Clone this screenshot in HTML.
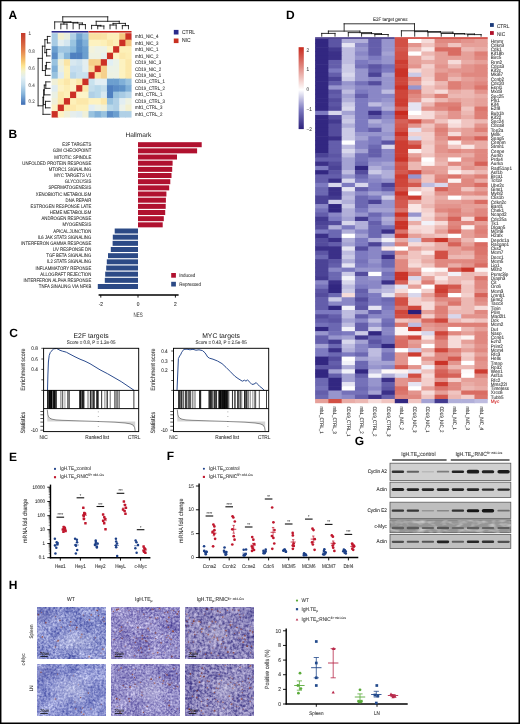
<!DOCTYPE html>
<html><head><meta charset="utf-8"><style>
html,body{margin:0;padding:0;background:#fff;width:520px;height:724px;overflow:hidden;}
svg{display:block;font-family:"Liberation Sans", sans-serif;text-rendering:geometricPrecision;will-change:transform;}
</style></head><body>
<svg width="520" height="724" viewBox="0 0 520 724">
<rect width="520" height="724" fill="#fff"/>
<text x="8.40" y="18.70" font-size="12.000" text-anchor="start" fill="#000" font-weight="bold" >A</text>
<defs><linearGradient id="gA" x1="0" y1="0" x2="0" y2="1"><stop offset="0" stop-color="#c43a2c"/><stop offset="0.12" stop-color="#d2583a"/><stop offset="0.25" stop-color="#e4844e"/><stop offset="0.37" stop-color="#f4bc68"/><stop offset="0.46" stop-color="#fde592"/><stop offset="0.53" stop-color="#f4f2cc"/><stop offset="0.62" stop-color="#e0eef2"/><stop offset="0.72" stop-color="#c2dcec"/><stop offset="0.85" stop-color="#86b4da"/><stop offset="1" stop-color="#3e6db4"/></linearGradient></defs>
<rect x="21.00" y="33.00" width="4.40" height="71.80" fill="url(#gA)" />
<text transform="translate(28.50,35.30) scale(0.8696,1)" font-size="5.175" text-anchor="start" fill="#555" font-weight="normal" stroke="#555" stroke-width="0.08" >1</text>
<text transform="translate(28.50,52.50) scale(0.8696,1)" font-size="5.175" text-anchor="start" fill="#555" font-weight="normal" stroke="#555" stroke-width="0.08" >0.8</text>
<text transform="translate(28.50,69.60) scale(0.8696,1)" font-size="5.175" text-anchor="start" fill="#555" font-weight="normal" stroke="#555" stroke-width="0.08" >0.6</text>
<text transform="translate(28.50,86.70) scale(0.8696,1)" font-size="5.175" text-anchor="start" fill="#555" font-weight="normal" stroke="#555" stroke-width="0.08" >0.4</text>
<text transform="translate(28.50,103.40) scale(0.8696,1)" font-size="5.175" text-anchor="start" fill="#555" font-weight="normal" stroke="#555" stroke-width="0.08" >0.2</text>
<rect x="51.60" y="33.20" width="6.75" height="7.09" fill="#a8cbe4" />
<rect x="57.75" y="33.20" width="6.75" height="7.09" fill="#f3efcd" />
<rect x="63.90" y="33.20" width="6.75" height="7.09" fill="#e8eee0" />
<rect x="70.05" y="33.20" width="6.75" height="7.09" fill="#b0d0e6" />
<rect x="76.20" y="33.20" width="6.75" height="7.09" fill="#72a3d0" />
<rect x="82.35" y="33.20" width="6.75" height="7.09" fill="#95c0df" />
<rect x="88.50" y="33.20" width="6.75" height="7.09" fill="#fae0a0" />
<rect x="94.65" y="33.20" width="6.75" height="7.09" fill="#fae0a0" />
<rect x="100.80" y="33.20" width="6.75" height="7.09" fill="#fae2a4" />
<rect x="106.95" y="33.20" width="6.75" height="7.09" fill="#fcefb8" />
<rect x="113.10" y="33.20" width="6.75" height="7.09" fill="#fcefb8" />
<rect x="119.25" y="33.20" width="6.75" height="7.09" fill="#f5c880" />
<rect x="125.40" y="33.20" width="6.15" height="7.09" fill="#cc3026" />
<rect x="51.60" y="39.69" width="6.75" height="7.09" fill="#a8cbe4" />
<rect x="57.75" y="39.69" width="6.75" height="7.09" fill="#e4eef0" />
<rect x="63.90" y="39.69" width="6.75" height="7.09" fill="#d4e6f0" />
<rect x="70.05" y="39.69" width="6.75" height="7.09" fill="#9ac4e0" />
<rect x="76.20" y="39.69" width="6.75" height="7.09" fill="#5f93c8" />
<rect x="82.35" y="39.69" width="6.75" height="7.09" fill="#80b0d8" />
<rect x="88.50" y="39.69" width="6.75" height="7.09" fill="#fdf2c0" />
<rect x="94.65" y="39.69" width="6.75" height="7.09" fill="#fdf2c0" />
<rect x="100.80" y="39.69" width="6.75" height="7.09" fill="#fdf0b8" />
<rect x="106.95" y="39.69" width="6.75" height="7.09" fill="#fbe7a8" />
<rect x="113.10" y="39.69" width="6.75" height="7.09" fill="#fcefb8" />
<rect x="119.25" y="39.69" width="6.75" height="7.09" fill="#cc3026" />
<rect x="125.40" y="39.69" width="6.15" height="7.09" fill="#f3c47e" />
<rect x="51.60" y="46.18" width="6.75" height="7.09" fill="#6c9fcf" />
<rect x="57.75" y="46.18" width="6.75" height="7.09" fill="#a0c6e2" />
<rect x="63.90" y="46.18" width="6.75" height="7.09" fill="#a0c6e2" />
<rect x="70.05" y="46.18" width="6.75" height="7.09" fill="#88b8dc" />
<rect x="76.20" y="46.18" width="6.75" height="7.09" fill="#5a8fc6" />
<rect x="82.35" y="46.18" width="6.75" height="7.09" fill="#6ca0d0" />
<rect x="88.50" y="46.18" width="6.75" height="7.09" fill="#f3f3dc" />
<rect x="94.65" y="46.18" width="6.75" height="7.09" fill="#edf2e6" />
<rect x="100.80" y="46.18" width="6.75" height="7.09" fill="#edf2e6" />
<rect x="106.95" y="46.18" width="6.75" height="7.09" fill="#fdf4c6" />
<rect x="113.10" y="46.18" width="6.75" height="7.09" fill="#cc3026" />
<rect x="119.25" y="46.18" width="6.75" height="7.09" fill="#fdf0b8" />
<rect x="125.40" y="46.18" width="6.15" height="7.09" fill="#fdf0b8" />
<rect x="51.60" y="52.67" width="6.75" height="7.09" fill="#5a8cc6" />
<rect x="57.75" y="52.67" width="6.75" height="7.09" fill="#b8d8ea" />
<rect x="63.90" y="52.67" width="6.75" height="7.09" fill="#85b5da" />
<rect x="70.05" y="52.67" width="6.75" height="7.09" fill="#4f80c0" />
<rect x="76.20" y="52.67" width="6.75" height="7.09" fill="#4f80c0" />
<rect x="82.35" y="52.67" width="6.75" height="7.09" fill="#6c9fcf" />
<rect x="88.50" y="52.67" width="6.75" height="7.09" fill="#eef2e2" />
<rect x="94.65" y="52.67" width="6.75" height="7.09" fill="#eef2e2" />
<rect x="100.80" y="52.67" width="6.75" height="7.09" fill="#e6f0ee" />
<rect x="106.95" y="52.67" width="6.75" height="7.09" fill="#cc3026" />
<rect x="113.10" y="52.67" width="6.75" height="7.09" fill="#fdf4c6" />
<rect x="119.25" y="52.67" width="6.75" height="7.09" fill="#fce9ac" />
<rect x="125.40" y="52.67" width="6.15" height="7.09" fill="#fdeeb4" />
<rect x="51.60" y="59.16" width="6.75" height="7.09" fill="#98c2df" />
<rect x="57.75" y="59.16" width="6.75" height="7.09" fill="#f0f0d8" />
<rect x="63.90" y="59.16" width="6.75" height="7.09" fill="#fbe5a5" />
<rect x="70.05" y="59.16" width="6.75" height="7.09" fill="#d8e8f0" />
<rect x="76.20" y="59.16" width="6.75" height="7.09" fill="#cfe3ef" />
<rect x="82.35" y="59.16" width="6.75" height="7.09" fill="#e4eef0" />
<rect x="88.50" y="59.16" width="6.75" height="7.09" fill="#f6cf88" />
<rect x="94.65" y="59.16" width="6.75" height="7.09" fill="#f6d08c" />
<rect x="100.80" y="59.16" width="6.75" height="7.09" fill="#cc3026" />
<rect x="106.95" y="59.16" width="6.75" height="7.09" fill="#e1eff4" />
<rect x="113.10" y="59.16" width="6.75" height="7.09" fill="#ebf2e8" />
<rect x="119.25" y="59.16" width="6.75" height="7.09" fill="#fdf2c0" />
<rect x="125.40" y="59.16" width="6.15" height="7.09" fill="#fce8aa" />
<rect x="51.60" y="65.65" width="6.75" height="7.09" fill="#80b0d8" />
<rect x="57.75" y="65.65" width="6.75" height="7.09" fill="#eaf0e4" />
<rect x="63.90" y="65.65" width="6.75" height="7.09" fill="#fdf0b8" />
<rect x="70.05" y="65.65" width="6.75" height="7.09" fill="#c6def0" />
<rect x="76.20" y="65.65" width="6.75" height="7.09" fill="#c8dfee" />
<rect x="82.35" y="65.65" width="6.75" height="7.09" fill="#e2eef2" />
<rect x="88.50" y="65.65" width="6.75" height="7.09" fill="#fadc9c" />
<rect x="94.65" y="65.65" width="6.75" height="7.09" fill="#cc3026" />
<rect x="100.80" y="65.65" width="6.75" height="7.09" fill="#f6d08c" />
<rect x="106.95" y="65.65" width="6.75" height="7.09" fill="#ecf2e6" />
<rect x="113.10" y="65.65" width="6.75" height="7.09" fill="#ecf2e6" />
<rect x="119.25" y="65.65" width="6.75" height="7.09" fill="#fdf2c0" />
<rect x="125.40" y="65.65" width="6.15" height="7.09" fill="#fce8aa" />
<rect x="51.60" y="72.14" width="6.75" height="7.09" fill="#98c2df" />
<rect x="57.75" y="72.14" width="6.75" height="7.09" fill="#dfecf2" />
<rect x="63.90" y="72.14" width="6.75" height="7.09" fill="#fcf0b8" />
<rect x="70.05" y="72.14" width="6.75" height="7.09" fill="#b8d6ea" />
<rect x="76.20" y="72.14" width="6.75" height="7.09" fill="#c8e0ee" />
<rect x="82.35" y="72.14" width="6.75" height="7.09" fill="#c8e0ee" />
<rect x="88.50" y="72.14" width="6.75" height="7.09" fill="#cc3026" />
<rect x="94.65" y="72.14" width="6.75" height="7.09" fill="#fde5a4" />
<rect x="100.80" y="72.14" width="6.75" height="7.09" fill="#f6d08c" />
<rect x="106.95" y="72.14" width="6.75" height="7.09" fill="#eef2e2" />
<rect x="113.10" y="72.14" width="6.75" height="7.09" fill="#eef2e4" />
<rect x="119.25" y="72.14" width="6.75" height="7.09" fill="#fdf2c0" />
<rect x="125.40" y="72.14" width="6.15" height="7.09" fill="#fce8aa" />
<rect x="51.60" y="78.63" width="6.75" height="7.09" fill="#f0f0d8" />
<rect x="57.75" y="78.63" width="6.75" height="7.09" fill="#fdf0b8" />
<rect x="63.90" y="78.63" width="6.75" height="7.09" fill="#fce7a8" />
<rect x="70.05" y="78.63" width="6.75" height="7.09" fill="#fdf2c4" />
<rect x="76.20" y="78.63" width="6.75" height="7.09" fill="#fce8aa" />
<rect x="82.35" y="78.63" width="6.75" height="7.09" fill="#cc3026" />
<rect x="88.50" y="78.63" width="6.75" height="7.09" fill="#c8e2ee" />
<rect x="94.65" y="78.63" width="6.75" height="7.09" fill="#e2eef4" />
<rect x="100.80" y="78.63" width="6.75" height="7.09" fill="#e2eef4" />
<rect x="106.95" y="78.63" width="6.75" height="7.09" fill="#6c9fcf" />
<rect x="113.10" y="78.63" width="6.75" height="7.09" fill="#6c9fcf" />
<rect x="119.25" y="78.63" width="6.75" height="7.09" fill="#80b0d8" />
<rect x="125.40" y="78.63" width="6.15" height="7.09" fill="#98c2df" />
<rect x="51.60" y="85.12" width="6.75" height="7.09" fill="#e0ecf0" />
<rect x="57.75" y="85.12" width="6.75" height="7.09" fill="#fdf2c4" />
<rect x="63.90" y="85.12" width="6.75" height="7.09" fill="#fdeeb4" />
<rect x="70.05" y="85.12" width="6.75" height="7.09" fill="#fdf4c8" />
<rect x="76.20" y="85.12" width="6.75" height="7.09" fill="#cc3026" />
<rect x="82.35" y="85.12" width="6.75" height="7.09" fill="#fce8aa" />
<rect x="88.50" y="85.12" width="6.75" height="7.09" fill="#c4deec" />
<rect x="94.65" y="85.12" width="6.75" height="7.09" fill="#b8d8ea" />
<rect x="100.80" y="85.12" width="6.75" height="7.09" fill="#c4deec" />
<rect x="106.95" y="85.12" width="6.75" height="7.09" fill="#4f80c0" />
<rect x="113.10" y="85.12" width="6.75" height="7.09" fill="#5a8cc6" />
<rect x="119.25" y="85.12" width="6.75" height="7.09" fill="#5f93c8" />
<rect x="125.40" y="85.12" width="6.15" height="7.09" fill="#80b0d8" />
<rect x="51.60" y="91.61" width="6.75" height="7.09" fill="#eaf0e4" />
<rect x="57.75" y="91.61" width="6.75" height="7.09" fill="#fce9ac" />
<rect x="63.90" y="91.61" width="6.75" height="7.09" fill="#fdf0b8" />
<rect x="70.05" y="91.61" width="6.75" height="7.09" fill="#cc3026" />
<rect x="76.20" y="91.61" width="6.75" height="7.09" fill="#fdf4c8" />
<rect x="82.35" y="91.61" width="6.75" height="7.09" fill="#fdf4c8" />
<rect x="88.50" y="91.61" width="6.75" height="7.09" fill="#b0d0e6" />
<rect x="94.65" y="91.61" width="6.75" height="7.09" fill="#b8d8ea" />
<rect x="100.80" y="91.61" width="6.75" height="7.09" fill="#d8e8f0" />
<rect x="106.95" y="91.61" width="6.75" height="7.09" fill="#4f80c0" />
<rect x="113.10" y="91.61" width="6.75" height="7.09" fill="#98c2df" />
<rect x="119.25" y="91.61" width="6.75" height="7.09" fill="#a8cbe4" />
<rect x="125.40" y="91.61" width="6.15" height="7.09" fill="#b8d6ea" />
<rect x="51.60" y="98.10" width="6.75" height="7.09" fill="#f0f0d8" />
<rect x="57.75" y="98.10" width="6.75" height="7.09" fill="#fce8aa" />
<rect x="63.90" y="98.10" width="6.75" height="7.09" fill="#cc3026" />
<rect x="70.05" y="98.10" width="6.75" height="7.09" fill="#fdf0b8" />
<rect x="76.20" y="98.10" width="6.75" height="7.09" fill="#fce8aa" />
<rect x="82.35" y="98.10" width="6.75" height="7.09" fill="#fce8aa" />
<rect x="88.50" y="98.10" width="6.75" height="7.09" fill="#fdf2c0" />
<rect x="94.65" y="98.10" width="6.75" height="7.09" fill="#fdf2c0" />
<rect x="100.80" y="98.10" width="6.75" height="7.09" fill="#fce8aa" />
<rect x="106.95" y="98.10" width="6.75" height="7.09" fill="#98c2df" />
<rect x="113.10" y="98.10" width="6.75" height="7.09" fill="#b0d0e6" />
<rect x="119.25" y="98.10" width="6.75" height="7.09" fill="#e2eef2" />
<rect x="125.40" y="98.10" width="6.15" height="7.09" fill="#eef2e2" />
<rect x="51.60" y="104.59" width="6.75" height="7.09" fill="#fdf2c4" />
<rect x="57.75" y="104.59" width="6.75" height="7.09" fill="#cc3026" />
<rect x="63.90" y="104.59" width="6.75" height="7.09" fill="#fce8aa" />
<rect x="70.05" y="104.59" width="6.75" height="7.09" fill="#fde9ac" />
<rect x="76.20" y="104.59" width="6.75" height="7.09" fill="#fdf0b8" />
<rect x="82.35" y="104.59" width="6.75" height="7.09" fill="#fdf0b8" />
<rect x="88.50" y="104.59" width="6.75" height="7.09" fill="#e2eef4" />
<rect x="94.65" y="104.59" width="6.75" height="7.09" fill="#ecf2e6" />
<rect x="100.80" y="104.59" width="6.75" height="7.09" fill="#f0f0d8" />
<rect x="106.95" y="104.59" width="6.75" height="7.09" fill="#b8d8ea" />
<rect x="113.10" y="104.59" width="6.75" height="7.09" fill="#b0d0e6" />
<rect x="119.25" y="104.59" width="6.75" height="7.09" fill="#ecf2ea" />
<rect x="125.40" y="104.59" width="6.15" height="7.09" fill="#f3f0d0" />
<rect x="51.60" y="111.08" width="6.75" height="6.49" fill="#cc3026" />
<rect x="57.75" y="111.08" width="6.75" height="6.49" fill="#fdf2c4" />
<rect x="63.90" y="111.08" width="6.75" height="6.49" fill="#f0f0d8" />
<rect x="70.05" y="111.08" width="6.75" height="6.49" fill="#e6eeec" />
<rect x="76.20" y="111.08" width="6.75" height="6.49" fill="#e0ecf0" />
<rect x="82.35" y="111.08" width="6.75" height="6.49" fill="#f0f0d8" />
<rect x="88.50" y="111.08" width="6.75" height="6.49" fill="#98c2df" />
<rect x="94.65" y="111.08" width="6.75" height="6.49" fill="#80b0d8" />
<rect x="100.80" y="111.08" width="6.75" height="6.49" fill="#98c2df" />
<rect x="106.95" y="111.08" width="6.75" height="6.49" fill="#5a8cc6" />
<rect x="113.10" y="111.08" width="6.75" height="6.49" fill="#6c9fcf" />
<rect x="119.25" y="111.08" width="6.75" height="6.49" fill="#b0d0e6" />
<rect x="125.40" y="111.08" width="6.15" height="6.49" fill="#b0d0e6" />
<rect x="51.60" y="31.00" width="36.90" height="1.60" fill="#2b2a8c" />
<rect x="88.50" y="31.00" width="43.05" height="1.60" fill="#c8281e" />
<path d="M60.83 28.80L60.83 24.10 M66.97 28.80L66.97 24.10 M60.83 24.10L66.97 24.10 M79.28 28.80L79.28 24.60 M85.43 28.80L85.43 24.60 M79.28 24.60L85.43 24.60 M73.12 28.80L73.12 23.00 M82.35 24.60L82.35 23.00 M73.12 23.00L82.35 23.00 M63.90 24.10L63.90 22.40 M77.74 23.00L77.74 22.40 M63.90 22.40L77.74 22.40 M54.68 28.80L54.68 21.90 M70.82 22.40L70.82 21.90 M54.68 21.90L70.82 21.90 M97.72 28.80L97.72 26.00 M103.88 28.80L103.88 26.00 M97.72 26.00L103.88 26.00 M91.58 28.80L91.58 25.40 M100.80 26.00L100.80 25.40 M91.58 25.40L100.80 25.40 M110.03 28.80L110.03 25.00 M116.18 28.80L116.18 25.00 M110.03 25.00L116.18 25.00 M122.33 28.80L122.33 25.60 M128.47 28.80L128.47 25.60 M122.33 25.60L128.47 25.60 M113.10 25.00L113.10 23.40 M125.40 25.60L125.40 23.40 M113.10 23.40L125.40 23.40 M96.19 25.40L96.19 21.30 M119.25 23.40L119.25 21.30 M96.19 21.30L119.25 21.30 M62.75 21.90L62.75 16.80 M107.72 21.30L107.72 16.80 M62.75 16.80L107.72 16.80 M50.10 36.45L47.40 36.45 M50.10 42.94L47.40 42.94 M47.40 36.45L47.40 42.94 M50.10 49.43L46.60 49.43 M50.10 55.92L46.60 55.92 M46.60 49.43L46.60 55.92 M47.40 39.69L44.90 39.69 M46.60 52.67L44.90 52.67 M44.90 39.69L44.90 52.67 M50.10 62.41L46.40 62.41 M50.10 68.90L46.40 68.90 M46.40 62.41L46.40 68.90 M46.40 65.65L45.40 65.65 M50.10 75.39L45.40 75.39 M45.40 65.65L45.40 75.39 M44.90 46.18L42.40 46.18 M45.40 70.52L42.40 70.52 M42.40 46.18L42.40 70.52 M50.10 81.88L45.80 81.88 M50.10 88.37L45.80 88.37 M45.80 81.88L45.80 88.37 M45.80 85.12L44.30 85.12 M50.10 94.86L44.30 94.86 M44.30 85.12L44.30 94.86 M50.10 101.34L45.50 101.34 M50.10 107.84L45.50 107.84 M45.50 101.34L45.50 107.84 M44.30 89.99L43.60 89.99 M45.50 104.59L43.60 104.59 M43.60 89.99L43.60 104.59 M43.60 97.29L43.00 97.29 M50.10 114.33L43.00 114.33 M43.00 97.29L43.00 114.33 M42.40 58.35L38.10 58.35 M43.00 105.81L38.10 105.81 M38.10 58.35L38.10 105.81" stroke="#111" stroke-width="0.85" fill="none" stroke-linecap="square"/>
<text transform="translate(135.00,38.05) scale(0.8696,1)" font-size="5.060" text-anchor="start" fill="#333" font-weight="normal" stroke="#333" stroke-width="0.08" >mb1_NIC_4</text>
<text transform="translate(135.00,44.54) scale(0.8696,1)" font-size="5.060" text-anchor="start" fill="#333" font-weight="normal" stroke="#333" stroke-width="0.08" >mb1_NIC_3</text>
<text transform="translate(135.00,51.03) scale(0.8696,1)" font-size="5.060" text-anchor="start" fill="#333" font-weight="normal" stroke="#333" stroke-width="0.08" >mb1_NIC_1</text>
<text transform="translate(135.00,57.52) scale(0.8696,1)" font-size="5.060" text-anchor="start" fill="#333" font-weight="normal" stroke="#333" stroke-width="0.08" >mb1_NIC_2</text>
<text transform="translate(135.00,64.00) scale(0.8696,1)" font-size="5.060" text-anchor="start" fill="#333" font-weight="normal" stroke="#333" stroke-width="0.08" >CD19_NIC_3</text>
<text transform="translate(135.00,70.50) scale(0.8696,1)" font-size="5.060" text-anchor="start" fill="#333" font-weight="normal" stroke="#333" stroke-width="0.08" >CD19_NIC_2</text>
<text transform="translate(135.00,76.98) scale(0.8696,1)" font-size="5.060" text-anchor="start" fill="#333" font-weight="normal" stroke="#333" stroke-width="0.08" >CD19_NIC_1</text>
<text transform="translate(135.00,83.47) scale(0.8696,1)" font-size="5.060" text-anchor="start" fill="#333" font-weight="normal" stroke="#333" stroke-width="0.08" >CD19_CTRL_1</text>
<text transform="translate(135.00,89.97) scale(0.8696,1)" font-size="5.060" text-anchor="start" fill="#333" font-weight="normal" stroke="#333" stroke-width="0.08" >CD19_CTRL_2</text>
<text transform="translate(135.00,96.45) scale(0.8696,1)" font-size="5.060" text-anchor="start" fill="#333" font-weight="normal" stroke="#333" stroke-width="0.08" >mb1_CTRL_1</text>
<text transform="translate(135.00,102.94) scale(0.8696,1)" font-size="5.060" text-anchor="start" fill="#333" font-weight="normal" stroke="#333" stroke-width="0.08" >CD19_CTRL_3</text>
<text transform="translate(135.00,109.44) scale(0.8696,1)" font-size="5.060" text-anchor="start" fill="#333" font-weight="normal" stroke="#333" stroke-width="0.08" >mb1_CTRL_3</text>
<text transform="translate(135.00,115.92) scale(0.8696,1)" font-size="5.060" text-anchor="start" fill="#333" font-weight="normal" stroke="#333" stroke-width="0.08" >mb1_CTRL_2</text>
<rect x="173.80" y="29.90" width="4.70" height="4.60" fill="#2a2a8a" />
<text transform="translate(182.00,33.80) scale(0.8696,1)" font-size="5.750" text-anchor="start" fill="#333" font-weight="normal" stroke="#333" stroke-width="0.08" >CTRL</text>
<rect x="173.80" y="38.50" width="4.70" height="4.60" fill="#c83020" />
<text transform="translate(182.00,42.40) scale(0.8696,1)" font-size="5.750" text-anchor="start" fill="#333" font-weight="normal" stroke="#333" stroke-width="0.08" >NIC</text>
<text x="8.60" y="137.60" font-size="12.000" text-anchor="start" fill="#000" font-weight="bold" >B</text>
<text x="138.40" y="137.40" font-size="6.600" text-anchor="middle" fill="#222" font-weight="normal" >Hallmark</text>
<rect x="138.00" y="142.20" width="63.70" height="5.00" fill="#b0112f" />
<text transform="translate(91.30,146.20) scale(0.8696,1)" font-size="4.945" text-anchor="end" fill="#333" font-weight="normal" stroke="#333" stroke-width="0.08" >E2F TARGETS</text>
<rect x="138.00" y="148.36" width="59.10" height="5.00" fill="#b0112f" />
<text transform="translate(91.30,152.36) scale(0.8696,1)" font-size="4.945" text-anchor="end" fill="#333" font-weight="normal" stroke="#333" stroke-width="0.08" >G2M CHECKPOINT</text>
<rect x="138.00" y="154.53" width="39.00" height="5.00" fill="#b0112f" />
<text transform="translate(91.30,158.53) scale(0.8696,1)" font-size="4.945" text-anchor="end" fill="#333" font-weight="normal" stroke="#333" stroke-width="0.08" >MITOTIC SPINDLE</text>
<rect x="138.00" y="160.69" width="34.60" height="5.00" fill="#b0112f" />
<text transform="translate(91.30,164.69) scale(0.8696,1)" font-size="4.945" text-anchor="end" fill="#333" font-weight="normal" stroke="#333" stroke-width="0.08" >UNFOLDED PROTEIN RESPONSE</text>
<rect x="138.00" y="166.86" width="34.20" height="5.00" fill="#b0112f" />
<text transform="translate(91.30,170.86) scale(0.8696,1)" font-size="4.945" text-anchor="end" fill="#333" font-weight="normal" stroke="#333" stroke-width="0.08" >MTORC1 SIGNALING</text>
<rect x="138.00" y="173.02" width="33.50" height="5.00" fill="#b0112f" />
<text transform="translate(91.30,177.02) scale(0.8696,1)" font-size="4.945" text-anchor="end" fill="#333" font-weight="normal" stroke="#333" stroke-width="0.08" >MYC TARGETS V1</text>
<rect x="138.00" y="179.19" width="32.30" height="5.00" fill="#b0112f" />
<text transform="translate(91.30,183.19) scale(0.8696,1)" font-size="4.945" text-anchor="end" fill="#333" font-weight="normal" stroke="#333" stroke-width="0.08" >GLYCOLYSIS</text>
<rect x="138.00" y="185.35" width="31.20" height="5.00" fill="#b0112f" />
<text transform="translate(91.30,189.35) scale(0.8696,1)" font-size="4.945" text-anchor="end" fill="#333" font-weight="normal" stroke="#333" stroke-width="0.08" >SPERMATOGENESIS</text>
<rect x="138.00" y="191.52" width="28.40" height="5.00" fill="#b0112f" />
<text transform="translate(91.30,195.52) scale(0.8696,1)" font-size="4.945" text-anchor="end" fill="#333" font-weight="normal" stroke="#333" stroke-width="0.08" >XENOBIOTIC METABOLISM</text>
<rect x="138.00" y="197.69" width="27.90" height="5.00" fill="#b0112f" />
<text transform="translate(91.30,201.69) scale(0.8696,1)" font-size="4.945" text-anchor="end" fill="#333" font-weight="normal" stroke="#333" stroke-width="0.08" >DNA REPAIR</text>
<rect x="138.00" y="203.85" width="27.70" height="5.00" fill="#b0112f" />
<text transform="translate(91.30,207.85) scale(0.8696,1)" font-size="4.945" text-anchor="end" fill="#333" font-weight="normal" stroke="#333" stroke-width="0.08" >ESTROGEN RESPONSE LATE</text>
<rect x="138.00" y="210.01" width="27.20" height="5.00" fill="#b0112f" />
<text transform="translate(91.30,214.01) scale(0.8696,1)" font-size="4.945" text-anchor="end" fill="#333" font-weight="normal" stroke="#333" stroke-width="0.08" >HEME METABOLISM</text>
<rect x="138.00" y="216.18" width="25.80" height="5.00" fill="#b0112f" />
<text transform="translate(91.30,220.18) scale(0.8696,1)" font-size="4.945" text-anchor="end" fill="#333" font-weight="normal" stroke="#333" stroke-width="0.08" >ANDROGEN RESPONSE</text>
<rect x="138.00" y="222.34" width="24.70" height="5.00" fill="#b0112f" />
<text transform="translate(91.30,226.34) scale(0.8696,1)" font-size="4.945" text-anchor="end" fill="#333" font-weight="normal" stroke="#333" stroke-width="0.08" >MYOGENESIS</text>
<rect x="114.70" y="228.51" width="23.30" height="5.00" fill="#2c4a86" />
<text transform="translate(91.30,232.51) scale(0.8696,1)" font-size="4.945" text-anchor="end" fill="#333" font-weight="normal" stroke="#333" stroke-width="0.08" >APICAL JUNCTION</text>
<rect x="112.80" y="234.67" width="25.20" height="5.00" fill="#2c4a86" />
<text transform="translate(91.30,238.67) scale(0.8696,1)" font-size="4.945" text-anchor="end" fill="#333" font-weight="normal" stroke="#333" stroke-width="0.08" >IL6 JAK STAT3 SIGNALING</text>
<rect x="112.60" y="240.84" width="25.40" height="5.00" fill="#2c4a86" />
<text transform="translate(91.30,244.84) scale(0.8696,1)" font-size="4.945" text-anchor="end" fill="#333" font-weight="normal" stroke="#333" stroke-width="0.08" >INTERFERON GAMMA RESPONSE</text>
<rect x="110.80" y="247.00" width="27.20" height="5.00" fill="#2c4a86" />
<text transform="translate(91.30,251.00) scale(0.8696,1)" font-size="4.945" text-anchor="end" fill="#333" font-weight="normal" stroke="#333" stroke-width="0.08" >UV RESPONSE DN</text>
<rect x="108.00" y="253.17" width="30.00" height="5.00" fill="#2c4a86" />
<text transform="translate(91.30,257.17) scale(0.8696,1)" font-size="4.945" text-anchor="end" fill="#333" font-weight="normal" stroke="#333" stroke-width="0.08" >TGF BETA SIGNALING</text>
<rect x="106.80" y="259.33" width="31.20" height="5.00" fill="#2c4a86" />
<text transform="translate(91.30,263.33) scale(0.8696,1)" font-size="4.945" text-anchor="end" fill="#333" font-weight="normal" stroke="#333" stroke-width="0.08" >IL2 STAT5 SIGNALING</text>
<rect x="106.20" y="265.50" width="31.80" height="5.00" fill="#2c4a86" />
<text transform="translate(91.30,269.50) scale(0.8696,1)" font-size="4.945" text-anchor="end" fill="#333" font-weight="normal" stroke="#333" stroke-width="0.08" >INFLAMMATORY REPONSE</text>
<rect x="105.20" y="271.66" width="32.80" height="5.00" fill="#2c4a86" />
<text transform="translate(91.30,275.66) scale(0.8696,1)" font-size="4.945" text-anchor="end" fill="#333" font-weight="normal" stroke="#333" stroke-width="0.08" >ALLOGRAFT REJECTION</text>
<rect x="104.80" y="277.83" width="33.20" height="5.00" fill="#2c4a86" />
<text transform="translate(91.30,281.83) scale(0.8696,1)" font-size="4.945" text-anchor="end" fill="#333" font-weight="normal" stroke="#333" stroke-width="0.08" >INTERFERON ALPHA RESPONSE</text>
<rect x="97.80" y="284.00" width="40.20" height="5.00" fill="#2c4a86" />
<text transform="translate(91.30,288.00) scale(0.8696,1)" font-size="4.945" text-anchor="end" fill="#333" font-weight="normal" stroke="#333" stroke-width="0.08" >TNFA SINALING VIA NFKB</text>
<line x1="98.60" y1="295.00" x2="178.60" y2="295.00" stroke="#000" stroke-width="1.3" />
<line x1="100.80" y1="295.00" x2="100.80" y2="297.60" stroke="#000" stroke-width="0.9" />
<text transform="translate(100.80,305.60) scale(0.8696,1)" font-size="5.635" text-anchor="middle" fill="#333" font-weight="normal" stroke="#333" stroke-width="0.08" >-2</text>
<line x1="138.00" y1="295.00" x2="138.00" y2="297.60" stroke="#000" stroke-width="0.9" />
<text transform="translate(138.00,305.60) scale(0.8696,1)" font-size="5.635" text-anchor="middle" fill="#333" font-weight="normal" stroke="#333" stroke-width="0.08" >0</text>
<line x1="175.40" y1="295.00" x2="175.40" y2="297.60" stroke="#000" stroke-width="0.9" />
<text transform="translate(175.40,305.60) scale(0.8696,1)" font-size="5.635" text-anchor="middle" fill="#333" font-weight="normal" stroke="#333" stroke-width="0.08" >2</text>
<text x="138.20" y="316.80" font-size="6.400" text-anchor="middle" fill="#333" font-weight="normal" textLength="9.2" lengthAdjust="spacingAndGlyphs">NES</text>
<rect x="171.20" y="273.00" width="4.70" height="4.70" fill="#b0112f" />
<text transform="translate(179.20,277.00) scale(0.8696,1)" font-size="5.175" text-anchor="start" fill="#333" font-weight="normal" stroke="#333" stroke-width="0.08" >Induced</text>
<rect x="171.20" y="281.80" width="4.70" height="4.70" fill="#2c4a86" />
<text transform="translate(179.20,285.80) scale(0.8696,1)" font-size="5.175" text-anchor="start" fill="#333" font-weight="normal" stroke="#333" stroke-width="0.08" >Repressed</text>
<text x="9.20" y="337.40" font-size="12.000" text-anchor="start" fill="#000" font-weight="bold" >C</text>
<text x="91.15" y="337.90" font-size="6.800" text-anchor="middle" fill="#111" font-weight="normal" >E2F targets</text>
<text transform="translate(91.15,344.40) scale(0.8696,1)" font-size="5.175" text-anchor="middle" fill="#333" font-weight="normal" stroke="#333" stroke-width="0.08" >Score = 0.8, P = 1.2e-05</text>
<rect x="50.28" y="390.40" width="0.88" height="18.20" fill="rgb(17,17,17)"/><rect x="52.82" y="390.40" width="0.70" height="18.20" fill="rgb(14,14,14)"/><rect x="51.32" y="390.40" width="0.85" height="18.20" fill="rgb(5,5,5)"/><rect x="50.46" y="390.40" width="0.85" height="18.20" fill="rgb(19,19,19)"/><rect x="47.52" y="390.40" width="0.52" height="18.20" fill="rgb(9,9,9)"/><rect x="50.95" y="390.40" width="0.47" height="18.20" fill="rgb(20,20,20)"/><rect x="54.36" y="390.40" width="0.78" height="18.20" fill="rgb(14,14,14)"/><rect x="51.54" y="390.40" width="0.76" height="18.20" fill="rgb(5,5,5)"/><rect x="53.20" y="390.40" width="0.48" height="18.20" fill="rgb(2,2,2)"/><rect x="48.26" y="390.40" width="0.75" height="18.20" fill="rgb(7,7,7)"/><rect x="52.79" y="390.40" width="0.67" height="18.20" fill="rgb(10,10,10)"/><rect x="53.29" y="390.40" width="0.57" height="18.20" fill="rgb(16,16,16)"/><rect x="49.06" y="390.40" width="0.78" height="18.20" fill="rgb(0,0,0)"/><rect x="50.32" y="390.40" width="0.65" height="18.20" fill="rgb(8,8,8)"/><rect x="51.04" y="390.40" width="0.80" height="18.20" fill="rgb(2,2,2)"/><rect x="49.23" y="390.40" width="0.71" height="18.20" fill="rgb(7,7,7)"/><rect x="47.03" y="390.40" width="0.83" height="18.20" fill="rgb(18,18,18)"/><rect x="49.88" y="390.40" width="0.64" height="18.20" fill="rgb(9,9,9)"/><rect x="54.18" y="390.40" width="0.56" height="18.20" fill="rgb(0,0,0)"/><rect x="53.94" y="390.40" width="0.68" height="18.20" fill="rgb(1,1,1)"/><rect x="54.35" y="390.40" width="0.66" height="18.20" fill="rgb(12,12,12)"/><rect x="51.16" y="390.40" width="0.84" height="18.20" fill="rgb(6,6,6)"/><rect x="48.88" y="390.40" width="0.61" height="18.20" fill="rgb(2,2,2)"/><rect x="55.44" y="390.40" width="0.83" height="18.20" fill="rgb(26,26,26)"/><rect x="55.74" y="390.40" width="0.80" height="18.20" fill="rgb(15,15,15)"/><rect x="55.43" y="390.40" width="0.85" height="18.20" fill="rgb(29,29,29)"/><rect x="60.32" y="390.40" width="0.54" height="18.20" fill="rgb(91,91,91)"/><rect x="62.41" y="390.40" width="0.83" height="18.20" fill="rgb(113,113,113)"/><rect x="61.84" y="390.40" width="0.51" height="18.20" fill="rgb(69,69,69)"/><rect x="61.85" y="390.40" width="0.45" height="18.20" fill="rgb(47,47,47)"/><rect x="64.65" y="390.40" width="0.60" height="18.20" fill="rgb(95,95,95)"/><rect x="68.58" y="390.40" width="0.54" height="18.20" fill="rgb(6,6,6)"/><rect x="68.79" y="390.40" width="0.77" height="18.20" fill="rgb(19,19,19)"/><rect x="67.09" y="390.40" width="0.56" height="18.20" fill="rgb(4,4,4)"/><rect x="80.64" y="390.40" width="0.76" height="18.20" fill="rgb(24,24,24)"/><rect x="83.39" y="390.40" width="0.49" height="18.20" fill="rgb(12,12,12)"/><rect x="79.83" y="390.40" width="0.77" height="18.20" fill="rgb(18,18,18)"/><rect x="79.47" y="390.40" width="0.64" height="18.20" fill="rgb(11,11,11)"/><rect x="81.58" y="390.40" width="0.74" height="18.20" fill="rgb(30,30,30)"/><rect x="83.40" y="390.40" width="0.88" height="18.20" fill="rgb(4,4,4)"/><rect x="80.28" y="390.40" width="0.61" height="18.20" fill="rgb(4,4,4)"/><rect x="80.50" y="390.40" width="0.57" height="18.20" fill="rgb(19,19,19)"/><rect x="80.31" y="390.40" width="0.76" height="18.20" fill="rgb(23,23,23)"/><rect x="82.06" y="390.40" width="0.93" height="18.20" fill="rgb(21,21,21)"/><rect x="83.63" y="390.40" width="0.49" height="18.20" fill="rgb(19,19,19)"/><rect x="79.63" y="390.40" width="0.47" height="18.20" fill="rgb(3,3,3)"/><rect x="97.24" y="390.40" width="0.82" height="18.20" fill="rgb(30,30,30)"/><rect x="90.28" y="390.40" width="0.86" height="18.20" fill="rgb(53,53,53)"/><rect x="92.78" y="390.40" width="0.71" height="18.20" fill="rgb(37,37,37)"/><rect x="96.84" y="390.40" width="0.51" height="18.20" fill="rgb(8,8,8)"/><rect x="91.35" y="390.40" width="0.88" height="18.20" fill="rgb(83,83,83)"/><rect x="92.99" y="390.40" width="0.56" height="18.20" fill="rgb(35,35,35)"/><rect x="96.66" y="390.40" width="0.48" height="18.20" fill="rgb(2,2,2)"/><rect x="90.52" y="390.40" width="0.48" height="18.20" fill="rgb(31,31,31)"/><rect x="87.65" y="390.40" width="0.72" height="18.20" fill="rgb(47,47,47)"/><rect x="97.37" y="390.40" width="0.63" height="18.20" fill="rgb(11,11,11)"/><rect x="96.37" y="390.40" width="0.78" height="18.20" fill="rgb(42,42,42)"/><rect x="93.93" y="390.40" width="0.92" height="18.20" fill="rgb(74,74,74)"/><rect x="92.70" y="390.40" width="0.69" height="18.20" fill="rgb(2,2,2)"/><rect x="89.86" y="390.40" width="0.93" height="18.20" fill="rgb(39,39,39)"/><rect x="97.90" y="390.40" width="0.49" height="18.20" fill="rgb(101,101,101)"/><rect x="98.35" y="390.40" width="0.61" height="18.20" fill="rgb(59,59,59)"/><rect x="107.29" y="390.40" width="0.68" height="18.20" fill="rgb(29,29,29)"/><rect x="101.23" y="390.40" width="0.90" height="18.20" fill="rgb(25,25,25)"/><rect x="104.78" y="390.40" width="0.51" height="18.20" fill="rgb(110,110,110)"/><rect x="106.95" y="390.40" width="0.63" height="18.20" fill="rgb(63,63,63)"/><rect x="104.28" y="390.40" width="0.49" height="18.20" fill="rgb(135,135,135)"/><rect x="105.93" y="390.40" width="0.85" height="18.20" fill="rgb(140,140,140)"/><rect x="119.09" y="390.40" width="0.46" height="18.20" fill="rgb(133,133,133)"/><rect x="116.58" y="390.40" width="0.74" height="18.20" fill="rgb(108,108,108)"/><rect x="115.91" y="390.40" width="0.50" height="18.20" fill="rgb(70,70,70)"/><rect x="109.74" y="390.40" width="0.89" height="18.20" fill="rgb(92,92,92)"/><rect x="117.40" y="390.40" width="0.92" height="18.20" fill="rgb(109,109,109)"/><rect x="116.98" y="390.40" width="0.67" height="18.20" fill="rgb(118,118,118)"/><rect x="118.78" y="390.40" width="0.71" height="18.20" fill="rgb(70,70,70)"/><rect x="114.73" y="390.40" width="0.75" height="18.20" fill="rgb(99,99,99)"/><rect x="114.31" y="390.40" width="0.93" height="18.20" fill="rgb(89,89,89)"/><rect x="133.51" y="390.40" width="0.78" height="18.20" fill="rgb(9,9,9)"/>
<polygon points="47.30,421.5 47.30,409.60 47.80,414.50 48.60,416.80 50.00,418.30 52.00,419.20 56.00,419.90 62.00,420.30 80.00,420.90 98.00,421.50 115.00,422.20 125.00,423.00 130.00,423.80 133.00,425.00 134.60,427.50 135.20,431.00 135.20,421.5" fill="#d4d4d4"/>
<polyline points="47.30,409.60 47.80,414.50 48.60,416.80 50.00,418.30 52.00,419.20 56.00,419.90 62.00,420.30 80.00,420.90 98.00,421.50 115.00,422.20 125.00,423.00 130.00,423.80 133.00,425.00 134.60,427.50 135.20,431.00" fill="none" stroke="#444" stroke-width="0.6"/>
<rect x="97.90" y="411.50" width="0.60" height="0.80" fill="#555" />
<rect x="97.90" y="416.00" width="0.60" height="0.80" fill="#555" />
<rect x="97.90" y="421.00" width="0.60" height="0.80" fill="#555" />
<rect x="97.90" y="426.00" width="0.60" height="0.80" fill="#555" />
<polyline points="47.50,390.40 47.90,375.00 48.40,362.00 49.20,355.50 50.30,352.50 51.50,351.20 52.50,349.80 53.80,348.80 56.50,348.50 58.00,349.20 60.00,350.30 62.50,351.20 65.00,351.80 66.50,352.30 70.00,354.20 75.00,356.80 80.00,359.20 85.00,361.20 90.00,363.70 100.00,369.80 107.70,373.80 121.20,381.60 134.20,390.40" fill="none" stroke="#2c4c8e" stroke-width="1.0" stroke-linejoin="round"/>
<rect x="43.60" y="348.3" width="95.10" height="83.30" fill="none" stroke="#000" stroke-width="0.95"/>
<line x1="43.60" y1="390.40" x2="138.70" y2="390.40" stroke="#000" stroke-width="0.95" />
<line x1="43.60" y1="408.60" x2="138.70" y2="408.60" stroke="#000" stroke-width="0.95" />
<line x1="41.30" y1="348.30" x2="43.60" y2="348.30" stroke="#111" stroke-width="0.7" />
<text transform="translate(37.80,350.00) scale(0.8696,1)" font-size="5.405" text-anchor="end" fill="#333" font-weight="normal" stroke="#333" stroke-width="0.08" >0.8</text>
<line x1="41.30" y1="359.00" x2="43.60" y2="359.00" stroke="#111" stroke-width="0.7" />
<text transform="translate(37.80,360.70) scale(0.8696,1)" font-size="5.405" text-anchor="end" fill="#333" font-weight="normal" stroke="#333" stroke-width="0.08" >0.6</text>
<line x1="41.30" y1="369.40" x2="43.60" y2="369.40" stroke="#111" stroke-width="0.7" />
<text transform="translate(37.80,371.10) scale(0.8696,1)" font-size="5.405" text-anchor="end" fill="#333" font-weight="normal" stroke="#333" stroke-width="0.08" >0.4</text>
<line x1="41.30" y1="379.80" x2="43.60" y2="379.80" stroke="#111" stroke-width="0.7" />
<line x1="41.30" y1="390.40" x2="43.60" y2="390.40" stroke="#111" stroke-width="0.7" />
<line x1="40.40" y1="411.50" x2="43.60" y2="411.50" stroke="#111" stroke-width="0.7" />
<line x1="40.40" y1="414.80" x2="43.60" y2="414.80" stroke="#111" stroke-width="0.7" />
<line x1="40.40" y1="418.50" x2="43.60" y2="418.50" stroke="#111" stroke-width="0.7" />
<line x1="40.40" y1="422.10" x2="43.60" y2="422.10" stroke="#111" stroke-width="0.7" />
<line x1="40.40" y1="426.30" x2="43.60" y2="426.30" stroke="#111" stroke-width="0.7" />
<line x1="40.40" y1="430.20" x2="43.60" y2="430.20" stroke="#111" stroke-width="0.7" />
<text transform="translate(37.80,431.90) scale(0.8696,1)" font-size="5.405" text-anchor="end" fill="#333" font-weight="normal" stroke="#333" stroke-width="0.08" >-10</text>
<text x="0.00" y="0.00" font-size="6.268" text-anchor="middle" fill="#333" font-weight="normal" stroke="#333" stroke-width="0.08" transform="translate(25.20,369.6) rotate(-90) scale(0.8696,1)">Enrichment score</text>
<text x="0.00" y="0.00" font-size="6.268" text-anchor="middle" fill="#333" font-weight="normal" stroke="#333" stroke-width="0.08" transform="translate(25.20,422.6) rotate(-90) scale(0.8696,1)">Statistics</text>
<text transform="translate(43.60,439.20) scale(0.8696,1)" font-size="5.520" text-anchor="middle" fill="#333" font-weight="normal" stroke="#333" stroke-width="0.08" >NIC</text>
<text transform="translate(97.15,439.20) scale(0.8696,1)" font-size="5.520" text-anchor="middle" fill="#333" font-weight="normal" stroke="#333" stroke-width="0.08" >Ranked list</text>
<text transform="translate(134.20,439.20) scale(0.8696,1)" font-size="5.520" text-anchor="middle" fill="#333" font-weight="normal" stroke="#333" stroke-width="0.08" >CTRL</text>
<text x="221.10" y="337.90" font-size="6.800" text-anchor="middle" fill="#111" font-weight="normal" >MYC targets</text>
<text transform="translate(221.10,344.40) scale(0.8696,1)" font-size="5.175" text-anchor="middle" fill="#333" font-weight="normal" stroke="#333" stroke-width="0.08" >Score = 0.43, P = 2.5e-05</text>
<rect x="199.03" y="390.40" width="0.90" height="18.20" fill="rgb(37,37,37)"/><rect x="179.26" y="390.40" width="0.60" height="18.20" fill="rgb(75,75,75)"/><rect x="186.21" y="390.40" width="0.52" height="18.20" fill="rgb(45,45,45)"/><rect x="181.81" y="390.40" width="0.46" height="18.20" fill="rgb(56,56,56)"/><rect x="191.87" y="390.40" width="0.50" height="18.20" fill="rgb(3,3,3)"/><rect x="200.36" y="390.40" width="0.66" height="18.20" fill="rgb(63,63,63)"/><rect x="189.35" y="390.40" width="0.63" height="18.20" fill="rgb(55,55,55)"/><rect x="178.65" y="390.40" width="0.74" height="18.20" fill="rgb(4,4,4)"/><rect x="192.76" y="390.40" width="0.56" height="18.20" fill="rgb(79,79,79)"/><rect x="194.58" y="390.40" width="0.83" height="18.20" fill="rgb(72,72,72)"/><rect x="185.96" y="390.40" width="0.59" height="18.20" fill="rgb(73,73,73)"/><rect x="200.20" y="390.40" width="0.49" height="18.20" fill="rgb(73,73,73)"/><rect x="188.44" y="390.40" width="0.75" height="18.20" fill="rgb(61,61,61)"/><rect x="187.82" y="390.40" width="0.54" height="18.20" fill="rgb(20,20,20)"/><rect x="181.50" y="390.40" width="0.79" height="18.20" fill="rgb(41,41,41)"/><rect x="189.52" y="390.40" width="0.51" height="18.20" fill="rgb(74,74,74)"/><rect x="179.62" y="390.40" width="0.73" height="18.20" fill="rgb(4,4,4)"/><rect x="199.39" y="390.40" width="0.86" height="18.20" fill="rgb(35,35,35)"/><rect x="185.07" y="390.40" width="0.90" height="18.20" fill="rgb(47,47,47)"/><rect x="190.04" y="390.40" width="0.72" height="18.20" fill="rgb(58,58,58)"/><rect x="183.37" y="390.40" width="0.76" height="18.20" fill="rgb(13,13,13)"/><rect x="180.11" y="390.40" width="0.57" height="18.20" fill="rgb(63,63,63)"/><rect x="190.12" y="390.40" width="0.50" height="18.20" fill="rgb(75,75,75)"/><rect x="186.30" y="390.40" width="0.94" height="18.20" fill="rgb(57,57,57)"/><rect x="178.61" y="390.40" width="0.65" height="18.20" fill="rgb(53,53,53)"/><rect x="181.12" y="390.40" width="0.79" height="18.20" fill="rgb(28,28,28)"/><rect x="200.18" y="390.40" width="0.72" height="18.20" fill="rgb(7,7,7)"/><rect x="200.52" y="390.40" width="0.62" height="18.20" fill="rgb(11,11,11)"/><rect x="200.20" y="390.40" width="0.70" height="18.20" fill="rgb(48,48,48)"/><rect x="178.17" y="390.40" width="0.68" height="18.20" fill="rgb(33,33,33)"/><rect x="212.28" y="390.40" width="0.68" height="18.20" fill="rgb(29,29,29)"/><rect x="214.18" y="390.40" width="0.50" height="18.20" fill="rgb(2,2,2)"/><rect x="218.66" y="390.40" width="0.80" height="18.20" fill="rgb(5,5,5)"/><rect x="219.21" y="390.40" width="0.58" height="18.20" fill="rgb(7,7,7)"/><rect x="216.60" y="390.40" width="0.46" height="18.20" fill="rgb(28,28,28)"/><rect x="223.13" y="390.40" width="0.90" height="18.20" fill="rgb(21,21,21)"/><rect x="224.12" y="390.40" width="0.76" height="18.20" fill="rgb(28,28,28)"/><rect x="224.06" y="390.40" width="0.80" height="18.20" fill="rgb(2,2,2)"/><rect x="224.43" y="390.40" width="0.82" height="18.20" fill="rgb(20,20,20)"/><rect x="218.98" y="390.40" width="0.65" height="18.20" fill="rgb(13,13,13)"/><rect x="223.32" y="390.40" width="0.75" height="18.20" fill="rgb(17,17,17)"/><rect x="209.49" y="390.40" width="0.50" height="18.20" fill="rgb(9,9,9)"/><rect x="220.62" y="390.40" width="0.93" height="18.20" fill="rgb(10,10,10)"/><rect x="222.49" y="390.40" width="0.57" height="18.20" fill="rgb(13,13,13)"/><rect x="226.77" y="390.40" width="0.62" height="18.20" fill="rgb(2,2,2)"/><rect x="221.72" y="390.40" width="0.57" height="18.20" fill="rgb(3,3,3)"/><rect x="219.27" y="390.40" width="0.85" height="18.20" fill="rgb(15,15,15)"/><rect x="227.48" y="390.40" width="0.45" height="18.20" fill="rgb(8,8,8)"/><rect x="215.74" y="390.40" width="0.93" height="18.20" fill="rgb(25,25,25)"/><rect x="222.88" y="390.40" width="0.55" height="18.20" fill="rgb(12,12,12)"/><rect x="221.58" y="390.40" width="0.78" height="18.20" fill="rgb(5,5,5)"/><rect x="222.82" y="390.40" width="0.49" height="18.20" fill="rgb(30,30,30)"/><rect x="221.93" y="390.40" width="0.75" height="18.20" fill="rgb(15,15,15)"/><rect x="227.55" y="390.40" width="0.73" height="18.20" fill="rgb(23,23,23)"/><rect x="218.60" y="390.40" width="0.58" height="18.20" fill="rgb(9,9,9)"/><rect x="227.58" y="390.40" width="0.89" height="18.20" fill="rgb(7,7,7)"/><rect x="225.08" y="390.40" width="0.64" height="18.20" fill="rgb(15,15,15)"/><rect x="208.84" y="390.40" width="0.75" height="18.20" fill="rgb(14,14,14)"/><rect x="214.10" y="390.40" width="0.65" height="18.20" fill="rgb(10,10,10)"/><rect x="223.95" y="390.40" width="0.93" height="18.20" fill="rgb(8,8,8)"/><rect x="215.05" y="390.40" width="0.47" height="18.20" fill="rgb(12,12,12)"/><rect x="225.53" y="390.40" width="0.69" height="18.20" fill="rgb(21,21,21)"/><rect x="219.13" y="390.40" width="0.72" height="18.20" fill="rgb(8,8,8)"/><rect x="221.77" y="390.40" width="0.56" height="18.20" fill="rgb(12,12,12)"/><rect x="213.57" y="390.40" width="0.52" height="18.20" fill="rgb(27,27,27)"/><rect x="215.62" y="390.40" width="0.68" height="18.20" fill="rgb(19,19,19)"/><rect x="210.82" y="390.40" width="0.83" height="18.20" fill="rgb(18,18,18)"/><rect x="208.65" y="390.40" width="0.58" height="18.20" fill="rgb(1,1,1)"/><rect x="224.84" y="390.40" width="0.83" height="18.20" fill="rgb(7,7,7)"/><rect x="219.33" y="390.40" width="0.47" height="18.20" fill="rgb(15,15,15)"/><rect x="224.00" y="390.40" width="0.55" height="18.20" fill="rgb(8,8,8)"/><rect x="219.35" y="390.40" width="0.87" height="18.20" fill="rgb(19,19,19)"/><rect x="210.24" y="390.40" width="0.70" height="18.20" fill="rgb(23,23,23)"/><rect x="220.23" y="390.40" width="0.60" height="18.20" fill="rgb(11,11,11)"/><rect x="210.00" y="390.40" width="0.80" height="18.20" fill="rgb(29,29,29)"/><rect x="220.12" y="390.40" width="0.94" height="18.20" fill="rgb(1,1,1)"/><rect x="226.01" y="390.40" width="0.94" height="18.20" fill="rgb(5,5,5)"/><rect x="211.11" y="390.40" width="0.52" height="18.20" fill="rgb(21,21,21)"/><rect x="222.55" y="390.40" width="0.90" height="18.20" fill="rgb(15,15,15)"/><rect x="229.24" y="390.40" width="0.47" height="18.20" fill="rgb(138,138,138)"/><rect x="232.16" y="390.40" width="0.50" height="18.20" fill="rgb(75,75,75)"/><rect x="231.95" y="390.40" width="0.50" height="18.20" fill="rgb(44,44,44)"/><rect x="244.70" y="390.40" width="0.93" height="18.20" fill="rgb(26,26,26)"/><rect x="246.78" y="390.40" width="0.56" height="18.20" fill="rgb(79,79,79)"/><rect x="240.54" y="390.40" width="0.78" height="18.20" fill="rgb(55,55,55)"/><rect x="239.69" y="390.40" width="0.82" height="18.20" fill="rgb(28,28,28)"/><rect x="245.75" y="390.40" width="0.68" height="18.20" fill="rgb(39,39,39)"/><rect x="241.66" y="390.40" width="0.51" height="18.20" fill="rgb(81,81,81)"/><rect x="237.35" y="390.40" width="0.87" height="18.20" fill="rgb(39,39,39)"/><rect x="232.11" y="390.40" width="0.63" height="18.20" fill="rgb(50,50,50)"/><rect x="234.74" y="390.40" width="0.72" height="18.20" fill="rgb(83,83,83)"/><rect x="234.74" y="390.40" width="0.66" height="18.20" fill="rgb(52,52,52)"/><rect x="232.13" y="390.40" width="0.69" height="18.20" fill="rgb(54,54,54)"/><rect x="233.97" y="390.40" width="0.63" height="18.20" fill="rgb(53,53,53)"/><rect x="246.21" y="390.40" width="0.79" height="18.20" fill="rgb(4,4,4)"/><rect x="238.36" y="390.40" width="0.65" height="18.20" fill="rgb(22,22,22)"/><rect x="237.16" y="390.40" width="0.93" height="18.20" fill="rgb(63,63,63)"/><rect x="239.76" y="390.40" width="0.77" height="18.20" fill="rgb(79,79,79)"/><rect x="244.03" y="390.40" width="0.91" height="18.20" fill="rgb(23,23,23)"/><rect x="246.61" y="390.40" width="0.84" height="18.20" fill="rgb(84,84,84)"/><rect x="254.45" y="390.40" width="0.87" height="18.20" fill="rgb(88,88,88)"/><rect x="249.91" y="390.40" width="0.58" height="18.20" fill="rgb(78,78,78)"/><rect x="252.58" y="390.40" width="0.65" height="18.20" fill="rgb(83,83,83)"/><rect x="254.41" y="390.40" width="0.79" height="18.20" fill="rgb(124,124,124)"/><rect x="254.45" y="390.40" width="0.59" height="18.20" fill="rgb(141,141,141)"/><rect x="248.20" y="390.40" width="0.94" height="18.20" fill="rgb(107,107,107)"/><rect x="259.11" y="390.40" width="0.68" height="18.20" fill="rgb(125,125,125)"/><rect x="259.11" y="390.40" width="0.66" height="18.20" fill="rgb(68,68,68)"/><rect x="258.72" y="390.40" width="0.85" height="18.20" fill="rgb(142,142,142)"/><rect x="255.30" y="390.40" width="0.83" height="18.20" fill="rgb(62,62,62)"/><rect x="266.09" y="390.40" width="0.77" height="18.20" fill="rgb(8,8,8)"/>
<polygon points="177.30,421.5 177.30,409.60 177.80,414.50 178.60,416.80 180.00,418.30 182.00,419.20 186.00,419.90 192.00,420.30 210.00,420.90 228.00,421.50 245.00,422.20 255.00,423.00 260.00,423.80 263.00,425.00 264.60,427.50 265.20,431.00 265.20,421.5" fill="#d4d4d4"/>
<polyline points="177.30,409.60 177.80,414.50 178.60,416.80 180.00,418.30 182.00,419.20 186.00,419.90 192.00,420.30 210.00,420.90 228.00,421.50 245.00,422.20 255.00,423.00 260.00,423.80 263.00,425.00 264.60,427.50 265.20,431.00" fill="none" stroke="#444" stroke-width="0.6"/>
<rect x="227.60" y="411.50" width="0.60" height="0.80" fill="#555" />
<rect x="227.60" y="416.00" width="0.60" height="0.80" fill="#555" />
<rect x="227.60" y="421.00" width="0.60" height="0.80" fill="#555" />
<rect x="227.60" y="426.00" width="0.60" height="0.80" fill="#555" />
<polyline points="177.00,390.40 177.80,372.00 178.40,358.50 179.20,357.00 180.00,355.20 180.80,354.60 181.40,352.80 182.50,351.20 183.80,349.40 187.00,349.20 190.00,349.80 193.00,349.30 196.00,350.20 199.00,349.80 202.50,350.60 205.00,352.80 207.70,357.00 209.50,358.20 213.00,359.20 217.50,361.00 222.00,363.60 226.00,367.30 230.00,371.30 234.60,376.00 238.00,378.50 242.30,381.20 244.50,380.20 246.00,381.20 247.50,379.80 250.00,382.50 251.90,384.40 254.00,384.10 256.20,382.60 258.00,384.60 259.60,386.30 262.00,388.10 264.40,390.40" fill="none" stroke="#2c4c8e" stroke-width="1.0" stroke-linejoin="round"/>
<rect x="173.50" y="348.3" width="95.20" height="83.30" fill="none" stroke="#000" stroke-width="0.95"/>
<line x1="173.50" y1="390.40" x2="268.70" y2="390.40" stroke="#000" stroke-width="0.95" />
<line x1="173.50" y1="408.60" x2="268.70" y2="408.60" stroke="#000" stroke-width="0.95" />
<line x1="171.20" y1="351.00" x2="173.50" y2="351.00" stroke="#111" stroke-width="0.7" />
<text transform="translate(167.70,352.70) scale(0.8696,1)" font-size="5.405" text-anchor="end" fill="#333" font-weight="normal" stroke="#333" stroke-width="0.08" >0.4</text>
<line x1="171.20" y1="360.80" x2="173.50" y2="360.80" stroke="#111" stroke-width="0.7" />
<text transform="translate(167.70,362.50) scale(0.8696,1)" font-size="5.405" text-anchor="end" fill="#333" font-weight="normal" stroke="#333" stroke-width="0.08" >0.3</text>
<line x1="171.20" y1="370.60" x2="173.50" y2="370.60" stroke="#111" stroke-width="0.7" />
<text transform="translate(167.70,372.30) scale(0.8696,1)" font-size="5.405" text-anchor="end" fill="#333" font-weight="normal" stroke="#333" stroke-width="0.08" >0.2</text>
<line x1="171.20" y1="380.50" x2="173.50" y2="380.50" stroke="#111" stroke-width="0.7" />
<line x1="171.20" y1="390.40" x2="173.50" y2="390.40" stroke="#111" stroke-width="0.7" />
<line x1="170.30" y1="411.50" x2="173.50" y2="411.50" stroke="#111" stroke-width="0.7" />
<line x1="170.30" y1="414.80" x2="173.50" y2="414.80" stroke="#111" stroke-width="0.7" />
<line x1="170.30" y1="418.50" x2="173.50" y2="418.50" stroke="#111" stroke-width="0.7" />
<line x1="170.30" y1="422.10" x2="173.50" y2="422.10" stroke="#111" stroke-width="0.7" />
<line x1="170.30" y1="426.30" x2="173.50" y2="426.30" stroke="#111" stroke-width="0.7" />
<line x1="170.30" y1="430.20" x2="173.50" y2="430.20" stroke="#111" stroke-width="0.7" />
<text transform="translate(167.70,431.90) scale(0.8696,1)" font-size="5.405" text-anchor="end" fill="#333" font-weight="normal" stroke="#333" stroke-width="0.08" >-10</text>
<text x="0.00" y="0.00" font-size="6.268" text-anchor="middle" fill="#333" font-weight="normal" stroke="#333" stroke-width="0.08" transform="translate(155.10,369.6) rotate(-90) scale(0.8696,1)">Enrichment score</text>
<text x="0.00" y="0.00" font-size="6.268" text-anchor="middle" fill="#333" font-weight="normal" stroke="#333" stroke-width="0.08" transform="translate(155.10,422.6) rotate(-90) scale(0.8696,1)">Statistics</text>
<text transform="translate(173.50,439.20) scale(0.8696,1)" font-size="5.520" text-anchor="middle" fill="#333" font-weight="normal" stroke="#333" stroke-width="0.08" >NIC</text>
<text transform="translate(227.10,439.20) scale(0.8696,1)" font-size="5.520" text-anchor="middle" fill="#333" font-weight="normal" stroke="#333" stroke-width="0.08" >Ranked list</text>
<text transform="translate(264.20,439.20) scale(0.8696,1)" font-size="5.520" text-anchor="middle" fill="#333" font-weight="normal" stroke="#333" stroke-width="0.08" >CTRL</text>
<text x="286.00" y="19.10" font-size="12.000" text-anchor="start" fill="#000" font-weight="bold" >D</text>
<text transform="translate(390.20,20.60) scale(0.8696,1)" font-size="5.175" text-anchor="middle" fill="#333" font-weight="normal" stroke="#333" stroke-width="0.08" >E2F target genes</text>
<defs><linearGradient id="gD" x1="0" y1="0" x2="0" y2="1"><stop offset="0" stop-color="#c82a1e"/><stop offset="0.24" stop-color="#e08880"/><stop offset="0.52" stop-color="#ffffff"/><stop offset="0.76" stop-color="#7d7ac0"/><stop offset="1" stop-color="#2c217c"/></linearGradient></defs>
<rect x="298.60" y="47.20" width="5.20" height="81.90" fill="url(#gD)" />
<text transform="translate(306.60,51.60) scale(0.8696,1)" font-size="5.290" text-anchor="start" fill="#444" font-weight="normal" stroke="#444" stroke-width="0.08" >2</text>
<text transform="translate(306.60,71.30) scale(0.8696,1)" font-size="5.290" text-anchor="start" fill="#444" font-weight="normal" stroke="#444" stroke-width="0.08" >1</text>
<text transform="translate(306.60,91.30) scale(0.8696,1)" font-size="5.290" text-anchor="start" fill="#444" font-weight="normal" stroke="#444" stroke-width="0.08" >0</text>
<text transform="translate(306.60,111.40) scale(0.8696,1)" font-size="5.290" text-anchor="start" fill="#444" font-weight="normal" stroke="#444" stroke-width="0.08" >−1</text>
<text transform="translate(306.60,131.40) scale(0.8696,1)" font-size="5.290" text-anchor="start" fill="#444" font-weight="normal" stroke="#444" stroke-width="0.08" >−2</text>
<rect x="315.10" y="38.75" width="13.88" height="4.84" fill="#322781" />
<rect x="328.38" y="38.75" width="13.88" height="4.84" fill="#5c55a4" />
<rect x="341.66" y="38.75" width="13.88" height="4.84" fill="#b1afd9" />
<rect x="354.94" y="38.75" width="13.88" height="4.84" fill="#b1afd9" />
<rect x="368.22" y="38.75" width="13.88" height="4.84" fill="#645eab" />
<rect x="381.50" y="38.75" width="13.88" height="4.84" fill="#9795cd" />
<rect x="394.78" y="38.75" width="13.88" height="4.84" fill="#d25045" />
<rect x="408.06" y="38.75" width="13.88" height="4.84" fill="#ffffff" />
<rect x="421.34" y="38.75" width="13.88" height="4.84" fill="#f6dbd9" />
<rect x="434.62" y="38.75" width="13.88" height="4.84" fill="#e08880" />
<rect x="447.90" y="38.75" width="13.88" height="4.84" fill="#e08880" />
<rect x="461.18" y="38.75" width="13.88" height="4.84" fill="#e3948d" />
<rect x="474.46" y="38.75" width="13.28" height="4.84" fill="#e6a099" />
<rect x="315.10" y="42.99" width="13.88" height="4.84" fill="#322781" />
<rect x="328.38" y="42.99" width="13.88" height="4.84" fill="#5c55a4" />
<rect x="341.66" y="42.99" width="13.88" height="4.84" fill="#e5e4f2" />
<rect x="354.94" y="42.99" width="13.88" height="4.84" fill="#8a87c6" />
<rect x="368.22" y="42.99" width="13.88" height="4.84" fill="#645eab" />
<rect x="381.50" y="42.99" width="13.88" height="4.84" fill="#9795cd" />
<rect x="394.78" y="42.99" width="13.88" height="4.84" fill="#d25045" />
<rect x="408.06" y="42.99" width="13.88" height="4.84" fill="#e3948d" />
<rect x="421.34" y="42.99" width="13.88" height="4.84" fill="#f0c4c0" />
<rect x="434.62" y="42.99" width="13.88" height="4.84" fill="#e3948d" />
<rect x="447.90" y="42.99" width="13.88" height="4.84" fill="#f0c4c0" />
<rect x="461.18" y="42.99" width="13.88" height="4.84" fill="#e6a099" />
<rect x="474.46" y="42.99" width="13.28" height="4.84" fill="#e6a099" />
<rect x="315.10" y="47.23" width="13.88" height="4.84" fill="#322781" />
<rect x="328.38" y="47.23" width="13.88" height="4.84" fill="#433a8f" />
<rect x="341.66" y="47.23" width="13.88" height="4.84" fill="#bebce0" />
<rect x="354.94" y="47.23" width="13.88" height="4.84" fill="#9795cd" />
<rect x="368.22" y="47.23" width="13.88" height="4.84" fill="#645eab" />
<rect x="381.50" y="47.23" width="13.88" height="4.84" fill="#9795cd" />
<rect x="394.78" y="47.23" width="13.88" height="4.84" fill="#d4594f" />
<rect x="408.06" y="47.23" width="13.88" height="4.84" fill="#ecb8b3" />
<rect x="421.34" y="47.23" width="13.88" height="4.84" fill="#f9e7e6" />
<rect x="434.62" y="47.23" width="13.88" height="4.84" fill="#d96c63" />
<rect x="447.90" y="47.23" width="13.88" height="4.84" fill="#d96c63" />
<rect x="461.18" y="47.23" width="13.88" height="4.84" fill="#ecb8b3" />
<rect x="474.46" y="47.23" width="13.28" height="4.84" fill="#e9aca6" />
<rect x="315.10" y="51.46" width="13.88" height="4.84" fill="#322781" />
<rect x="328.38" y="51.46" width="13.88" height="4.84" fill="#3b3088" />
<rect x="341.66" y="51.46" width="13.88" height="4.84" fill="#bebce0" />
<rect x="354.94" y="51.46" width="13.88" height="4.84" fill="#8a87c6" />
<rect x="368.22" y="51.46" width="13.88" height="4.84" fill="#645eab" />
<rect x="381.50" y="51.46" width="13.88" height="4.84" fill="#a4a2d3" />
<rect x="394.78" y="51.46" width="13.88" height="4.84" fill="#d25045" />
<rect x="408.06" y="51.46" width="13.88" height="4.84" fill="#ffffff" />
<rect x="421.34" y="51.46" width="13.88" height="4.84" fill="#ecb8b3" />
<rect x="434.62" y="51.46" width="13.88" height="4.84" fill="#e6a099" />
<rect x="447.90" y="51.46" width="13.88" height="4.84" fill="#d96c63" />
<rect x="461.18" y="51.46" width="13.88" height="4.84" fill="#e6a099" />
<rect x="474.46" y="51.46" width="13.28" height="4.84" fill="#de7f76" />
<rect x="315.10" y="55.70" width="13.88" height="4.84" fill="#322781" />
<rect x="328.38" y="55.70" width="13.88" height="4.84" fill="#3b3088" />
<rect x="341.66" y="55.70" width="13.88" height="4.84" fill="#bebce0" />
<rect x="354.94" y="55.70" width="13.88" height="4.84" fill="#9795cd" />
<rect x="368.22" y="55.70" width="13.88" height="4.84" fill="#7d7ac0" />
<rect x="381.50" y="55.70" width="13.88" height="4.84" fill="#9795cd" />
<rect x="394.78" y="55.70" width="13.88" height="4.84" fill="#d25045" />
<rect x="408.06" y="55.70" width="13.88" height="4.84" fill="#e6a099" />
<rect x="421.34" y="55.70" width="13.88" height="4.84" fill="#f3cfcc" />
<rect x="434.62" y="55.70" width="13.88" height="4.84" fill="#e6a099" />
<rect x="447.90" y="55.70" width="13.88" height="4.84" fill="#e6a099" />
<rect x="461.18" y="55.70" width="13.88" height="4.84" fill="#e6a099" />
<rect x="474.46" y="55.70" width="13.28" height="4.84" fill="#e08880" />
<rect x="315.10" y="59.94" width="13.88" height="4.84" fill="#322781" />
<rect x="328.38" y="59.94" width="13.88" height="4.84" fill="#645eab" />
<rect x="341.66" y="59.94" width="13.88" height="4.84" fill="#bebce0" />
<rect x="354.94" y="59.94" width="13.88" height="4.84" fill="#7d7ac0" />
<rect x="368.22" y="59.94" width="13.88" height="4.84" fill="#8a87c6" />
<rect x="381.50" y="59.94" width="13.88" height="4.84" fill="#9795cd" />
<rect x="394.78" y="59.94" width="13.88" height="4.84" fill="#cd3d32" />
<rect x="408.06" y="59.94" width="13.88" height="4.84" fill="#e6a099" />
<rect x="421.34" y="59.94" width="13.88" height="4.84" fill="#e9aca6" />
<rect x="434.62" y="59.94" width="13.88" height="4.84" fill="#e6a099" />
<rect x="447.90" y="59.94" width="13.88" height="4.84" fill="#f6dbd9" />
<rect x="461.18" y="59.94" width="13.88" height="4.84" fill="#e9aca6" />
<rect x="474.46" y="59.94" width="13.28" height="4.84" fill="#e6a099" />
<rect x="315.10" y="64.18" width="13.88" height="4.84" fill="#322781" />
<rect x="328.38" y="64.18" width="13.88" height="4.84" fill="#645eab" />
<rect x="341.66" y="64.18" width="13.88" height="4.84" fill="#cbcae6" />
<rect x="354.94" y="64.18" width="13.88" height="4.84" fill="#7571b9" />
<rect x="368.22" y="64.18" width="13.88" height="4.84" fill="#5c55a4" />
<rect x="381.50" y="64.18" width="13.88" height="4.84" fill="#7571b9" />
<rect x="394.78" y="64.18" width="13.88" height="4.84" fill="#cf463b" />
<rect x="408.06" y="64.18" width="13.88" height="4.84" fill="#e3948d" />
<rect x="421.34" y="64.18" width="13.88" height="4.84" fill="#f3cfcc" />
<rect x="434.62" y="64.18" width="13.88" height="4.84" fill="#e3948d" />
<rect x="447.90" y="64.18" width="13.88" height="4.84" fill="#ecb8b3" />
<rect x="461.18" y="64.18" width="13.88" height="4.84" fill="#e3948d" />
<rect x="474.46" y="64.18" width="13.28" height="4.84" fill="#e08880" />
<rect x="315.10" y="68.42" width="13.88" height="4.84" fill="#322781" />
<rect x="328.38" y="68.42" width="13.88" height="4.84" fill="#7d7ac0" />
<rect x="341.66" y="68.42" width="13.88" height="4.84" fill="#cbcae6" />
<rect x="354.94" y="68.42" width="13.88" height="4.84" fill="#9795cd" />
<rect x="368.22" y="68.42" width="13.88" height="4.84" fill="#645eab" />
<rect x="381.50" y="68.42" width="13.88" height="4.84" fill="#7d7ac0" />
<rect x="394.78" y="68.42" width="13.88" height="4.84" fill="#ca3328" />
<rect x="408.06" y="68.42" width="13.88" height="4.84" fill="#f6dbd9" />
<rect x="421.34" y="68.42" width="13.88" height="4.84" fill="#f0c4c0" />
<rect x="434.62" y="68.42" width="13.88" height="4.84" fill="#e6a099" />
<rect x="447.90" y="68.42" width="13.88" height="4.84" fill="#e3948d" />
<rect x="461.18" y="68.42" width="13.88" height="4.84" fill="#e3948d" />
<rect x="474.46" y="68.42" width="13.28" height="4.84" fill="#e08880" />
<rect x="315.10" y="72.65" width="13.88" height="4.84" fill="#322781" />
<rect x="328.38" y="72.65" width="13.88" height="4.84" fill="#645eab" />
<rect x="341.66" y="72.65" width="13.88" height="4.84" fill="#d8d7ec" />
<rect x="354.94" y="72.65" width="13.88" height="4.84" fill="#9795cd" />
<rect x="368.22" y="72.65" width="13.88" height="4.84" fill="#4b4396" />
<rect x="381.50" y="72.65" width="13.88" height="4.84" fill="#a4a2d3" />
<rect x="394.78" y="72.65" width="13.88" height="4.84" fill="#ca3328" />
<rect x="408.06" y="72.65" width="13.88" height="4.84" fill="#cbcae6" />
<rect x="421.34" y="72.65" width="13.88" height="4.84" fill="#f0c4c0" />
<rect x="434.62" y="72.65" width="13.88" height="4.84" fill="#e08880" />
<rect x="447.90" y="72.65" width="13.88" height="4.84" fill="#e6a099" />
<rect x="461.18" y="72.65" width="13.88" height="4.84" fill="#e08880" />
<rect x="474.46" y="72.65" width="13.28" height="4.84" fill="#e08880" />
<rect x="315.10" y="76.89" width="13.88" height="4.84" fill="#322781" />
<rect x="328.38" y="76.89" width="13.88" height="4.84" fill="#4b4396" />
<rect x="341.66" y="76.89" width="13.88" height="4.84" fill="#cbcae6" />
<rect x="354.94" y="76.89" width="13.88" height="4.84" fill="#9795cd" />
<rect x="368.22" y="76.89" width="13.88" height="4.84" fill="#8a87c6" />
<rect x="381.50" y="76.89" width="13.88" height="4.84" fill="#9795cd" />
<rect x="394.78" y="76.89" width="13.88" height="4.84" fill="#cf463b" />
<rect x="408.06" y="76.89" width="13.88" height="4.84" fill="#e08880" />
<rect x="421.34" y="76.89" width="13.88" height="4.84" fill="#f3cfcc" />
<rect x="434.62" y="76.89" width="13.88" height="4.84" fill="#e08880" />
<rect x="447.90" y="76.89" width="13.88" height="4.84" fill="#ecb8b3" />
<rect x="461.18" y="76.89" width="13.88" height="4.84" fill="#e6a099" />
<rect x="474.46" y="76.89" width="13.28" height="4.84" fill="#e3948d" />
<rect x="315.10" y="81.13" width="13.88" height="4.84" fill="#322781" />
<rect x="328.38" y="81.13" width="13.88" height="4.84" fill="#645eab" />
<rect x="341.66" y="81.13" width="13.88" height="4.84" fill="#9795cd" />
<rect x="354.94" y="81.13" width="13.88" height="4.84" fill="#7571b9" />
<rect x="368.22" y="81.13" width="13.88" height="4.84" fill="#544c9d" />
<rect x="381.50" y="81.13" width="13.88" height="4.84" fill="#9795cd" />
<rect x="394.78" y="81.13" width="13.88" height="4.84" fill="#cf463b" />
<rect x="408.06" y="81.13" width="13.88" height="4.84" fill="#e6a099" />
<rect x="421.34" y="81.13" width="13.88" height="4.84" fill="#f6dbd9" />
<rect x="434.62" y="81.13" width="13.88" height="4.84" fill="#ecb8b3" />
<rect x="447.90" y="81.13" width="13.88" height="4.84" fill="#de7f76" />
<rect x="461.18" y="81.13" width="13.88" height="4.84" fill="#e3948d" />
<rect x="474.46" y="81.13" width="13.28" height="4.84" fill="#e08880" />
<rect x="315.10" y="85.37" width="13.88" height="4.84" fill="#322781" />
<rect x="328.38" y="85.37" width="13.88" height="4.84" fill="#9795cd" />
<rect x="341.66" y="85.37" width="13.88" height="4.84" fill="#a4a2d3" />
<rect x="354.94" y="85.37" width="13.88" height="4.84" fill="#8a87c6" />
<rect x="368.22" y="85.37" width="13.88" height="4.84" fill="#8a87c6" />
<rect x="381.50" y="85.37" width="13.88" height="4.84" fill="#9795cd" />
<rect x="394.78" y="85.37" width="13.88" height="4.84" fill="#ca3328" />
<rect x="408.06" y="85.37" width="13.88" height="4.84" fill="#9795cd" />
<rect x="421.34" y="85.37" width="13.88" height="4.84" fill="#f0c4c0" />
<rect x="434.62" y="85.37" width="13.88" height="4.84" fill="#e9aca6" />
<rect x="447.90" y="85.37" width="13.88" height="4.84" fill="#de7f76" />
<rect x="461.18" y="85.37" width="13.88" height="4.84" fill="#e3948d" />
<rect x="474.46" y="85.37" width="13.28" height="4.84" fill="#db756c" />
<rect x="315.10" y="89.61" width="13.88" height="4.84" fill="#322781" />
<rect x="328.38" y="89.61" width="13.88" height="4.84" fill="#5c55a4" />
<rect x="341.66" y="89.61" width="13.88" height="4.84" fill="#bebce0" />
<rect x="354.94" y="89.61" width="13.88" height="4.84" fill="#7d7ac0" />
<rect x="368.22" y="89.61" width="13.88" height="4.84" fill="#8a87c6" />
<rect x="381.50" y="89.61" width="13.88" height="4.84" fill="#bebce0" />
<rect x="394.78" y="89.61" width="13.88" height="4.84" fill="#cf463b" />
<rect x="408.06" y="89.61" width="13.88" height="4.84" fill="#db756c" />
<rect x="421.34" y="89.61" width="13.88" height="4.84" fill="#f0c4c0" />
<rect x="434.62" y="89.61" width="13.88" height="4.84" fill="#f6dbd9" />
<rect x="447.90" y="89.61" width="13.88" height="4.84" fill="#e9aca6" />
<rect x="461.18" y="89.61" width="13.88" height="4.84" fill="#ecb8b3" />
<rect x="474.46" y="89.61" width="13.28" height="4.84" fill="#e3948d" />
<rect x="315.10" y="93.84" width="13.88" height="4.84" fill="#322781" />
<rect x="328.38" y="93.84" width="13.88" height="4.84" fill="#645eab" />
<rect x="341.66" y="93.84" width="13.88" height="4.84" fill="#a4a2d3" />
<rect x="354.94" y="93.84" width="13.88" height="4.84" fill="#645eab" />
<rect x="368.22" y="93.84" width="13.88" height="4.84" fill="#8a87c6" />
<rect x="381.50" y="93.84" width="13.88" height="4.84" fill="#8a87c6" />
<rect x="394.78" y="93.84" width="13.88" height="4.84" fill="#cf463b" />
<rect x="408.06" y="93.84" width="13.88" height="4.84" fill="#e08880" />
<rect x="421.34" y="93.84" width="13.88" height="4.84" fill="#e9aca6" />
<rect x="434.62" y="93.84" width="13.88" height="4.84" fill="#de7f76" />
<rect x="447.90" y="93.84" width="13.88" height="4.84" fill="#ecb8b3" />
<rect x="461.18" y="93.84" width="13.88" height="4.84" fill="#ecb8b3" />
<rect x="474.46" y="93.84" width="13.28" height="4.84" fill="#e9aca6" />
<rect x="315.10" y="98.08" width="13.88" height="4.84" fill="#322781" />
<rect x="328.38" y="98.08" width="13.88" height="4.84" fill="#544c9d" />
<rect x="341.66" y="98.08" width="13.88" height="4.84" fill="#b1afd9" />
<rect x="354.94" y="98.08" width="13.88" height="4.84" fill="#7d7ac0" />
<rect x="368.22" y="98.08" width="13.88" height="4.84" fill="#8a87c6" />
<rect x="381.50" y="98.08" width="13.88" height="4.84" fill="#9795cd" />
<rect x="394.78" y="98.08" width="13.88" height="4.84" fill="#cd3d32" />
<rect x="408.06" y="98.08" width="13.88" height="4.84" fill="#e3948d" />
<rect x="421.34" y="98.08" width="13.88" height="4.84" fill="#f6dbd9" />
<rect x="434.62" y="98.08" width="13.88" height="4.84" fill="#ecb8b3" />
<rect x="447.90" y="98.08" width="13.88" height="4.84" fill="#e6a099" />
<rect x="461.18" y="98.08" width="13.88" height="4.84" fill="#e9aca6" />
<rect x="474.46" y="98.08" width="13.28" height="4.84" fill="#e6a099" />
<rect x="315.10" y="102.32" width="13.88" height="4.84" fill="#322781" />
<rect x="328.38" y="102.32" width="13.88" height="4.84" fill="#5c55a4" />
<rect x="341.66" y="102.32" width="13.88" height="4.84" fill="#cbcae6" />
<rect x="354.94" y="102.32" width="13.88" height="4.84" fill="#7d7ac0" />
<rect x="368.22" y="102.32" width="13.88" height="4.84" fill="#bebce0" />
<rect x="381.50" y="102.32" width="13.88" height="4.84" fill="#a4a2d3" />
<rect x="394.78" y="102.32" width="13.88" height="4.84" fill="#cd3d32" />
<rect x="408.06" y="102.32" width="13.88" height="4.84" fill="#e5e4f2" />
<rect x="421.34" y="102.32" width="13.88" height="4.84" fill="#ecb8b3" />
<rect x="434.62" y="102.32" width="13.88" height="4.84" fill="#de7f76" />
<rect x="447.90" y="102.32" width="13.88" height="4.84" fill="#de7f76" />
<rect x="461.18" y="102.32" width="13.88" height="4.84" fill="#e9aca6" />
<rect x="474.46" y="102.32" width="13.28" height="4.84" fill="#e6a099" />
<rect x="315.10" y="106.56" width="13.88" height="4.84" fill="#322781" />
<rect x="328.38" y="106.56" width="13.88" height="4.84" fill="#544c9d" />
<rect x="341.66" y="106.56" width="13.88" height="4.84" fill="#d8d7ec" />
<rect x="354.94" y="106.56" width="13.88" height="4.84" fill="#7d7ac0" />
<rect x="368.22" y="106.56" width="13.88" height="4.84" fill="#7d7ac0" />
<rect x="381.50" y="106.56" width="13.88" height="4.84" fill="#b1afd9" />
<rect x="394.78" y="106.56" width="13.88" height="4.84" fill="#d66259" />
<rect x="408.06" y="106.56" width="13.88" height="4.84" fill="#e5e4f2" />
<rect x="421.34" y="106.56" width="13.88" height="4.84" fill="#e3948d" />
<rect x="434.62" y="106.56" width="13.88" height="4.84" fill="#e08880" />
<rect x="447.90" y="106.56" width="13.88" height="4.84" fill="#db756c" />
<rect x="461.18" y="106.56" width="13.88" height="4.84" fill="#f0c4c0" />
<rect x="474.46" y="106.56" width="13.28" height="4.84" fill="#db756c" />
<rect x="315.10" y="110.80" width="13.88" height="4.84" fill="#7d7ac0" />
<rect x="328.38" y="110.80" width="13.88" height="4.84" fill="#d8d7ec" />
<rect x="341.66" y="110.80" width="13.88" height="4.84" fill="#a4a2d3" />
<rect x="354.94" y="110.80" width="13.88" height="4.84" fill="#7d7ac0" />
<rect x="368.22" y="110.80" width="13.88" height="4.84" fill="#3b3088" />
<rect x="381.50" y="110.80" width="13.88" height="4.84" fill="#7d7ac0" />
<rect x="394.78" y="110.80" width="13.88" height="4.84" fill="#c82a1e" />
<rect x="408.06" y="110.80" width="13.88" height="4.84" fill="#ffffff" />
<rect x="421.34" y="110.80" width="13.88" height="4.84" fill="#f6dbd9" />
<rect x="434.62" y="110.80" width="13.88" height="4.84" fill="#ecb8b3" />
<rect x="447.90" y="110.80" width="13.88" height="4.84" fill="#e3948d" />
<rect x="461.18" y="110.80" width="13.88" height="4.84" fill="#ecb8b3" />
<rect x="474.46" y="110.80" width="13.28" height="4.84" fill="#de7f76" />
<rect x="315.10" y="115.03" width="13.88" height="4.84" fill="#322781" />
<rect x="328.38" y="115.03" width="13.88" height="4.84" fill="#544c9d" />
<rect x="341.66" y="115.03" width="13.88" height="4.84" fill="#bebce0" />
<rect x="354.94" y="115.03" width="13.88" height="4.84" fill="#7d7ac0" />
<rect x="368.22" y="115.03" width="13.88" height="4.84" fill="#645eab" />
<rect x="381.50" y="115.03" width="13.88" height="4.84" fill="#8a87c6" />
<rect x="394.78" y="115.03" width="13.88" height="4.84" fill="#cd3d32" />
<rect x="408.06" y="115.03" width="13.88" height="4.84" fill="#f6dbd9" />
<rect x="421.34" y="115.03" width="13.88" height="4.84" fill="#f6dbd9" />
<rect x="434.62" y="115.03" width="13.88" height="4.84" fill="#e9aca6" />
<rect x="447.90" y="115.03" width="13.88" height="4.84" fill="#e3948d" />
<rect x="461.18" y="115.03" width="13.88" height="4.84" fill="#e9aca6" />
<rect x="474.46" y="115.03" width="13.28" height="4.84" fill="#de7f76" />
<rect x="315.10" y="119.27" width="13.88" height="4.84" fill="#322781" />
<rect x="328.38" y="119.27" width="13.88" height="4.84" fill="#433a8f" />
<rect x="341.66" y="119.27" width="13.88" height="4.84" fill="#cbcae6" />
<rect x="354.94" y="119.27" width="13.88" height="4.84" fill="#7d7ac0" />
<rect x="368.22" y="119.27" width="13.88" height="4.84" fill="#b1afd9" />
<rect x="381.50" y="119.27" width="13.88" height="4.84" fill="#9795cd" />
<rect x="394.78" y="119.27" width="13.88" height="4.84" fill="#d66259" />
<rect x="408.06" y="119.27" width="13.88" height="4.84" fill="#d25045" />
<rect x="421.34" y="119.27" width="13.88" height="4.84" fill="#e3948d" />
<rect x="434.62" y="119.27" width="13.88" height="4.84" fill="#f0c4c0" />
<rect x="447.90" y="119.27" width="13.88" height="4.84" fill="#f9e7e6" />
<rect x="461.18" y="119.27" width="13.88" height="4.84" fill="#f0c4c0" />
<rect x="474.46" y="119.27" width="13.28" height="4.84" fill="#ecb8b3" />
<rect x="315.10" y="123.51" width="13.88" height="4.84" fill="#322781" />
<rect x="328.38" y="123.51" width="13.88" height="4.84" fill="#544c9d" />
<rect x="341.66" y="123.51" width="13.88" height="4.84" fill="#b1afd9" />
<rect x="354.94" y="123.51" width="13.88" height="4.84" fill="#7d7ac0" />
<rect x="368.22" y="123.51" width="13.88" height="4.84" fill="#9795cd" />
<rect x="381.50" y="123.51" width="13.88" height="4.84" fill="#a4a2d3" />
<rect x="394.78" y="123.51" width="13.88" height="4.84" fill="#d4594f" />
<rect x="408.06" y="123.51" width="13.88" height="4.84" fill="#e3948d" />
<rect x="421.34" y="123.51" width="13.88" height="4.84" fill="#f0c4c0" />
<rect x="434.62" y="123.51" width="13.88" height="4.84" fill="#e3948d" />
<rect x="447.90" y="123.51" width="13.88" height="4.84" fill="#f6dbd9" />
<rect x="461.18" y="123.51" width="13.88" height="4.84" fill="#f0c4c0" />
<rect x="474.46" y="123.51" width="13.28" height="4.84" fill="#e3948d" />
<rect x="315.10" y="127.75" width="13.88" height="4.84" fill="#322781" />
<rect x="328.38" y="127.75" width="13.88" height="4.84" fill="#544c9d" />
<rect x="341.66" y="127.75" width="13.88" height="4.84" fill="#cbcae6" />
<rect x="354.94" y="127.75" width="13.88" height="4.84" fill="#7d7ac0" />
<rect x="368.22" y="127.75" width="13.88" height="4.84" fill="#645eab" />
<rect x="381.50" y="127.75" width="13.88" height="4.84" fill="#a4a2d3" />
<rect x="394.78" y="127.75" width="13.88" height="4.84" fill="#d25045" />
<rect x="408.06" y="127.75" width="13.88" height="4.84" fill="#e5e4f2" />
<rect x="421.34" y="127.75" width="13.88" height="4.84" fill="#ecb8b3" />
<rect x="434.62" y="127.75" width="13.88" height="4.84" fill="#de7f76" />
<rect x="447.90" y="127.75" width="13.88" height="4.84" fill="#e9aca6" />
<rect x="461.18" y="127.75" width="13.88" height="4.84" fill="#e6a099" />
<rect x="474.46" y="127.75" width="13.28" height="4.84" fill="#de7f76" />
<rect x="315.10" y="131.99" width="13.88" height="4.84" fill="#322781" />
<rect x="328.38" y="131.99" width="13.88" height="4.84" fill="#544c9d" />
<rect x="341.66" y="131.99" width="13.88" height="4.84" fill="#cbcae6" />
<rect x="354.94" y="131.99" width="13.88" height="4.84" fill="#9795cd" />
<rect x="368.22" y="131.99" width="13.88" height="4.84" fill="#9795cd" />
<rect x="381.50" y="131.99" width="13.88" height="4.84" fill="#9795cd" />
<rect x="394.78" y="131.99" width="13.88" height="4.84" fill="#ca3328" />
<rect x="408.06" y="131.99" width="13.88" height="4.84" fill="#f3cfcc" />
<rect x="421.34" y="131.99" width="13.88" height="4.84" fill="#f3cfcc" />
<rect x="434.62" y="131.99" width="13.88" height="4.84" fill="#e08880" />
<rect x="447.90" y="131.99" width="13.88" height="4.84" fill="#f6dbd9" />
<rect x="461.18" y="131.99" width="13.88" height="4.84" fill="#e6a099" />
<rect x="474.46" y="131.99" width="13.28" height="4.84" fill="#e6a099" />
<rect x="315.10" y="136.22" width="13.88" height="4.84" fill="#322781" />
<rect x="328.38" y="136.22" width="13.88" height="4.84" fill="#3b3088" />
<rect x="341.66" y="136.22" width="13.88" height="4.84" fill="#cbcae6" />
<rect x="354.94" y="136.22" width="13.88" height="4.84" fill="#a4a2d3" />
<rect x="368.22" y="136.22" width="13.88" height="4.84" fill="#7d7ac0" />
<rect x="381.50" y="136.22" width="13.88" height="4.84" fill="#a4a2d3" />
<rect x="394.78" y="136.22" width="13.88" height="4.84" fill="#d25045" />
<rect x="408.06" y="136.22" width="13.88" height="4.84" fill="#d8d7ec" />
<rect x="421.34" y="136.22" width="13.88" height="4.84" fill="#f3cfcc" />
<rect x="434.62" y="136.22" width="13.88" height="4.84" fill="#e3948d" />
<rect x="447.90" y="136.22" width="13.88" height="4.84" fill="#d96c63" />
<rect x="461.18" y="136.22" width="13.88" height="4.84" fill="#e08880" />
<rect x="474.46" y="136.22" width="13.28" height="4.84" fill="#d66259" />
<rect x="315.10" y="140.46" width="13.88" height="4.84" fill="#322781" />
<rect x="328.38" y="140.46" width="13.88" height="4.84" fill="#645eab" />
<rect x="341.66" y="140.46" width="13.88" height="4.84" fill="#ffffff" />
<rect x="354.94" y="140.46" width="13.88" height="4.84" fill="#8a87c6" />
<rect x="368.22" y="140.46" width="13.88" height="4.84" fill="#7d7ac0" />
<rect x="381.50" y="140.46" width="13.88" height="4.84" fill="#5c55a4" />
<rect x="394.78" y="140.46" width="13.88" height="4.84" fill="#cd3d32" />
<rect x="408.06" y="140.46" width="13.88" height="4.84" fill="#d96c63" />
<rect x="421.34" y="140.46" width="13.88" height="4.84" fill="#f0c4c0" />
<rect x="434.62" y="140.46" width="13.88" height="4.84" fill="#e6a099" />
<rect x="447.90" y="140.46" width="13.88" height="4.84" fill="#fcf3f2" />
<rect x="461.18" y="140.46" width="13.88" height="4.84" fill="#e6a099" />
<rect x="474.46" y="140.46" width="13.28" height="4.84" fill="#e9aca6" />
<rect x="315.10" y="144.70" width="13.88" height="4.84" fill="#322781" />
<rect x="328.38" y="144.70" width="13.88" height="4.84" fill="#645eab" />
<rect x="341.66" y="144.70" width="13.88" height="4.84" fill="#bebce0" />
<rect x="354.94" y="144.70" width="13.88" height="4.84" fill="#8a87c6" />
<rect x="368.22" y="144.70" width="13.88" height="4.84" fill="#6c68b2" />
<rect x="381.50" y="144.70" width="13.88" height="4.84" fill="#d8d7ec" />
<rect x="394.78" y="144.70" width="13.88" height="4.84" fill="#cd3d32" />
<rect x="408.06" y="144.70" width="13.88" height="4.84" fill="#cf463b" />
<rect x="421.34" y="144.70" width="13.88" height="4.84" fill="#f3cfcc" />
<rect x="434.62" y="144.70" width="13.88" height="4.84" fill="#e3948d" />
<rect x="447.90" y="144.70" width="13.88" height="4.84" fill="#f0c4c0" />
<rect x="461.18" y="144.70" width="13.88" height="4.84" fill="#f9e7e6" />
<rect x="474.46" y="144.70" width="13.28" height="4.84" fill="#e9aca6" />
<rect x="315.10" y="148.94" width="13.88" height="4.84" fill="#322781" />
<rect x="328.38" y="148.94" width="13.88" height="4.84" fill="#645eab" />
<rect x="341.66" y="148.94" width="13.88" height="4.84" fill="#d8d7ec" />
<rect x="354.94" y="148.94" width="13.88" height="4.84" fill="#a4a2d3" />
<rect x="368.22" y="148.94" width="13.88" height="4.84" fill="#645eab" />
<rect x="381.50" y="148.94" width="13.88" height="4.84" fill="#8a87c6" />
<rect x="394.78" y="148.94" width="13.88" height="4.84" fill="#cd3d32" />
<rect x="408.06" y="148.94" width="13.88" height="4.84" fill="#fcf3f2" />
<rect x="421.34" y="148.94" width="13.88" height="4.84" fill="#f3cfcc" />
<rect x="434.62" y="148.94" width="13.88" height="4.84" fill="#e3948d" />
<rect x="447.90" y="148.94" width="13.88" height="4.84" fill="#e08880" />
<rect x="461.18" y="148.94" width="13.88" height="4.84" fill="#e3948d" />
<rect x="474.46" y="148.94" width="13.28" height="4.84" fill="#e08880" />
<rect x="315.10" y="153.18" width="13.88" height="4.84" fill="#4b4396" />
<rect x="328.38" y="153.18" width="13.88" height="4.84" fill="#5c55a4" />
<rect x="341.66" y="153.18" width="13.88" height="4.84" fill="#bebce0" />
<rect x="354.94" y="153.18" width="13.88" height="4.84" fill="#7571b9" />
<rect x="368.22" y="153.18" width="13.88" height="4.84" fill="#645eab" />
<rect x="381.50" y="153.18" width="13.88" height="4.84" fill="#8a87c6" />
<rect x="394.78" y="153.18" width="13.88" height="4.84" fill="#cd3d32" />
<rect x="408.06" y="153.18" width="13.88" height="4.84" fill="#e6a099" />
<rect x="421.34" y="153.18" width="13.88" height="4.84" fill="#f0c4c0" />
<rect x="434.62" y="153.18" width="13.88" height="4.84" fill="#e6a099" />
<rect x="447.90" y="153.18" width="13.88" height="4.84" fill="#e6a099" />
<rect x="461.18" y="153.18" width="13.88" height="4.84" fill="#e9aca6" />
<rect x="474.46" y="153.18" width="13.28" height="4.84" fill="#e08880" />
<rect x="315.10" y="157.41" width="13.88" height="4.84" fill="#645eab" />
<rect x="328.38" y="157.41" width="13.88" height="4.84" fill="#645eab" />
<rect x="341.66" y="157.41" width="13.88" height="4.84" fill="#a4a2d3" />
<rect x="354.94" y="157.41" width="13.88" height="4.84" fill="#7571b9" />
<rect x="368.22" y="157.41" width="13.88" height="4.84" fill="#8a87c6" />
<rect x="381.50" y="157.41" width="13.88" height="4.84" fill="#8a87c6" />
<rect x="394.78" y="157.41" width="13.88" height="4.84" fill="#ca3328" />
<rect x="408.06" y="157.41" width="13.88" height="4.84" fill="#e08880" />
<rect x="421.34" y="157.41" width="13.88" height="4.84" fill="#ffffff" />
<rect x="434.62" y="157.41" width="13.88" height="4.84" fill="#e9aca6" />
<rect x="447.90" y="157.41" width="13.88" height="4.84" fill="#ffffff" />
<rect x="461.18" y="157.41" width="13.88" height="4.84" fill="#e3948d" />
<rect x="474.46" y="157.41" width="13.28" height="4.84" fill="#e08880" />
<rect x="315.10" y="161.65" width="13.88" height="4.84" fill="#3b3088" />
<rect x="328.38" y="161.65" width="13.88" height="4.84" fill="#544c9d" />
<rect x="341.66" y="161.65" width="13.88" height="4.84" fill="#a4a2d3" />
<rect x="354.94" y="161.65" width="13.88" height="4.84" fill="#6c68b2" />
<rect x="368.22" y="161.65" width="13.88" height="4.84" fill="#9795cd" />
<rect x="381.50" y="161.65" width="13.88" height="4.84" fill="#a4a2d3" />
<rect x="394.78" y="161.65" width="13.88" height="4.84" fill="#d4594f" />
<rect x="408.06" y="161.65" width="13.88" height="4.84" fill="#ecb8b3" />
<rect x="421.34" y="161.65" width="13.88" height="4.84" fill="#fcf3f2" />
<rect x="434.62" y="161.65" width="13.88" height="4.84" fill="#ecb8b3" />
<rect x="447.90" y="161.65" width="13.88" height="4.84" fill="#e08880" />
<rect x="461.18" y="161.65" width="13.88" height="4.84" fill="#e6a099" />
<rect x="474.46" y="161.65" width="13.28" height="4.84" fill="#d66259" />
<rect x="315.10" y="165.89" width="13.88" height="4.84" fill="#7d7ac0" />
<rect x="328.38" y="165.89" width="13.88" height="4.84" fill="#4b4396" />
<rect x="341.66" y="165.89" width="13.88" height="4.84" fill="#a4a2d3" />
<rect x="354.94" y="165.89" width="13.88" height="4.84" fill="#322781" />
<rect x="368.22" y="165.89" width="13.88" height="4.84" fill="#b1afd9" />
<rect x="381.50" y="165.89" width="13.88" height="4.84" fill="#9795cd" />
<rect x="394.78" y="165.89" width="13.88" height="4.84" fill="#d25045" />
<rect x="408.06" y="165.89" width="13.88" height="4.84" fill="#ecb8b3" />
<rect x="421.34" y="165.89" width="13.88" height="4.84" fill="#e6a099" />
<rect x="434.62" y="165.89" width="13.88" height="4.84" fill="#e6a099" />
<rect x="447.90" y="165.89" width="13.88" height="4.84" fill="#f3cfcc" />
<rect x="461.18" y="165.89" width="13.88" height="4.84" fill="#e3948d" />
<rect x="474.46" y="165.89" width="13.28" height="4.84" fill="#e6a099" />
<rect x="315.10" y="170.13" width="13.88" height="4.84" fill="#322781" />
<rect x="328.38" y="170.13" width="13.88" height="4.84" fill="#5c55a4" />
<rect x="341.66" y="170.13" width="13.88" height="4.84" fill="#bebce0" />
<rect x="354.94" y="170.13" width="13.88" height="4.84" fill="#544c9d" />
<rect x="368.22" y="170.13" width="13.88" height="4.84" fill="#cbcae6" />
<rect x="381.50" y="170.13" width="13.88" height="4.84" fill="#b1afd9" />
<rect x="394.78" y="170.13" width="13.88" height="4.84" fill="#d4594f" />
<rect x="408.06" y="170.13" width="13.88" height="4.84" fill="#cf463b" />
<rect x="421.34" y="170.13" width="13.88" height="4.84" fill="#e3948d" />
<rect x="434.62" y="170.13" width="13.88" height="4.84" fill="#e6a099" />
<rect x="447.90" y="170.13" width="13.88" height="4.84" fill="#fcf3f2" />
<rect x="461.18" y="170.13" width="13.88" height="4.84" fill="#f3cfcc" />
<rect x="474.46" y="170.13" width="13.28" height="4.84" fill="#ecb8b3" />
<rect x="315.10" y="174.37" width="13.88" height="4.84" fill="#645eab" />
<rect x="328.38" y="174.37" width="13.88" height="4.84" fill="#645eab" />
<rect x="341.66" y="174.37" width="13.88" height="4.84" fill="#9795cd" />
<rect x="354.94" y="174.37" width="13.88" height="4.84" fill="#6c68b2" />
<rect x="368.22" y="174.37" width="13.88" height="4.84" fill="#9795cd" />
<rect x="381.50" y="174.37" width="13.88" height="4.84" fill="#b1afd9" />
<rect x="394.78" y="174.37" width="13.88" height="4.84" fill="#cd3d32" />
<rect x="408.06" y="174.37" width="13.88" height="4.84" fill="#9795cd" />
<rect x="421.34" y="174.37" width="13.88" height="4.84" fill="#f0c4c0" />
<rect x="434.62" y="174.37" width="13.88" height="4.84" fill="#e08880" />
<rect x="447.90" y="174.37" width="13.88" height="4.84" fill="#db756c" />
<rect x="461.18" y="174.37" width="13.88" height="4.84" fill="#e3948d" />
<rect x="474.46" y="174.37" width="13.28" height="4.84" fill="#de7f76" />
<rect x="315.10" y="178.60" width="13.88" height="4.84" fill="#645eab" />
<rect x="328.38" y="178.60" width="13.88" height="4.84" fill="#3b3088" />
<rect x="341.66" y="178.60" width="13.88" height="4.84" fill="#d8d7ec" />
<rect x="354.94" y="178.60" width="13.88" height="4.84" fill="#7d7ac0" />
<rect x="368.22" y="178.60" width="13.88" height="4.84" fill="#8a87c6" />
<rect x="381.50" y="178.60" width="13.88" height="4.84" fill="#9795cd" />
<rect x="394.78" y="178.60" width="13.88" height="4.84" fill="#cf463b" />
<rect x="408.06" y="178.60" width="13.88" height="4.84" fill="#e08880" />
<rect x="421.34" y="178.60" width="13.88" height="4.84" fill="#f0c4c0" />
<rect x="434.62" y="178.60" width="13.88" height="4.84" fill="#de7f76" />
<rect x="447.90" y="178.60" width="13.88" height="4.84" fill="#fcf3f2" />
<rect x="461.18" y="178.60" width="13.88" height="4.84" fill="#e08880" />
<rect x="474.46" y="178.60" width="13.28" height="4.84" fill="#e9aca6" />
<rect x="315.10" y="182.84" width="13.88" height="4.84" fill="#7d7ac0" />
<rect x="328.38" y="182.84" width="13.88" height="4.84" fill="#d8d7ec" />
<rect x="341.66" y="182.84" width="13.88" height="4.84" fill="#7d7ac0" />
<rect x="354.94" y="182.84" width="13.88" height="4.84" fill="#d8d7ec" />
<rect x="368.22" y="182.84" width="13.88" height="4.84" fill="#7d7ac0" />
<rect x="381.50" y="182.84" width="13.88" height="4.84" fill="#4b4396" />
<rect x="394.78" y="182.84" width="13.88" height="4.84" fill="#cf463b" />
<rect x="408.06" y="182.84" width="13.88" height="4.84" fill="#d4594f" />
<rect x="421.34" y="182.84" width="13.88" height="4.84" fill="#bebce0" />
<rect x="434.62" y="182.84" width="13.88" height="4.84" fill="#d8d7ec" />
<rect x="447.90" y="182.84" width="13.88" height="4.84" fill="#e08880" />
<rect x="461.18" y="182.84" width="13.88" height="4.84" fill="#e08880" />
<rect x="474.46" y="182.84" width="13.28" height="4.84" fill="#d96c63" />
<rect x="315.10" y="187.08" width="13.88" height="4.84" fill="#6c68b2" />
<rect x="328.38" y="187.08" width="13.88" height="4.84" fill="#3b3088" />
<rect x="341.66" y="187.08" width="13.88" height="4.84" fill="#e5e4f2" />
<rect x="354.94" y="187.08" width="13.88" height="4.84" fill="#645eab" />
<rect x="368.22" y="187.08" width="13.88" height="4.84" fill="#7d7ac0" />
<rect x="381.50" y="187.08" width="13.88" height="4.84" fill="#645eab" />
<rect x="394.78" y="187.08" width="13.88" height="4.84" fill="#d4594f" />
<rect x="408.06" y="187.08" width="13.88" height="4.84" fill="#f0c4c0" />
<rect x="421.34" y="187.08" width="13.88" height="4.84" fill="#f6dbd9" />
<rect x="434.62" y="187.08" width="13.88" height="4.84" fill="#d66259" />
<rect x="447.90" y="187.08" width="13.88" height="4.84" fill="#e08880" />
<rect x="461.18" y="187.08" width="13.88" height="4.84" fill="#f0c4c0" />
<rect x="474.46" y="187.08" width="13.28" height="4.84" fill="#e6a099" />
<rect x="315.10" y="191.32" width="13.88" height="4.84" fill="#6c68b2" />
<rect x="328.38" y="191.32" width="13.88" height="4.84" fill="#3b3088" />
<rect x="341.66" y="191.32" width="13.88" height="4.84" fill="#b1afd9" />
<rect x="354.94" y="191.32" width="13.88" height="4.84" fill="#8a87c6" />
<rect x="368.22" y="191.32" width="13.88" height="4.84" fill="#a4a2d3" />
<rect x="381.50" y="191.32" width="13.88" height="4.84" fill="#9795cd" />
<rect x="394.78" y="191.32" width="13.88" height="4.84" fill="#ca3328" />
<rect x="408.06" y="191.32" width="13.88" height="4.84" fill="#ffffff" />
<rect x="421.34" y="191.32" width="13.88" height="4.84" fill="#f3cfcc" />
<rect x="434.62" y="191.32" width="13.88" height="4.84" fill="#e3948d" />
<rect x="447.90" y="191.32" width="13.88" height="4.84" fill="#e08880" />
<rect x="461.18" y="191.32" width="13.88" height="4.84" fill="#e3948d" />
<rect x="474.46" y="191.32" width="13.28" height="4.84" fill="#e08880" />
<rect x="315.10" y="195.56" width="13.88" height="4.84" fill="#4b4396" />
<rect x="328.38" y="195.56" width="13.88" height="4.84" fill="#433a8f" />
<rect x="341.66" y="195.56" width="13.88" height="4.84" fill="#bebce0" />
<rect x="354.94" y="195.56" width="13.88" height="4.84" fill="#6c68b2" />
<rect x="368.22" y="195.56" width="13.88" height="4.84" fill="#7d7ac0" />
<rect x="381.50" y="195.56" width="13.88" height="4.84" fill="#cbcae6" />
<rect x="394.78" y="195.56" width="13.88" height="4.84" fill="#d25045" />
<rect x="408.06" y="195.56" width="13.88" height="4.84" fill="#cd3d32" />
<rect x="421.34" y="195.56" width="13.88" height="4.84" fill="#f0c4c0" />
<rect x="434.62" y="195.56" width="13.88" height="4.84" fill="#e9aca6" />
<rect x="447.90" y="195.56" width="13.88" height="4.84" fill="#ffffff" />
<rect x="461.18" y="195.56" width="13.88" height="4.84" fill="#f0c4c0" />
<rect x="474.46" y="195.56" width="13.28" height="4.84" fill="#f0c4c0" />
<rect x="315.10" y="199.79" width="13.88" height="4.84" fill="#4b4396" />
<rect x="328.38" y="199.79" width="13.88" height="4.84" fill="#cbcae6" />
<rect x="341.66" y="199.79" width="13.88" height="4.84" fill="#b1afd9" />
<rect x="354.94" y="199.79" width="13.88" height="4.84" fill="#6c68b2" />
<rect x="368.22" y="199.79" width="13.88" height="4.84" fill="#4b4396" />
<rect x="381.50" y="199.79" width="13.88" height="4.84" fill="#9795cd" />
<rect x="394.78" y="199.79" width="13.88" height="4.84" fill="#d4594f" />
<rect x="408.06" y="199.79" width="13.88" height="4.84" fill="#e9aca6" />
<rect x="421.34" y="199.79" width="13.88" height="4.84" fill="#f0c4c0" />
<rect x="434.62" y="199.79" width="13.88" height="4.84" fill="#e6a099" />
<rect x="447.90" y="199.79" width="13.88" height="4.84" fill="#e6a099" />
<rect x="461.18" y="199.79" width="13.88" height="4.84" fill="#e3948d" />
<rect x="474.46" y="199.79" width="13.28" height="4.84" fill="#d96c63" />
<rect x="315.10" y="204.03" width="13.88" height="4.84" fill="#8a87c6" />
<rect x="328.38" y="204.03" width="13.88" height="4.84" fill="#322781" />
<rect x="341.66" y="204.03" width="13.88" height="4.84" fill="#cbcae6" />
<rect x="354.94" y="204.03" width="13.88" height="4.84" fill="#6c68b2" />
<rect x="368.22" y="204.03" width="13.88" height="4.84" fill="#9795cd" />
<rect x="381.50" y="204.03" width="13.88" height="4.84" fill="#9795cd" />
<rect x="394.78" y="204.03" width="13.88" height="4.84" fill="#d4594f" />
<rect x="408.06" y="204.03" width="13.88" height="4.84" fill="#f9e7e6" />
<rect x="421.34" y="204.03" width="13.88" height="4.84" fill="#ecb8b3" />
<rect x="434.62" y="204.03" width="13.88" height="4.84" fill="#e3948d" />
<rect x="447.90" y="204.03" width="13.88" height="4.84" fill="#e3948d" />
<rect x="461.18" y="204.03" width="13.88" height="4.84" fill="#e6a099" />
<rect x="474.46" y="204.03" width="13.28" height="4.84" fill="#e6a099" />
<rect x="315.10" y="208.27" width="13.88" height="4.84" fill="#7571b9" />
<rect x="328.38" y="208.27" width="13.88" height="4.84" fill="#322781" />
<rect x="341.66" y="208.27" width="13.88" height="4.84" fill="#b1afd9" />
<rect x="354.94" y="208.27" width="13.88" height="4.84" fill="#7d7ac0" />
<rect x="368.22" y="208.27" width="13.88" height="4.84" fill="#a4a2d3" />
<rect x="381.50" y="208.27" width="13.88" height="4.84" fill="#a4a2d3" />
<rect x="394.78" y="208.27" width="13.88" height="4.84" fill="#db756c" />
<rect x="408.06" y="208.27" width="13.88" height="4.84" fill="#f9e7e6" />
<rect x="421.34" y="208.27" width="13.88" height="4.84" fill="#f3cfcc" />
<rect x="434.62" y="208.27" width="13.88" height="4.84" fill="#e08880" />
<rect x="447.90" y="208.27" width="13.88" height="4.84" fill="#de7f76" />
<rect x="461.18" y="208.27" width="13.88" height="4.84" fill="#e6a099" />
<rect x="474.46" y="208.27" width="13.28" height="4.84" fill="#e08880" />
<rect x="315.10" y="212.51" width="13.88" height="4.84" fill="#645eab" />
<rect x="328.38" y="212.51" width="13.88" height="4.84" fill="#8a87c6" />
<rect x="341.66" y="212.51" width="13.88" height="4.84" fill="#b1afd9" />
<rect x="354.94" y="212.51" width="13.88" height="4.84" fill="#9795cd" />
<rect x="368.22" y="212.51" width="13.88" height="4.84" fill="#6c68b2" />
<rect x="381.50" y="212.51" width="13.88" height="4.84" fill="#8a87c6" />
<rect x="394.78" y="212.51" width="13.88" height="4.84" fill="#ca3328" />
<rect x="408.06" y="212.51" width="13.88" height="4.84" fill="#9795cd" />
<rect x="421.34" y="212.51" width="13.88" height="4.84" fill="#f6dbd9" />
<rect x="434.62" y="212.51" width="13.88" height="4.84" fill="#e9aca6" />
<rect x="447.90" y="212.51" width="13.88" height="4.84" fill="#e08880" />
<rect x="461.18" y="212.51" width="13.88" height="4.84" fill="#e3948d" />
<rect x="474.46" y="212.51" width="13.28" height="4.84" fill="#e08880" />
<rect x="315.10" y="216.75" width="13.88" height="4.84" fill="#433a8f" />
<rect x="328.38" y="216.75" width="13.88" height="4.84" fill="#7d7ac0" />
<rect x="341.66" y="216.75" width="13.88" height="4.84" fill="#a4a2d3" />
<rect x="354.94" y="216.75" width="13.88" height="4.84" fill="#433a8f" />
<rect x="368.22" y="216.75" width="13.88" height="4.84" fill="#7d7ac0" />
<rect x="381.50" y="216.75" width="13.88" height="4.84" fill="#b1afd9" />
<rect x="394.78" y="216.75" width="13.88" height="4.84" fill="#d66259" />
<rect x="408.06" y="216.75" width="13.88" height="4.84" fill="#e5e4f2" />
<rect x="421.34" y="216.75" width="13.88" height="4.84" fill="#f3cfcc" />
<rect x="434.62" y="216.75" width="13.88" height="4.84" fill="#e3948d" />
<rect x="447.90" y="216.75" width="13.88" height="4.84" fill="#d66259" />
<rect x="461.18" y="216.75" width="13.88" height="4.84" fill="#f6dbd9" />
<rect x="474.46" y="216.75" width="13.28" height="4.84" fill="#d4594f" />
<rect x="315.10" y="220.98" width="13.88" height="4.84" fill="#4b4396" />
<rect x="328.38" y="220.98" width="13.88" height="4.84" fill="#544c9d" />
<rect x="341.66" y="220.98" width="13.88" height="4.84" fill="#d8d7ec" />
<rect x="354.94" y="220.98" width="13.88" height="4.84" fill="#b1afd9" />
<rect x="368.22" y="220.98" width="13.88" height="4.84" fill="#645eab" />
<rect x="381.50" y="220.98" width="13.88" height="4.84" fill="#a4a2d3" />
<rect x="394.78" y="220.98" width="13.88" height="4.84" fill="#ca3328" />
<rect x="408.06" y="220.98" width="13.88" height="4.84" fill="#e9aca6" />
<rect x="421.34" y="220.98" width="13.88" height="4.84" fill="#f2f2f9" />
<rect x="434.62" y="220.98" width="13.88" height="4.84" fill="#f6dbd9" />
<rect x="447.90" y="220.98" width="13.88" height="4.84" fill="#e08880" />
<rect x="461.18" y="220.98" width="13.88" height="4.84" fill="#e08880" />
<rect x="474.46" y="220.98" width="13.28" height="4.84" fill="#e6a099" />
<rect x="315.10" y="225.22" width="13.88" height="4.84" fill="#544c9d" />
<rect x="328.38" y="225.22" width="13.88" height="4.84" fill="#b1afd9" />
<rect x="341.66" y="225.22" width="13.88" height="4.84" fill="#7d7ac0" />
<rect x="354.94" y="225.22" width="13.88" height="4.84" fill="#b1afd9" />
<rect x="368.22" y="225.22" width="13.88" height="4.84" fill="#6c68b2" />
<rect x="381.50" y="225.22" width="13.88" height="4.84" fill="#7571b9" />
<rect x="394.78" y="225.22" width="13.88" height="4.84" fill="#ca3328" />
<rect x="408.06" y="225.22" width="13.88" height="4.84" fill="#f6dbd9" />
<rect x="421.34" y="225.22" width="13.88" height="4.84" fill="#f6dbd9" />
<rect x="434.62" y="225.22" width="13.88" height="4.84" fill="#ecb8b3" />
<rect x="447.90" y="225.22" width="13.88" height="4.84" fill="#de7f76" />
<rect x="461.18" y="225.22" width="13.88" height="4.84" fill="#fcf3f2" />
<rect x="474.46" y="225.22" width="13.28" height="4.84" fill="#e08880" />
<rect x="315.10" y="229.46" width="13.88" height="4.84" fill="#7d7ac0" />
<rect x="328.38" y="229.46" width="13.88" height="4.84" fill="#6c68b2" />
<rect x="341.66" y="229.46" width="13.88" height="4.84" fill="#b1afd9" />
<rect x="354.94" y="229.46" width="13.88" height="4.84" fill="#8a87c6" />
<rect x="368.22" y="229.46" width="13.88" height="4.84" fill="#6c68b2" />
<rect x="381.50" y="229.46" width="13.88" height="4.84" fill="#3b3088" />
<rect x="394.78" y="229.46" width="13.88" height="4.84" fill="#db756c" />
<rect x="408.06" y="229.46" width="13.88" height="4.84" fill="#f3cfcc" />
<rect x="421.34" y="229.46" width="13.88" height="4.84" fill="#f6dbd9" />
<rect x="434.62" y="229.46" width="13.88" height="4.84" fill="#e6a099" />
<rect x="447.90" y="229.46" width="13.88" height="4.84" fill="#d66259" />
<rect x="461.18" y="229.46" width="13.88" height="4.84" fill="#e6a099" />
<rect x="474.46" y="229.46" width="13.28" height="4.84" fill="#de7f76" />
<rect x="315.10" y="233.70" width="13.88" height="4.84" fill="#3b3088" />
<rect x="328.38" y="233.70" width="13.88" height="4.84" fill="#6c68b2" />
<rect x="341.66" y="233.70" width="13.88" height="4.84" fill="#ffffff" />
<rect x="354.94" y="233.70" width="13.88" height="4.84" fill="#a4a2d3" />
<rect x="368.22" y="233.70" width="13.88" height="4.84" fill="#6c68b2" />
<rect x="381.50" y="233.70" width="13.88" height="4.84" fill="#b1afd9" />
<rect x="394.78" y="233.70" width="13.88" height="4.84" fill="#cd3d32" />
<rect x="408.06" y="233.70" width="13.88" height="4.84" fill="#e6a099" />
<rect x="421.34" y="233.70" width="13.88" height="4.84" fill="#ecb8b3" />
<rect x="434.62" y="233.70" width="13.88" height="4.84" fill="#f0c4c0" />
<rect x="447.90" y="233.70" width="13.88" height="4.84" fill="#ffffff" />
<rect x="461.18" y="233.70" width="13.88" height="4.84" fill="#e6a099" />
<rect x="474.46" y="233.70" width="13.28" height="4.84" fill="#e08880" />
<rect x="315.10" y="237.94" width="13.88" height="4.84" fill="#544c9d" />
<rect x="328.38" y="237.94" width="13.88" height="4.84" fill="#3b3088" />
<rect x="341.66" y="237.94" width="13.88" height="4.84" fill="#b1afd9" />
<rect x="354.94" y="237.94" width="13.88" height="4.84" fill="#7d7ac0" />
<rect x="368.22" y="237.94" width="13.88" height="4.84" fill="#b1afd9" />
<rect x="381.50" y="237.94" width="13.88" height="4.84" fill="#f2f2f9" />
<rect x="394.78" y="237.94" width="13.88" height="4.84" fill="#e9aca6" />
<rect x="408.06" y="237.94" width="13.88" height="4.84" fill="#cbcae6" />
<rect x="421.34" y="237.94" width="13.88" height="4.84" fill="#d96c63" />
<rect x="434.62" y="237.94" width="13.88" height="4.84" fill="#ca3328" />
<rect x="447.90" y="237.94" width="13.88" height="4.84" fill="#e08880" />
<rect x="461.18" y="237.94" width="13.88" height="4.84" fill="#ecb8b3" />
<rect x="474.46" y="237.94" width="13.28" height="4.84" fill="#ffffff" />
<rect x="315.10" y="242.17" width="13.88" height="4.84" fill="#544c9d" />
<rect x="328.38" y="242.17" width="13.88" height="4.84" fill="#645eab" />
<rect x="341.66" y="242.17" width="13.88" height="4.84" fill="#a4a2d3" />
<rect x="354.94" y="242.17" width="13.88" height="4.84" fill="#7d7ac0" />
<rect x="368.22" y="242.17" width="13.88" height="4.84" fill="#4b4396" />
<rect x="381.50" y="242.17" width="13.88" height="4.84" fill="#a4a2d3" />
<rect x="394.78" y="242.17" width="13.88" height="4.84" fill="#de7f76" />
<rect x="408.06" y="242.17" width="13.88" height="4.84" fill="#f6dbd9" />
<rect x="421.34" y="242.17" width="13.88" height="4.84" fill="#f3cfcc" />
<rect x="434.62" y="242.17" width="13.88" height="4.84" fill="#e9aca6" />
<rect x="447.90" y="242.17" width="13.88" height="4.84" fill="#d66259" />
<rect x="461.18" y="242.17" width="13.88" height="4.84" fill="#e6a099" />
<rect x="474.46" y="242.17" width="13.28" height="4.84" fill="#d96c63" />
<rect x="315.10" y="246.41" width="13.88" height="4.84" fill="#3b3088" />
<rect x="328.38" y="246.41" width="13.88" height="4.84" fill="#3b3088" />
<rect x="341.66" y="246.41" width="13.88" height="4.84" fill="#e5e4f2" />
<rect x="354.94" y="246.41" width="13.88" height="4.84" fill="#544c9d" />
<rect x="368.22" y="246.41" width="13.88" height="4.84" fill="#8a87c6" />
<rect x="381.50" y="246.41" width="13.88" height="4.84" fill="#f9e7e6" />
<rect x="394.78" y="246.41" width="13.88" height="4.84" fill="#ffffff" />
<rect x="408.06" y="246.41" width="13.88" height="4.84" fill="#e6a099" />
<rect x="421.34" y="246.41" width="13.88" height="4.84" fill="#ecb8b3" />
<rect x="434.62" y="246.41" width="13.88" height="4.84" fill="#e9aca6" />
<rect x="447.90" y="246.41" width="13.88" height="4.84" fill="#e6a099" />
<rect x="461.18" y="246.41" width="13.88" height="4.84" fill="#e08880" />
<rect x="474.46" y="246.41" width="13.28" height="4.84" fill="#db756c" />
<rect x="315.10" y="250.65" width="13.88" height="4.84" fill="#5c55a4" />
<rect x="328.38" y="250.65" width="13.88" height="4.84" fill="#3b3088" />
<rect x="341.66" y="250.65" width="13.88" height="4.84" fill="#bebce0" />
<rect x="354.94" y="250.65" width="13.88" height="4.84" fill="#7d7ac0" />
<rect x="368.22" y="250.65" width="13.88" height="4.84" fill="#8a87c6" />
<rect x="381.50" y="250.65" width="13.88" height="4.84" fill="#6c68b2" />
<rect x="394.78" y="250.65" width="13.88" height="4.84" fill="#e08880" />
<rect x="408.06" y="250.65" width="13.88" height="4.84" fill="#f0c4c0" />
<rect x="421.34" y="250.65" width="13.88" height="4.84" fill="#f9e7e6" />
<rect x="434.62" y="250.65" width="13.88" height="4.84" fill="#d25045" />
<rect x="447.90" y="250.65" width="13.88" height="4.84" fill="#e6a099" />
<rect x="461.18" y="250.65" width="13.88" height="4.84" fill="#e9aca6" />
<rect x="474.46" y="250.65" width="13.28" height="4.84" fill="#db756c" />
<rect x="315.10" y="254.89" width="13.88" height="4.84" fill="#6c68b2" />
<rect x="328.38" y="254.89" width="13.88" height="4.84" fill="#3b3088" />
<rect x="341.66" y="254.89" width="13.88" height="4.84" fill="#cbcae6" />
<rect x="354.94" y="254.89" width="13.88" height="4.84" fill="#7d7ac0" />
<rect x="368.22" y="254.89" width="13.88" height="4.84" fill="#8a87c6" />
<rect x="381.50" y="254.89" width="13.88" height="4.84" fill="#3b3088" />
<rect x="394.78" y="254.89" width="13.88" height="4.84" fill="#e9aca6" />
<rect x="408.06" y="254.89" width="13.88" height="4.84" fill="#f0c4c0" />
<rect x="421.34" y="254.89" width="13.88" height="4.84" fill="#ecb8b3" />
<rect x="434.62" y="254.89" width="13.88" height="4.84" fill="#d25045" />
<rect x="447.90" y="254.89" width="13.88" height="4.84" fill="#ecb8b3" />
<rect x="461.18" y="254.89" width="13.88" height="4.84" fill="#ecb8b3" />
<rect x="474.46" y="254.89" width="13.28" height="4.84" fill="#de7f76" />
<rect x="315.10" y="259.13" width="13.88" height="4.84" fill="#4b4396" />
<rect x="328.38" y="259.13" width="13.88" height="4.84" fill="#5c55a4" />
<rect x="341.66" y="259.13" width="13.88" height="4.84" fill="#b1afd9" />
<rect x="354.94" y="259.13" width="13.88" height="4.84" fill="#7571b9" />
<rect x="368.22" y="259.13" width="13.88" height="4.84" fill="#9795cd" />
<rect x="381.50" y="259.13" width="13.88" height="4.84" fill="#6c68b2" />
<rect x="394.78" y="259.13" width="13.88" height="4.84" fill="#e08880" />
<rect x="408.06" y="259.13" width="13.88" height="4.84" fill="#f3cfcc" />
<rect x="421.34" y="259.13" width="13.88" height="4.84" fill="#e9aca6" />
<rect x="434.62" y="259.13" width="13.88" height="4.84" fill="#e08880" />
<rect x="447.90" y="259.13" width="13.88" height="4.84" fill="#e08880" />
<rect x="461.18" y="259.13" width="13.88" height="4.84" fill="#e08880" />
<rect x="474.46" y="259.13" width="13.28" height="4.84" fill="#de7f76" />
<rect x="315.10" y="263.36" width="13.88" height="4.84" fill="#4b4396" />
<rect x="328.38" y="263.36" width="13.88" height="4.84" fill="#645eab" />
<rect x="341.66" y="263.36" width="13.88" height="4.84" fill="#e5e4f2" />
<rect x="354.94" y="263.36" width="13.88" height="4.84" fill="#7d7ac0" />
<rect x="368.22" y="263.36" width="13.88" height="4.84" fill="#8a87c6" />
<rect x="381.50" y="263.36" width="13.88" height="4.84" fill="#6c68b2" />
<rect x="394.78" y="263.36" width="13.88" height="4.84" fill="#e08880" />
<rect x="408.06" y="263.36" width="13.88" height="4.84" fill="#f6dbd9" />
<rect x="421.34" y="263.36" width="13.88" height="4.84" fill="#f0c4c0" />
<rect x="434.62" y="263.36" width="13.88" height="4.84" fill="#e08880" />
<rect x="447.90" y="263.36" width="13.88" height="4.84" fill="#e9aca6" />
<rect x="461.18" y="263.36" width="13.88" height="4.84" fill="#e3948d" />
<rect x="474.46" y="263.36" width="13.28" height="4.84" fill="#d96c63" />
<rect x="315.10" y="267.60" width="13.88" height="4.84" fill="#4b4396" />
<rect x="328.38" y="267.60" width="13.88" height="4.84" fill="#8a87c6" />
<rect x="341.66" y="267.60" width="13.88" height="4.84" fill="#7d7ac0" />
<rect x="354.94" y="267.60" width="13.88" height="4.84" fill="#9795cd" />
<rect x="368.22" y="267.60" width="13.88" height="4.84" fill="#9795cd" />
<rect x="381.50" y="267.60" width="13.88" height="4.84" fill="#8a87c6" />
<rect x="394.78" y="267.60" width="13.88" height="4.84" fill="#e08880" />
<rect x="408.06" y="267.60" width="13.88" height="4.84" fill="#e6a099" />
<rect x="421.34" y="267.60" width="13.88" height="4.84" fill="#ffffff" />
<rect x="434.62" y="267.60" width="13.88" height="4.84" fill="#fcf3f2" />
<rect x="447.90" y="267.60" width="13.88" height="4.84" fill="#d66259" />
<rect x="461.18" y="267.60" width="13.88" height="4.84" fill="#ca3328" />
<rect x="474.46" y="267.60" width="13.28" height="4.84" fill="#fcf3f2" />
<rect x="315.10" y="271.84" width="13.88" height="4.84" fill="#4b4396" />
<rect x="328.38" y="271.84" width="13.88" height="4.84" fill="#6c68b2" />
<rect x="341.66" y="271.84" width="13.88" height="4.84" fill="#cbcae6" />
<rect x="354.94" y="271.84" width="13.88" height="4.84" fill="#544c9d" />
<rect x="368.22" y="271.84" width="13.88" height="4.84" fill="#ffffff" />
<rect x="381.50" y="271.84" width="13.88" height="4.84" fill="#7571b9" />
<rect x="394.78" y="271.84" width="13.88" height="4.84" fill="#ca3328" />
<rect x="408.06" y="271.84" width="13.88" height="4.84" fill="#de7f76" />
<rect x="421.34" y="271.84" width="13.88" height="4.84" fill="#f6dbd9" />
<rect x="434.62" y="271.84" width="13.88" height="4.84" fill="#f0c4c0" />
<rect x="447.90" y="271.84" width="13.88" height="4.84" fill="#f2f2f9" />
<rect x="461.18" y="271.84" width="13.88" height="4.84" fill="#ecb8b3" />
<rect x="474.46" y="271.84" width="13.28" height="4.84" fill="#f0c4c0" />
<rect x="315.10" y="276.08" width="13.88" height="4.84" fill="#433a8f" />
<rect x="328.38" y="276.08" width="13.88" height="4.84" fill="#6c68b2" />
<rect x="341.66" y="276.08" width="13.88" height="4.84" fill="#f2f2f9" />
<rect x="354.94" y="276.08" width="13.88" height="4.84" fill="#8a87c6" />
<rect x="368.22" y="276.08" width="13.88" height="4.84" fill="#9795cd" />
<rect x="381.50" y="276.08" width="13.88" height="4.84" fill="#7d7ac0" />
<rect x="394.78" y="276.08" width="13.88" height="4.84" fill="#ca3328" />
<rect x="408.06" y="276.08" width="13.88" height="4.84" fill="#d8d7ec" />
<rect x="421.34" y="276.08" width="13.88" height="4.84" fill="#e6a099" />
<rect x="434.62" y="276.08" width="13.88" height="4.84" fill="#f9e7e6" />
<rect x="447.90" y="276.08" width="13.88" height="4.84" fill="#ecb8b3" />
<rect x="461.18" y="276.08" width="13.88" height="4.84" fill="#ecb8b3" />
<rect x="474.46" y="276.08" width="13.28" height="4.84" fill="#db756c" />
<rect x="315.10" y="280.32" width="13.88" height="4.84" fill="#8a87c6" />
<rect x="328.38" y="280.32" width="13.88" height="4.84" fill="#3b3088" />
<rect x="341.66" y="280.32" width="13.88" height="4.84" fill="#d8d7ec" />
<rect x="354.94" y="280.32" width="13.88" height="4.84" fill="#8a87c6" />
<rect x="368.22" y="280.32" width="13.88" height="4.84" fill="#8a87c6" />
<rect x="381.50" y="280.32" width="13.88" height="4.84" fill="#3b3088" />
<rect x="394.78" y="280.32" width="13.88" height="4.84" fill="#d66259" />
<rect x="408.06" y="280.32" width="13.88" height="4.84" fill="#f6dbd9" />
<rect x="421.34" y="280.32" width="13.88" height="4.84" fill="#de7f76" />
<rect x="434.62" y="280.32" width="13.88" height="4.84" fill="#f3cfcc" />
<rect x="447.90" y="280.32" width="13.88" height="4.84" fill="#ecb8b3" />
<rect x="461.18" y="280.32" width="13.88" height="4.84" fill="#f3cfcc" />
<rect x="474.46" y="280.32" width="13.28" height="4.84" fill="#e08880" />
<rect x="315.10" y="284.55" width="13.88" height="4.84" fill="#7571b9" />
<rect x="328.38" y="284.55" width="13.88" height="4.84" fill="#322781" />
<rect x="341.66" y="284.55" width="13.88" height="4.84" fill="#bebce0" />
<rect x="354.94" y="284.55" width="13.88" height="4.84" fill="#7d7ac0" />
<rect x="368.22" y="284.55" width="13.88" height="4.84" fill="#8a87c6" />
<rect x="381.50" y="284.55" width="13.88" height="4.84" fill="#b1afd9" />
<rect x="394.78" y="284.55" width="13.88" height="4.84" fill="#e5e4f2" />
<rect x="408.06" y="284.55" width="13.88" height="4.84" fill="#e6a099" />
<rect x="421.34" y="284.55" width="13.88" height="4.84" fill="#ffffff" />
<rect x="434.62" y="284.55" width="13.88" height="4.84" fill="#cf463b" />
<rect x="447.90" y="284.55" width="13.88" height="4.84" fill="#d4594f" />
<rect x="461.18" y="284.55" width="13.88" height="4.84" fill="#f0c4c0" />
<rect x="474.46" y="284.55" width="13.28" height="4.84" fill="#e08880" />
<rect x="315.10" y="288.79" width="13.88" height="4.84" fill="#5c55a4" />
<rect x="328.38" y="288.79" width="13.88" height="4.84" fill="#322781" />
<rect x="341.66" y="288.79" width="13.88" height="4.84" fill="#cbcae6" />
<rect x="354.94" y="288.79" width="13.88" height="4.84" fill="#645eab" />
<rect x="368.22" y="288.79" width="13.88" height="4.84" fill="#b1afd9" />
<rect x="381.50" y="288.79" width="13.88" height="4.84" fill="#bebce0" />
<rect x="394.78" y="288.79" width="13.88" height="4.84" fill="#f6dbd9" />
<rect x="408.06" y="288.79" width="13.88" height="4.84" fill="#ffffff" />
<rect x="421.34" y="288.79" width="13.88" height="4.84" fill="#f3cfcc" />
<rect x="434.62" y="288.79" width="13.88" height="4.84" fill="#cd3d32" />
<rect x="447.90" y="288.79" width="13.88" height="4.84" fill="#db756c" />
<rect x="461.18" y="288.79" width="13.88" height="4.84" fill="#f0c4c0" />
<rect x="474.46" y="288.79" width="13.28" height="4.84" fill="#e3948d" />
<rect x="315.10" y="293.03" width="13.88" height="4.84" fill="#544c9d" />
<rect x="328.38" y="293.03" width="13.88" height="4.84" fill="#6c68b2" />
<rect x="341.66" y="293.03" width="13.88" height="4.84" fill="#f6dbd9" />
<rect x="354.94" y="293.03" width="13.88" height="4.84" fill="#6c68b2" />
<rect x="368.22" y="293.03" width="13.88" height="4.84" fill="#7d7ac0" />
<rect x="381.50" y="293.03" width="13.88" height="4.84" fill="#e5e4f2" />
<rect x="394.78" y="293.03" width="13.88" height="4.84" fill="#e6a099" />
<rect x="408.06" y="293.03" width="13.88" height="4.84" fill="#d8d7ec" />
<rect x="421.34" y="293.03" width="13.88" height="4.84" fill="#e6a099" />
<rect x="434.62" y="293.03" width="13.88" height="4.84" fill="#d4594f" />
<rect x="447.90" y="293.03" width="13.88" height="4.84" fill="#ffffff" />
<rect x="461.18" y="293.03" width="13.88" height="4.84" fill="#f3cfcc" />
<rect x="474.46" y="293.03" width="13.28" height="4.84" fill="#d66259" />
<rect x="315.10" y="297.27" width="13.88" height="4.84" fill="#645eab" />
<rect x="328.38" y="297.27" width="13.88" height="4.84" fill="#cbcae6" />
<rect x="341.66" y="297.27" width="13.88" height="4.84" fill="#8a87c6" />
<rect x="354.94" y="297.27" width="13.88" height="4.84" fill="#544c9d" />
<rect x="368.22" y="297.27" width="13.88" height="4.84" fill="#7d7ac0" />
<rect x="381.50" y="297.27" width="13.88" height="4.84" fill="#6c68b2" />
<rect x="394.78" y="297.27" width="13.88" height="4.84" fill="#d25045" />
<rect x="408.06" y="297.27" width="13.88" height="4.84" fill="#f3cfcc" />
<rect x="421.34" y="297.27" width="13.88" height="4.84" fill="#ecb8b3" />
<rect x="434.62" y="297.27" width="13.88" height="4.84" fill="#e08880" />
<rect x="447.90" y="297.27" width="13.88" height="4.84" fill="#e08880" />
<rect x="461.18" y="297.27" width="13.88" height="4.84" fill="#ecb8b3" />
<rect x="474.46" y="297.27" width="13.28" height="4.84" fill="#e08880" />
<rect x="315.10" y="301.51" width="13.88" height="4.84" fill="#645eab" />
<rect x="328.38" y="301.51" width="13.88" height="4.84" fill="#8a87c6" />
<rect x="341.66" y="301.51" width="13.88" height="4.84" fill="#8a87c6" />
<rect x="354.94" y="301.51" width="13.88" height="4.84" fill="#645eab" />
<rect x="368.22" y="301.51" width="13.88" height="4.84" fill="#7d7ac0" />
<rect x="381.50" y="301.51" width="13.88" height="4.84" fill="#7571b9" />
<rect x="394.78" y="301.51" width="13.88" height="4.84" fill="#d25045" />
<rect x="408.06" y="301.51" width="13.88" height="4.84" fill="#f3cfcc" />
<rect x="421.34" y="301.51" width="13.88" height="4.84" fill="#f6dbd9" />
<rect x="434.62" y="301.51" width="13.88" height="4.84" fill="#e6a099" />
<rect x="447.90" y="301.51" width="13.88" height="4.84" fill="#db756c" />
<rect x="461.18" y="301.51" width="13.88" height="4.84" fill="#ecb8b3" />
<rect x="474.46" y="301.51" width="13.28" height="4.84" fill="#e3948d" />
<rect x="315.10" y="305.74" width="13.88" height="4.84" fill="#645eab" />
<rect x="328.38" y="305.74" width="13.88" height="4.84" fill="#322781" />
<rect x="341.66" y="305.74" width="13.88" height="4.84" fill="#f2f2f9" />
<rect x="354.94" y="305.74" width="13.88" height="4.84" fill="#5c55a4" />
<rect x="368.22" y="305.74" width="13.88" height="4.84" fill="#e5e4f2" />
<rect x="381.50" y="305.74" width="13.88" height="4.84" fill="#7d7ac0" />
<rect x="394.78" y="305.74" width="13.88" height="4.84" fill="#db756c" />
<rect x="408.06" y="305.74" width="13.88" height="4.84" fill="#cf463b" />
<rect x="421.34" y="305.74" width="13.88" height="4.84" fill="#f6dbd9" />
<rect x="434.62" y="305.74" width="13.88" height="4.84" fill="#de7f76" />
<rect x="447.90" y="305.74" width="13.88" height="4.84" fill="#f0c4c0" />
<rect x="461.18" y="305.74" width="13.88" height="4.84" fill="#ecb8b3" />
<rect x="474.46" y="305.74" width="13.28" height="4.84" fill="#f6dbd9" />
<rect x="315.10" y="309.98" width="13.88" height="4.84" fill="#7d7ac0" />
<rect x="328.38" y="309.98" width="13.88" height="4.84" fill="#7d7ac0" />
<rect x="341.66" y="309.98" width="13.88" height="4.84" fill="#bebce0" />
<rect x="354.94" y="309.98" width="13.88" height="4.84" fill="#a4a2d3" />
<rect x="368.22" y="309.98" width="13.88" height="4.84" fill="#645eab" />
<rect x="381.50" y="309.98" width="13.88" height="4.84" fill="#8a87c6" />
<rect x="394.78" y="309.98" width="13.88" height="4.84" fill="#cf463b" />
<rect x="408.06" y="309.98" width="13.88" height="4.84" fill="#2a1e7a" />
<rect x="421.34" y="309.98" width="13.88" height="4.84" fill="#e6a099" />
<rect x="434.62" y="309.98" width="13.88" height="4.84" fill="#de7f76" />
<rect x="447.90" y="309.98" width="13.88" height="4.84" fill="#ecb8b3" />
<rect x="461.18" y="309.98" width="13.88" height="4.84" fill="#ecb8b3" />
<rect x="474.46" y="309.98" width="13.28" height="4.84" fill="#e08880" />
<rect x="315.10" y="314.22" width="13.88" height="4.84" fill="#544c9d" />
<rect x="328.38" y="314.22" width="13.88" height="4.84" fill="#645eab" />
<rect x="341.66" y="314.22" width="13.88" height="4.84" fill="#bebce0" />
<rect x="354.94" y="314.22" width="13.88" height="4.84" fill="#645eab" />
<rect x="368.22" y="314.22" width="13.88" height="4.84" fill="#8a87c6" />
<rect x="381.50" y="314.22" width="13.88" height="4.84" fill="#8a87c6" />
<rect x="394.78" y="314.22" width="13.88" height="4.84" fill="#d25045" />
<rect x="408.06" y="314.22" width="13.88" height="4.84" fill="#d25045" />
<rect x="421.34" y="314.22" width="13.88" height="4.84" fill="#f3cfcc" />
<rect x="434.62" y="314.22" width="13.88" height="4.84" fill="#e08880" />
<rect x="447.90" y="314.22" width="13.88" height="4.84" fill="#d8d7ec" />
<rect x="461.18" y="314.22" width="13.88" height="4.84" fill="#e3948d" />
<rect x="474.46" y="314.22" width="13.28" height="4.84" fill="#e3948d" />
<rect x="315.10" y="318.46" width="13.88" height="4.84" fill="#645eab" />
<rect x="328.38" y="318.46" width="13.88" height="4.84" fill="#5c55a4" />
<rect x="341.66" y="318.46" width="13.88" height="4.84" fill="#a4a2d3" />
<rect x="354.94" y="318.46" width="13.88" height="4.84" fill="#8a87c6" />
<rect x="368.22" y="318.46" width="13.88" height="4.84" fill="#bebce0" />
<rect x="381.50" y="318.46" width="13.88" height="4.84" fill="#7571b9" />
<rect x="394.78" y="318.46" width="13.88" height="4.84" fill="#f0c4c0" />
<rect x="408.06" y="318.46" width="13.88" height="4.84" fill="#ecb8b3" />
<rect x="421.34" y="318.46" width="13.88" height="4.84" fill="#d96c63" />
<rect x="434.62" y="318.46" width="13.88" height="4.84" fill="#cf463b" />
<rect x="447.90" y="318.46" width="13.88" height="4.84" fill="#ecb8b3" />
<rect x="461.18" y="318.46" width="13.88" height="4.84" fill="#f3cfcc" />
<rect x="474.46" y="318.46" width="13.28" height="4.84" fill="#f0c4c0" />
<rect x="315.10" y="322.70" width="13.88" height="4.84" fill="#7571b9" />
<rect x="328.38" y="322.70" width="13.88" height="4.84" fill="#6c68b2" />
<rect x="341.66" y="322.70" width="13.88" height="4.84" fill="#bebce0" />
<rect x="354.94" y="322.70" width="13.88" height="4.84" fill="#645eab" />
<rect x="368.22" y="322.70" width="13.88" height="4.84" fill="#9795cd" />
<rect x="381.50" y="322.70" width="13.88" height="4.84" fill="#6c68b2" />
<rect x="394.78" y="322.70" width="13.88" height="4.84" fill="#db756c" />
<rect x="408.06" y="322.70" width="13.88" height="4.84" fill="#bebce0" />
<rect x="421.34" y="322.70" width="13.88" height="4.84" fill="#e3948d" />
<rect x="434.62" y="322.70" width="13.88" height="4.84" fill="#e08880" />
<rect x="447.90" y="322.70" width="13.88" height="4.84" fill="#de7f76" />
<rect x="461.18" y="322.70" width="13.88" height="4.84" fill="#de7f76" />
<rect x="474.46" y="322.70" width="13.28" height="4.84" fill="#de7f76" />
<rect x="315.10" y="326.93" width="13.88" height="4.84" fill="#322781" />
<rect x="328.38" y="326.93" width="13.88" height="4.84" fill="#6c68b2" />
<rect x="341.66" y="326.93" width="13.88" height="4.84" fill="#f2f2f9" />
<rect x="354.94" y="326.93" width="13.88" height="4.84" fill="#645eab" />
<rect x="368.22" y="326.93" width="13.88" height="4.84" fill="#cbcae6" />
<rect x="381.50" y="326.93" width="13.88" height="4.84" fill="#8a87c6" />
<rect x="394.78" y="326.93" width="13.88" height="4.84" fill="#fcf3f2" />
<rect x="408.06" y="326.93" width="13.88" height="4.84" fill="#ca3328" />
<rect x="421.34" y="326.93" width="13.88" height="4.84" fill="#e6a099" />
<rect x="434.62" y="326.93" width="13.88" height="4.84" fill="#e3948d" />
<rect x="447.90" y="326.93" width="13.88" height="4.84" fill="#ffffff" />
<rect x="461.18" y="326.93" width="13.88" height="4.84" fill="#ecb8b3" />
<rect x="474.46" y="326.93" width="13.28" height="4.84" fill="#e6a099" />
<rect x="315.10" y="331.17" width="13.88" height="4.84" fill="#9795cd" />
<rect x="328.38" y="331.17" width="13.88" height="4.84" fill="#7571b9" />
<rect x="341.66" y="331.17" width="13.88" height="4.84" fill="#7d7ac0" />
<rect x="354.94" y="331.17" width="13.88" height="4.84" fill="#cbcae6" />
<rect x="368.22" y="331.17" width="13.88" height="4.84" fill="#322781" />
<rect x="381.50" y="331.17" width="13.88" height="4.84" fill="#8a87c6" />
<rect x="394.78" y="331.17" width="13.88" height="4.84" fill="#fcf3f2" />
<rect x="408.06" y="331.17" width="13.88" height="4.84" fill="#fcf3f2" />
<rect x="421.34" y="331.17" width="13.88" height="4.84" fill="#d8d7ec" />
<rect x="434.62" y="331.17" width="13.88" height="4.84" fill="#cf463b" />
<rect x="447.90" y="331.17" width="13.88" height="4.84" fill="#e08880" />
<rect x="461.18" y="331.17" width="13.88" height="4.84" fill="#e6a099" />
<rect x="474.46" y="331.17" width="13.28" height="4.84" fill="#e08880" />
<rect x="315.10" y="335.41" width="13.88" height="4.84" fill="#645eab" />
<rect x="328.38" y="335.41" width="13.88" height="4.84" fill="#9795cd" />
<rect x="341.66" y="335.41" width="13.88" height="4.84" fill="#a4a2d3" />
<rect x="354.94" y="335.41" width="13.88" height="4.84" fill="#433a8f" />
<rect x="368.22" y="335.41" width="13.88" height="4.84" fill="#6c68b2" />
<rect x="381.50" y="335.41" width="13.88" height="4.84" fill="#7571b9" />
<rect x="394.78" y="335.41" width="13.88" height="4.84" fill="#db756c" />
<rect x="408.06" y="335.41" width="13.88" height="4.84" fill="#cf463b" />
<rect x="421.34" y="335.41" width="13.88" height="4.84" fill="#f9e7e6" />
<rect x="434.62" y="335.41" width="13.88" height="4.84" fill="#d96c63" />
<rect x="447.90" y="335.41" width="13.88" height="4.84" fill="#f6dbd9" />
<rect x="461.18" y="335.41" width="13.88" height="4.84" fill="#fcf3f2" />
<rect x="474.46" y="335.41" width="13.28" height="4.84" fill="#e08880" />
<rect x="315.10" y="339.65" width="13.88" height="4.84" fill="#645eab" />
<rect x="328.38" y="339.65" width="13.88" height="4.84" fill="#433a8f" />
<rect x="341.66" y="339.65" width="13.88" height="4.84" fill="#d8d7ec" />
<rect x="354.94" y="339.65" width="13.88" height="4.84" fill="#a4a2d3" />
<rect x="368.22" y="339.65" width="13.88" height="4.84" fill="#5c55a4" />
<rect x="381.50" y="339.65" width="13.88" height="4.84" fill="#7571b9" />
<rect x="394.78" y="339.65" width="13.88" height="4.84" fill="#d96c63" />
<rect x="408.06" y="339.65" width="13.88" height="4.84" fill="#e6a099" />
<rect x="421.34" y="339.65" width="13.88" height="4.84" fill="#ecb8b3" />
<rect x="434.62" y="339.65" width="13.88" height="4.84" fill="#e08880" />
<rect x="447.90" y="339.65" width="13.88" height="4.84" fill="#f6dbd9" />
<rect x="461.18" y="339.65" width="13.88" height="4.84" fill="#e6a099" />
<rect x="474.46" y="339.65" width="13.28" height="4.84" fill="#e08880" />
<rect x="315.10" y="343.89" width="13.88" height="4.84" fill="#a4a2d3" />
<rect x="328.38" y="343.89" width="13.88" height="4.84" fill="#6c68b2" />
<rect x="341.66" y="343.89" width="13.88" height="4.84" fill="#bebce0" />
<rect x="354.94" y="343.89" width="13.88" height="4.84" fill="#8a87c6" />
<rect x="368.22" y="343.89" width="13.88" height="4.84" fill="#6c68b2" />
<rect x="381.50" y="343.89" width="13.88" height="4.84" fill="#322781" />
<rect x="394.78" y="343.89" width="13.88" height="4.84" fill="#d96c63" />
<rect x="408.06" y="343.89" width="13.88" height="4.84" fill="#e3948d" />
<rect x="421.34" y="343.89" width="13.88" height="4.84" fill="#ffffff" />
<rect x="434.62" y="343.89" width="13.88" height="4.84" fill="#e08880" />
<rect x="447.90" y="343.89" width="13.88" height="4.84" fill="#f6dbd9" />
<rect x="461.18" y="343.89" width="13.88" height="4.84" fill="#ecb8b3" />
<rect x="474.46" y="343.89" width="13.28" height="4.84" fill="#e3948d" />
<rect x="315.10" y="348.12" width="13.88" height="4.84" fill="#7d7ac0" />
<rect x="328.38" y="348.12" width="13.88" height="4.84" fill="#3b3088" />
<rect x="341.66" y="348.12" width="13.88" height="4.84" fill="#b1afd9" />
<rect x="354.94" y="348.12" width="13.88" height="4.84" fill="#8a87c6" />
<rect x="368.22" y="348.12" width="13.88" height="4.84" fill="#bebce0" />
<rect x="381.50" y="348.12" width="13.88" height="4.84" fill="#8a87c6" />
<rect x="394.78" y="348.12" width="13.88" height="4.84" fill="#ffffff" />
<rect x="408.06" y="348.12" width="13.88" height="4.84" fill="#cbcae6" />
<rect x="421.34" y="348.12" width="13.88" height="4.84" fill="#e9aca6" />
<rect x="434.62" y="348.12" width="13.88" height="4.84" fill="#cf463b" />
<rect x="447.90" y="348.12" width="13.88" height="4.84" fill="#de7f76" />
<rect x="461.18" y="348.12" width="13.88" height="4.84" fill="#e6a099" />
<rect x="474.46" y="348.12" width="13.28" height="4.84" fill="#e08880" />
<rect x="315.10" y="352.36" width="13.88" height="4.84" fill="#7d7ac0" />
<rect x="328.38" y="352.36" width="13.88" height="4.84" fill="#6c68b2" />
<rect x="341.66" y="352.36" width="13.88" height="4.84" fill="#7d7ac0" />
<rect x="354.94" y="352.36" width="13.88" height="4.84" fill="#6c68b2" />
<rect x="368.22" y="352.36" width="13.88" height="4.84" fill="#bebce0" />
<rect x="381.50" y="352.36" width="13.88" height="4.84" fill="#7571b9" />
<rect x="394.78" y="352.36" width="13.88" height="4.84" fill="#e3948d" />
<rect x="408.06" y="352.36" width="13.88" height="4.84" fill="#cd3d32" />
<rect x="421.34" y="352.36" width="13.88" height="4.84" fill="#f3cfcc" />
<rect x="434.62" y="352.36" width="13.88" height="4.84" fill="#e08880" />
<rect x="447.90" y="352.36" width="13.88" height="4.84" fill="#e3948d" />
<rect x="461.18" y="352.36" width="13.88" height="4.84" fill="#f3cfcc" />
<rect x="474.46" y="352.36" width="13.28" height="4.84" fill="#e6a099" />
<rect x="315.10" y="356.60" width="13.88" height="4.84" fill="#322781" />
<rect x="328.38" y="356.60" width="13.88" height="4.84" fill="#544c9d" />
<rect x="341.66" y="356.60" width="13.88" height="4.84" fill="#ffffff" />
<rect x="354.94" y="356.60" width="13.88" height="4.84" fill="#a4a2d3" />
<rect x="368.22" y="356.60" width="13.88" height="4.84" fill="#b1afd9" />
<rect x="381.50" y="356.60" width="13.88" height="4.84" fill="#7571b9" />
<rect x="394.78" y="356.60" width="13.88" height="4.84" fill="#e3948d" />
<rect x="408.06" y="356.60" width="13.88" height="4.84" fill="#ffffff" />
<rect x="421.34" y="356.60" width="13.88" height="4.84" fill="#e3948d" />
<rect x="434.62" y="356.60" width="13.88" height="4.84" fill="#e08880" />
<rect x="447.90" y="356.60" width="13.88" height="4.84" fill="#d4594f" />
<rect x="461.18" y="356.60" width="13.88" height="4.84" fill="#f0c4c0" />
<rect x="474.46" y="356.60" width="13.28" height="4.84" fill="#e08880" />
<rect x="315.10" y="360.84" width="13.88" height="4.84" fill="#322781" />
<rect x="328.38" y="360.84" width="13.88" height="4.84" fill="#645eab" />
<rect x="341.66" y="360.84" width="13.88" height="4.84" fill="#f2f2f9" />
<rect x="354.94" y="360.84" width="13.88" height="4.84" fill="#6c68b2" />
<rect x="368.22" y="360.84" width="13.88" height="4.84" fill="#a4a2d3" />
<rect x="381.50" y="360.84" width="13.88" height="4.84" fill="#a4a2d3" />
<rect x="394.78" y="360.84" width="13.88" height="4.84" fill="#e3948d" />
<rect x="408.06" y="360.84" width="13.88" height="4.84" fill="#ffffff" />
<rect x="421.34" y="360.84" width="13.88" height="4.84" fill="#ecb8b3" />
<rect x="434.62" y="360.84" width="13.88" height="4.84" fill="#ca3328" />
<rect x="447.90" y="360.84" width="13.88" height="4.84" fill="#e3948d" />
<rect x="461.18" y="360.84" width="13.88" height="4.84" fill="#ffffff" />
<rect x="474.46" y="360.84" width="13.28" height="4.84" fill="#e3948d" />
<rect x="315.10" y="365.08" width="13.88" height="4.84" fill="#5c55a4" />
<rect x="328.38" y="365.08" width="13.88" height="4.84" fill="#5c55a4" />
<rect x="341.66" y="365.08" width="13.88" height="4.84" fill="#b1afd9" />
<rect x="354.94" y="365.08" width="13.88" height="4.84" fill="#6c68b2" />
<rect x="368.22" y="365.08" width="13.88" height="4.84" fill="#9795cd" />
<rect x="381.50" y="365.08" width="13.88" height="4.84" fill="#8a87c6" />
<rect x="394.78" y="365.08" width="13.88" height="4.84" fill="#d4594f" />
<rect x="408.06" y="365.08" width="13.88" height="4.84" fill="#e3948d" />
<rect x="421.34" y="365.08" width="13.88" height="4.84" fill="#f2f2f9" />
<rect x="434.62" y="365.08" width="13.88" height="4.84" fill="#de7f76" />
<rect x="447.90" y="365.08" width="13.88" height="4.84" fill="#ecb8b3" />
<rect x="461.18" y="365.08" width="13.88" height="4.84" fill="#ecb8b3" />
<rect x="474.46" y="365.08" width="13.28" height="4.84" fill="#e3948d" />
<rect x="315.10" y="369.31" width="13.88" height="4.84" fill="#322781" />
<rect x="328.38" y="369.31" width="13.88" height="4.84" fill="#a4a2d3" />
<rect x="341.66" y="369.31" width="13.88" height="4.84" fill="#f2f2f9" />
<rect x="354.94" y="369.31" width="13.88" height="4.84" fill="#322781" />
<rect x="368.22" y="369.31" width="13.88" height="4.84" fill="#bebce0" />
<rect x="381.50" y="369.31" width="13.88" height="4.84" fill="#fdf9f9" />
<rect x="394.78" y="369.31" width="13.88" height="4.84" fill="#fcf3f2" />
<rect x="408.06" y="369.31" width="13.88" height="4.84" fill="#e5e4f2" />
<rect x="421.34" y="369.31" width="13.88" height="4.84" fill="#f0c4c0" />
<rect x="434.62" y="369.31" width="13.88" height="4.84" fill="#d66259" />
<rect x="447.90" y="369.31" width="13.88" height="4.84" fill="#e08880" />
<rect x="461.18" y="369.31" width="13.88" height="4.84" fill="#fdf9f9" />
<rect x="474.46" y="369.31" width="13.28" height="4.84" fill="#cd3d32" />
<rect x="315.10" y="373.55" width="13.88" height="4.84" fill="#322781" />
<rect x="328.38" y="373.55" width="13.88" height="4.84" fill="#645eab" />
<rect x="341.66" y="373.55" width="13.88" height="4.84" fill="#a4a2d3" />
<rect x="354.94" y="373.55" width="13.88" height="4.84" fill="#645eab" />
<rect x="368.22" y="373.55" width="13.88" height="4.84" fill="#f2f2f9" />
<rect x="381.50" y="373.55" width="13.88" height="4.84" fill="#b1afd9" />
<rect x="394.78" y="373.55" width="13.88" height="4.84" fill="#d8d7ec" />
<rect x="408.06" y="373.55" width="13.88" height="4.84" fill="#d25045" />
<rect x="421.34" y="373.55" width="13.88" height="4.84" fill="#f6dbd9" />
<rect x="434.62" y="373.55" width="13.88" height="4.84" fill="#d4594f" />
<rect x="447.90" y="373.55" width="13.88" height="4.84" fill="#d66259" />
<rect x="461.18" y="373.55" width="13.88" height="4.84" fill="#ffffff" />
<rect x="474.46" y="373.55" width="13.28" height="4.84" fill="#e08880" />
<rect x="315.10" y="377.79" width="13.88" height="4.84" fill="#6c68b2" />
<rect x="328.38" y="377.79" width="13.88" height="4.84" fill="#322781" />
<rect x="341.66" y="377.79" width="13.88" height="4.84" fill="#a4a2d3" />
<rect x="354.94" y="377.79" width="13.88" height="4.84" fill="#7571b9" />
<rect x="368.22" y="377.79" width="13.88" height="4.84" fill="#9795cd" />
<rect x="381.50" y="377.79" width="13.88" height="4.84" fill="#3b3088" />
<rect x="394.78" y="377.79" width="13.88" height="4.84" fill="#e3948d" />
<rect x="408.06" y="377.79" width="13.88" height="4.84" fill="#e08880" />
<rect x="421.34" y="377.79" width="13.88" height="4.84" fill="#f3cfcc" />
<rect x="434.62" y="377.79" width="13.88" height="4.84" fill="#e3948d" />
<rect x="447.90" y="377.79" width="13.88" height="4.84" fill="#f3cfcc" />
<rect x="461.18" y="377.79" width="13.88" height="4.84" fill="#e6a099" />
<rect x="474.46" y="377.79" width="13.28" height="4.84" fill="#e6a099" />
<rect x="315.10" y="382.03" width="13.88" height="4.84" fill="#6c68b2" />
<rect x="328.38" y="382.03" width="13.88" height="4.84" fill="#322781" />
<rect x="341.66" y="382.03" width="13.88" height="4.84" fill="#e5e4f2" />
<rect x="354.94" y="382.03" width="13.88" height="4.84" fill="#7571b9" />
<rect x="368.22" y="382.03" width="13.88" height="4.84" fill="#9795cd" />
<rect x="381.50" y="382.03" width="13.88" height="4.84" fill="#645eab" />
<rect x="394.78" y="382.03" width="13.88" height="4.84" fill="#e3948d" />
<rect x="408.06" y="382.03" width="13.88" height="4.84" fill="#e5e4f2" />
<rect x="421.34" y="382.03" width="13.88" height="4.84" fill="#f3cfcc" />
<rect x="434.62" y="382.03" width="13.88" height="4.84" fill="#cd3d32" />
<rect x="447.90" y="382.03" width="13.88" height="4.84" fill="#e08880" />
<rect x="461.18" y="382.03" width="13.88" height="4.84" fill="#e9aca6" />
<rect x="474.46" y="382.03" width="13.28" height="4.84" fill="#e6a099" />
<rect x="315.10" y="386.27" width="13.88" height="4.84" fill="#7571b9" />
<rect x="328.38" y="386.27" width="13.88" height="4.84" fill="#322781" />
<rect x="341.66" y="386.27" width="13.88" height="4.84" fill="#ffffff" />
<rect x="354.94" y="386.27" width="13.88" height="4.84" fill="#6c68b2" />
<rect x="368.22" y="386.27" width="13.88" height="4.84" fill="#8a87c6" />
<rect x="381.50" y="386.27" width="13.88" height="4.84" fill="#5c55a4" />
<rect x="394.78" y="386.27" width="13.88" height="4.84" fill="#d96c63" />
<rect x="408.06" y="386.27" width="13.88" height="4.84" fill="#ffffff" />
<rect x="421.34" y="386.27" width="13.88" height="4.84" fill="#e6a099" />
<rect x="434.62" y="386.27" width="13.88" height="4.84" fill="#db756c" />
<rect x="447.90" y="386.27" width="13.88" height="4.84" fill="#e08880" />
<rect x="461.18" y="386.27" width="13.88" height="4.84" fill="#ecb8b3" />
<rect x="474.46" y="386.27" width="13.28" height="4.84" fill="#e9aca6" />
<rect x="315.10" y="390.50" width="13.88" height="4.84" fill="#645eab" />
<rect x="328.38" y="390.50" width="13.88" height="4.84" fill="#9795cd" />
<rect x="341.66" y="390.50" width="13.88" height="4.84" fill="#7571b9" />
<rect x="354.94" y="390.50" width="13.88" height="4.84" fill="#7571b9" />
<rect x="368.22" y="390.50" width="13.88" height="4.84" fill="#a4a2d3" />
<rect x="381.50" y="390.50" width="13.88" height="4.84" fill="#3b3088" />
<rect x="394.78" y="390.50" width="13.88" height="4.84" fill="#db756c" />
<rect x="408.06" y="390.50" width="13.88" height="4.84" fill="#e3948d" />
<rect x="421.34" y="390.50" width="13.88" height="4.84" fill="#f6dbd9" />
<rect x="434.62" y="390.50" width="13.88" height="4.84" fill="#e6a099" />
<rect x="447.90" y="390.50" width="13.88" height="4.84" fill="#f0c4c0" />
<rect x="461.18" y="390.50" width="13.88" height="4.84" fill="#d96c63" />
<rect x="474.46" y="390.50" width="13.28" height="4.84" fill="#d96c63" />
<rect x="315.10" y="394.74" width="13.88" height="4.84" fill="#6c68b2" />
<rect x="328.38" y="394.74" width="13.88" height="4.84" fill="#9795cd" />
<rect x="341.66" y="394.74" width="13.88" height="4.84" fill="#8a87c6" />
<rect x="354.94" y="394.74" width="13.88" height="4.84" fill="#645eab" />
<rect x="368.22" y="394.74" width="13.88" height="4.84" fill="#3b3088" />
<rect x="381.50" y="394.74" width="13.88" height="4.84" fill="#645eab" />
<rect x="394.78" y="394.74" width="13.88" height="4.84" fill="#e08880" />
<rect x="408.06" y="394.74" width="13.88" height="4.84" fill="#e08880" />
<rect x="421.34" y="394.74" width="13.88" height="4.84" fill="#f0c4c0" />
<rect x="434.62" y="394.74" width="13.88" height="4.84" fill="#d4594f" />
<rect x="447.90" y="394.74" width="13.88" height="4.84" fill="#ecb8b3" />
<rect x="461.18" y="394.74" width="13.88" height="4.84" fill="#f3cfcc" />
<rect x="474.46" y="394.74" width="13.28" height="4.84" fill="#db756c" />
<rect x="315.10" y="398.98" width="13.88" height="4.24" fill="#e6a099" />
<rect x="328.38" y="398.98" width="13.88" height="4.24" fill="#d25045" />
<rect x="341.66" y="398.98" width="13.88" height="4.24" fill="#e9aca6" />
<rect x="354.94" y="398.98" width="13.88" height="4.24" fill="#ecb8b3" />
<rect x="368.22" y="398.98" width="13.88" height="4.24" fill="#f6dbd9" />
<rect x="381.50" y="398.98" width="13.88" height="4.24" fill="#f0c4c0" />
<rect x="394.78" y="398.98" width="13.88" height="4.24" fill="#322781" />
<rect x="408.06" y="398.98" width="13.88" height="4.24" fill="#f0c4c0" />
<rect x="421.34" y="398.98" width="13.88" height="4.24" fill="#a4a2d3" />
<rect x="434.62" y="398.98" width="13.88" height="4.24" fill="#433a8f" />
<rect x="447.90" y="398.98" width="13.88" height="4.24" fill="#b1afd9" />
<rect x="461.18" y="398.98" width="13.88" height="4.24" fill="#b1afd9" />
<rect x="474.46" y="398.98" width="13.28" height="4.24" fill="#bebce0" />
<rect x="315.10" y="37.30" width="79.68" height="1.45" fill="#2b1d78" />
<rect x="394.78" y="37.30" width="92.96" height="1.45" fill="#c8281e" />
<path d="M321.74 36.20L321.74 33.40 M335.02 36.20L335.02 33.40 M321.74 33.40L335.02 33.40 M374.86 36.20L374.86 34.50 M388.14 36.20L388.14 34.50 M374.86 34.50L388.14 34.50 M361.58 36.20L361.58 33.60 M381.50 34.50L381.50 33.60 M361.58 33.60L381.50 33.60 M348.30 36.20L348.30 32.60 M371.54 33.60L371.54 32.60 M348.30 32.60L371.54 32.60 M328.38 33.40L328.38 31.10 M359.92 32.60L359.92 31.10 M328.38 31.10L359.92 31.10 M467.82 36.20L467.82 34.60 M481.10 36.20L481.10 34.60 M467.82 34.60L481.10 34.60 M454.54 36.20L454.54 34.00 M474.46 34.60L474.46 34.00 M454.54 34.00L474.46 34.00 M441.26 36.20L441.26 33.50 M464.50 34.00L464.50 33.50 M441.26 33.50L464.50 33.50 M427.98 36.20L427.98 32.20 M452.88 33.50L452.88 32.20 M427.98 32.20L452.88 32.20 M414.70 36.20L414.70 31.60 M440.43 32.20L440.43 31.60 M414.70 31.60L440.43 31.60 M401.42 36.20L401.42 30.80 M427.57 31.60L427.57 30.80 M401.42 30.80L427.57 30.80 M344.15 31.10L344.15 23.80 M414.49 30.80L414.49 23.80 M344.15 23.80L414.49 23.80" stroke="#111" stroke-width="0.85" fill="none" stroke-linecap="square"/>
<text transform="translate(490.80,42.52) scale(0.9434,1)" font-size="4.876" text-anchor="start" fill="#333" font-weight="normal" stroke="#333" stroke-width="0.08" >Hmmr</text>
<text transform="translate(490.80,46.76) scale(0.9434,1)" font-size="4.876" text-anchor="start" fill="#333" font-weight="normal" stroke="#333" stroke-width="0.08" >Cdkn3</text>
<text transform="translate(490.80,50.99) scale(0.9434,1)" font-size="4.876" text-anchor="start" fill="#333" font-weight="normal" stroke="#333" stroke-width="0.08" >Cdk1</text>
<text transform="translate(490.80,55.23) scale(0.9434,1)" font-size="4.876" text-anchor="start" fill="#333" font-weight="normal" stroke="#333" stroke-width="0.08" >Kif18b</text>
<text transform="translate(490.80,59.47) scale(0.9434,1)" font-size="4.876" text-anchor="start" fill="#333" font-weight="normal" stroke="#333" stroke-width="0.08" >Birc5</text>
<text transform="translate(490.80,63.71) scale(0.9434,1)" font-size="4.876" text-anchor="start" fill="#333" font-weight="normal" stroke="#333" stroke-width="0.08" >Rrm2</text>
<text transform="translate(490.80,67.95) scale(0.9434,1)" font-size="4.876" text-anchor="start" fill="#333" font-weight="normal" stroke="#333" stroke-width="0.08" >Cdca3</text>
<text transform="translate(490.80,72.19) scale(0.9434,1)" font-size="4.876" text-anchor="start" fill="#333" font-weight="normal" stroke="#333" stroke-width="0.08" >Kif2c</text>
<text transform="translate(490.80,76.42) scale(0.9434,1)" font-size="4.876" text-anchor="start" fill="#333" font-weight="normal" stroke="#333" stroke-width="0.08" >Mki67</text>
<text transform="translate(490.80,80.66) scale(0.9434,1)" font-size="4.876" text-anchor="start" fill="#333" font-weight="normal" stroke="#333" stroke-width="0.08" >Ccnb2</text>
<text transform="translate(490.80,84.90) scale(0.9434,1)" font-size="4.876" text-anchor="start" fill="#333" font-weight="normal" stroke="#333" stroke-width="0.08" >Cdc20</text>
<text transform="translate(490.80,89.14) scale(0.9434,1)" font-size="4.876" text-anchor="start" fill="#333" font-weight="normal" stroke="#333" stroke-width="0.08" >Espl1</text>
<text transform="translate(490.80,93.38) scale(0.9434,1)" font-size="4.876" text-anchor="start" fill="#333" font-weight="normal" stroke="#333" stroke-width="0.08" >Mxd3</text>
<text transform="translate(490.80,97.61) scale(0.9434,1)" font-size="4.876" text-anchor="start" fill="#333" font-weight="normal" stroke="#333" stroke-width="0.08" >Spc25</text>
<text transform="translate(490.80,101.85) scale(0.9434,1)" font-size="4.876" text-anchor="start" fill="#333" font-weight="normal" stroke="#333" stroke-width="0.08" >Plk1</text>
<text transform="translate(490.80,106.09) scale(0.9434,1)" font-size="4.876" text-anchor="start" fill="#333" font-weight="normal" stroke="#333" stroke-width="0.08" >Kif4</text>
<text transform="translate(490.80,110.33) scale(0.9434,1)" font-size="4.876" text-anchor="start" fill="#333" font-weight="normal" stroke="#333" stroke-width="0.08" >E2f8</text>
<text transform="translate(490.80,114.57) scale(0.9434,1)" font-size="4.876" text-anchor="start" fill="#333" font-weight="normal" stroke="#333" stroke-width="0.08" >Bub1b</text>
<text transform="translate(490.80,118.80) scale(0.9434,1)" font-size="4.876" text-anchor="start" fill="#333" font-weight="normal" stroke="#333" stroke-width="0.08" >Kif22</text>
<text transform="translate(490.80,123.04) scale(0.9434,1)" font-size="4.876" text-anchor="start" fill="#333" font-weight="normal" stroke="#333" stroke-width="0.08" >Spc24</text>
<text transform="translate(490.80,127.28) scale(0.9434,1)" font-size="4.876" text-anchor="start" fill="#333" font-weight="normal" stroke="#333" stroke-width="0.08" >Cdca8</text>
<text transform="translate(490.80,131.52) scale(0.9434,1)" font-size="4.876" text-anchor="start" fill="#333" font-weight="normal" stroke="#333" stroke-width="0.08" >Top2a</text>
<text transform="translate(490.80,135.76) scale(0.9434,1)" font-size="4.876" text-anchor="start" fill="#333" font-weight="normal" stroke="#333" stroke-width="0.08" >Melk</text>
<text transform="translate(490.80,139.99) scale(0.9434,1)" font-size="4.876" text-anchor="start" fill="#333" font-weight="normal" stroke="#333" stroke-width="0.08" >Spag5</text>
<text transform="translate(490.80,144.23) scale(0.9434,1)" font-size="4.876" text-anchor="start" fill="#333" font-weight="normal" stroke="#333" stroke-width="0.08" >Cenpm</text>
<text transform="translate(490.80,148.47) scale(0.9434,1)" font-size="4.876" text-anchor="start" fill="#333" font-weight="normal" stroke="#333" stroke-width="0.08" >Stmn1</text>
<text transform="translate(490.80,152.71) scale(0.9434,1)" font-size="4.876" text-anchor="start" fill="#333" font-weight="normal" stroke="#333" stroke-width="0.08" >Cenpe</text>
<text transform="translate(490.80,156.95) scale(0.9434,1)" font-size="4.876" text-anchor="start" fill="#333" font-weight="normal" stroke="#333" stroke-width="0.08" >Aurkb</text>
<text transform="translate(490.80,161.18) scale(0.9434,1)" font-size="4.876" text-anchor="start" fill="#333" font-weight="normal" stroke="#333" stroke-width="0.08" >Prdx4</text>
<text transform="translate(490.80,165.42) scale(0.9434,1)" font-size="4.876" text-anchor="start" fill="#333" font-weight="normal" stroke="#333" stroke-width="0.08" >Aurka</text>
<text transform="translate(490.80,169.66) scale(0.9434,1)" font-size="4.876" text-anchor="start" fill="#333" font-weight="normal" stroke="#333" stroke-width="0.08" >Rad51ap1</text>
<text transform="translate(490.80,173.90) scale(0.9434,1)" font-size="4.876" text-anchor="start" fill="#333" font-weight="normal" stroke="#333" stroke-width="0.08" >Asf1b</text>
<text transform="translate(490.80,178.14) scale(0.9434,1)" font-size="4.876" text-anchor="start" fill="#333" font-weight="normal" stroke="#333" stroke-width="0.08" >Brca1</text>
<text transform="translate(490.80,182.37) scale(0.9434,1)" font-size="4.876" text-anchor="start" fill="#333" font-weight="normal" stroke="#333" stroke-width="0.08" >Tcf19</text>
<text transform="translate(490.80,186.61) scale(0.9434,1)" font-size="4.876" text-anchor="start" fill="#333" font-weight="normal" stroke="#333" stroke-width="0.08" >Ube2c</text>
<text transform="translate(490.80,190.85) scale(0.9434,1)" font-size="4.876" text-anchor="start" fill="#333" font-weight="normal" stroke="#333" stroke-width="0.08" >Gins1</text>
<text transform="translate(490.80,195.09) scale(0.9434,1)" font-size="4.876" text-anchor="start" fill="#333" font-weight="normal" stroke="#333" stroke-width="0.08" >Mybl2</text>
<text transform="translate(490.80,199.33) scale(0.9434,1)" font-size="4.876" text-anchor="start" fill="#333" font-weight="normal" stroke="#333" stroke-width="0.08" >Cks1b</text>
<text transform="translate(490.80,203.56) scale(0.9434,1)" font-size="4.876" text-anchor="start" fill="#333" font-weight="normal" stroke="#333" stroke-width="0.08" >Cdkn2c</text>
<text transform="translate(490.80,207.80) scale(0.9434,1)" font-size="4.876" text-anchor="start" fill="#333" font-weight="normal" stroke="#333" stroke-width="0.08" >Bard1</text>
<text transform="translate(490.80,212.04) scale(0.9434,1)" font-size="4.876" text-anchor="start" fill="#333" font-weight="normal" stroke="#333" stroke-width="0.08" >Chek1</text>
<text transform="translate(490.80,216.28) scale(0.9434,1)" font-size="4.876" text-anchor="start" fill="#333" font-weight="normal" stroke="#333" stroke-width="0.08" >Ncapd2</text>
<text transform="translate(490.80,220.52) scale(0.9434,1)" font-size="4.876" text-anchor="start" fill="#333" font-weight="normal" stroke="#333" stroke-width="0.08" >Cdc25a</text>
<text transform="translate(490.80,224.75) scale(0.9434,1)" font-size="4.876" text-anchor="start" fill="#333" font-weight="normal" stroke="#333" stroke-width="0.08" >Tk1</text>
<text transform="translate(490.80,228.99) scale(0.9434,1)" font-size="4.876" text-anchor="start" fill="#333" font-weight="normal" stroke="#333" stroke-width="0.08" >Dlgap5</text>
<text transform="translate(490.80,233.23) scale(0.9434,1)" font-size="4.876" text-anchor="start" fill="#333" font-weight="normal" stroke="#333" stroke-width="0.08" >Mcm6</text>
<text transform="translate(490.80,237.47) scale(0.9434,1)" font-size="4.876" text-anchor="start" fill="#333" font-weight="normal" stroke="#333" stroke-width="0.08" >H2afx</text>
<text transform="translate(490.80,241.71) scale(0.9434,1)" font-size="4.876" text-anchor="start" fill="#333" font-weight="normal" stroke="#333" stroke-width="0.08" >Depdc1a</text>
<text transform="translate(490.80,245.94) scale(0.9434,1)" font-size="4.876" text-anchor="start" fill="#333" font-weight="normal" stroke="#333" stroke-width="0.08" >Racgap1</text>
<text transform="translate(490.80,250.18) scale(0.9434,1)" font-size="4.876" text-anchor="start" fill="#333" font-weight="normal" stroke="#333" stroke-width="0.08" >Cks2</text>
<text transform="translate(490.80,254.42) scale(0.9434,1)" font-size="4.876" text-anchor="start" fill="#333" font-weight="normal" stroke="#333" stroke-width="0.08" >Mcm7</text>
<text transform="translate(490.80,258.66) scale(0.9434,1)" font-size="4.876" text-anchor="start" fill="#333" font-weight="normal" stroke="#333" stroke-width="0.08" >Dscc1</text>
<text transform="translate(490.80,262.89) scale(0.9434,1)" font-size="4.876" text-anchor="start" fill="#333" font-weight="normal" stroke="#333" stroke-width="0.08" >Mcm5</text>
<text transform="translate(490.80,267.13) scale(0.9434,1)" font-size="4.876" text-anchor="start" fill="#333" font-weight="normal" stroke="#333" stroke-width="0.08" >Lig1</text>
<text transform="translate(490.80,271.37) scale(0.9434,1)" font-size="4.876" text-anchor="start" fill="#333" font-weight="normal" stroke="#333" stroke-width="0.08" >Msh2</text>
<text transform="translate(490.80,275.61) scale(0.9434,1)" font-size="4.876" text-anchor="start" fill="#333" font-weight="normal" stroke="#333" stroke-width="0.08" >Psmc3ip</text>
<text transform="translate(490.80,279.85) scale(0.9434,1)" font-size="4.876" text-anchor="start" fill="#333" font-weight="normal" stroke="#333" stroke-width="0.08" >Diaph3</text>
<text transform="translate(490.80,284.09) scale(0.9434,1)" font-size="4.876" text-anchor="start" fill="#333" font-weight="normal" stroke="#333" stroke-width="0.08" >Cit</text>
<text transform="translate(490.80,288.32) scale(0.9434,1)" font-size="4.876" text-anchor="start" fill="#333" font-weight="normal" stroke="#333" stroke-width="0.08" >Orc6</text>
<text transform="translate(490.80,292.56) scale(0.9434,1)" font-size="4.876" text-anchor="start" fill="#333" font-weight="normal" stroke="#333" stroke-width="0.08" >Mcm3</text>
<text transform="translate(490.80,296.80) scale(0.9434,1)" font-size="4.876" text-anchor="start" fill="#333" font-weight="normal" stroke="#333" stroke-width="0.08" >Lmnb1</text>
<text transform="translate(490.80,301.04) scale(0.9434,1)" font-size="4.876" text-anchor="start" fill="#333" font-weight="normal" stroke="#333" stroke-width="0.08" >Gins2</text>
<text transform="translate(490.80,305.27) scale(0.9434,1)" font-size="4.876" text-anchor="start" fill="#333" font-weight="normal" stroke="#333" stroke-width="0.08" >Tacc3</text>
<text transform="translate(490.80,309.51) scale(0.9434,1)" font-size="4.876" text-anchor="start" fill="#333" font-weight="normal" stroke="#333" stroke-width="0.08" >Tipin</text>
<text transform="translate(490.80,313.75) scale(0.9434,1)" font-size="4.876" text-anchor="start" fill="#333" font-weight="normal" stroke="#333" stroke-width="0.08" >Pole</text>
<text transform="translate(490.80,317.99) scale(0.9434,1)" font-size="4.876" text-anchor="start" fill="#333" font-weight="normal" stroke="#333" stroke-width="0.08" >Mad2l1</text>
<text transform="translate(490.80,322.23) scale(0.9434,1)" font-size="4.876" text-anchor="start" fill="#333" font-weight="normal" stroke="#333" stroke-width="0.08" >Dck</text>
<text transform="translate(490.80,326.47) scale(0.9434,1)" font-size="4.876" text-anchor="start" fill="#333" font-weight="normal" stroke="#333" stroke-width="0.08" >Mcm2</text>
<text transform="translate(490.80,330.70) scale(0.9434,1)" font-size="4.876" text-anchor="start" fill="#333" font-weight="normal" stroke="#333" stroke-width="0.08" >Dut</text>
<text transform="translate(490.80,334.94) scale(0.9434,1)" font-size="4.876" text-anchor="start" fill="#333" font-weight="normal" stroke="#333" stroke-width="0.08" >Nasp</text>
<text transform="translate(490.80,339.18) scale(0.9434,1)" font-size="4.876" text-anchor="start" fill="#333" font-weight="normal" stroke="#333" stroke-width="0.08" >Ccne1</text>
<text transform="translate(490.80,343.42) scale(0.9434,1)" font-size="4.876" text-anchor="start" fill="#333" font-weight="normal" stroke="#333" stroke-width="0.08" >Ezh2</text>
<text transform="translate(490.80,347.66) scale(0.9434,1)" font-size="4.876" text-anchor="start" fill="#333" font-weight="normal" stroke="#333" stroke-width="0.08" >Prim2</text>
<text transform="translate(490.80,351.89) scale(0.9434,1)" font-size="4.876" text-anchor="start" fill="#333" font-weight="normal" stroke="#333" stroke-width="0.08" >Mcm4</text>
<text transform="translate(490.80,356.13) scale(0.9434,1)" font-size="4.876" text-anchor="start" fill="#333" font-weight="normal" stroke="#333" stroke-width="0.08" >Rfc3</text>
<text transform="translate(490.80,360.37) scale(0.9434,1)" font-size="4.876" text-anchor="start" fill="#333" font-weight="normal" stroke="#333" stroke-width="0.08" >Hells</text>
<text transform="translate(490.80,364.61) scale(0.9434,1)" font-size="4.876" text-anchor="start" fill="#333" font-weight="normal" stroke="#333" stroke-width="0.08" >Tmpo</text>
<text transform="translate(490.80,368.85) scale(0.9434,1)" font-size="4.876" text-anchor="start" fill="#333" font-weight="normal" stroke="#333" stroke-width="0.08" >Rpa2</text>
<text transform="translate(490.80,373.08) scale(0.9434,1)" font-size="4.876" text-anchor="start" fill="#333" font-weight="normal" stroke="#333" stroke-width="0.08" >Wee1</text>
<text transform="translate(490.80,377.32) scale(0.9434,1)" font-size="4.876" text-anchor="start" fill="#333" font-weight="normal" stroke="#333" stroke-width="0.08" >Asf1a</text>
<text transform="translate(490.80,381.56) scale(0.9434,1)" font-size="4.876" text-anchor="start" fill="#333" font-weight="normal" stroke="#333" stroke-width="0.08" >Rfc2</text>
<text transform="translate(490.80,385.80) scale(0.9434,1)" font-size="4.876" text-anchor="start" fill="#333" font-weight="normal" stroke="#333" stroke-width="0.08" >Mms22l</text>
<text transform="translate(490.80,390.04) scale(0.9434,1)" font-size="4.876" text-anchor="start" fill="#333" font-weight="normal" stroke="#333" stroke-width="0.08" >Timeless</text>
<text transform="translate(490.80,394.27) scale(0.9434,1)" font-size="4.876" text-anchor="start" fill="#333" font-weight="normal" stroke="#333" stroke-width="0.08" >Xrcc6</text>
<text transform="translate(490.80,398.51) scale(0.9434,1)" font-size="4.876" text-anchor="start" fill="#333" font-weight="normal" stroke="#333" stroke-width="0.08" >Tubb5</text>
<text transform="translate(490.80,402.75) scale(0.9434,1)" font-size="4.876" text-anchor="start" fill="#d02020" font-weight="normal" stroke="#d02020" stroke-width="0.08" >Myc</text>
<text x="0.00" y="0.00" font-size="5.060" text-anchor="start" fill="#333" font-weight="normal" stroke="#333" stroke-width="0.08" transform="translate(320.14,406.4) rotate(90) scale(0.8696,1)">mb1_CTRL_1</text>
<text x="0.00" y="0.00" font-size="5.060" text-anchor="start" fill="#333" font-weight="normal" stroke="#333" stroke-width="0.08" transform="translate(333.42,406.4) rotate(90) scale(0.8696,1)">mb1_CTRL_3</text>
<text x="0.00" y="0.00" font-size="5.060" text-anchor="start" fill="#333" font-weight="normal" stroke="#333" stroke-width="0.08" transform="translate(346.70,406.4) rotate(90) scale(0.8696,1)">CD19_CTRL_1</text>
<text x="0.00" y="0.00" font-size="5.060" text-anchor="start" fill="#333" font-weight="normal" stroke="#333" stroke-width="0.08" transform="translate(359.98,406.4) rotate(90) scale(0.8696,1)">mb1_CTRL_2</text>
<text x="0.00" y="0.00" font-size="5.060" text-anchor="start" fill="#333" font-weight="normal" stroke="#333" stroke-width="0.08" transform="translate(373.26,406.4) rotate(90) scale(0.8696,1)">CD19_CTRL_2</text>
<text x="0.00" y="0.00" font-size="5.060" text-anchor="start" fill="#333" font-weight="normal" stroke="#333" stroke-width="0.08" transform="translate(386.54,406.4) rotate(90) scale(0.8696,1)">CD19_CTRL_3</text>
<text x="0.00" y="0.00" font-size="5.060" text-anchor="start" fill="#333" font-weight="normal" stroke="#333" stroke-width="0.08" transform="translate(399.82,406.4) rotate(90) scale(0.8696,1)">mb1_NIC_2</text>
<text x="0.00" y="0.00" font-size="5.060" text-anchor="start" fill="#333" font-weight="normal" stroke="#333" stroke-width="0.08" transform="translate(413.10,406.4) rotate(90) scale(0.8696,1)">CD19_NIC_3</text>
<text x="0.00" y="0.00" font-size="5.060" text-anchor="start" fill="#333" font-weight="normal" stroke="#333" stroke-width="0.08" transform="translate(426.38,406.4) rotate(90) scale(0.8696,1)">CD19_NIC_1</text>
<text x="0.00" y="0.00" font-size="5.060" text-anchor="start" fill="#333" font-weight="normal" stroke="#333" stroke-width="0.08" transform="translate(439.66,406.4) rotate(90) scale(0.8696,1)">CD19_NIC_2</text>
<text x="0.00" y="0.00" font-size="5.060" text-anchor="start" fill="#333" font-weight="normal" stroke="#333" stroke-width="0.08" transform="translate(452.94,406.4) rotate(90) scale(0.8696,1)">mb1_NIC_1</text>
<text x="0.00" y="0.00" font-size="5.060" text-anchor="start" fill="#333" font-weight="normal" stroke="#333" stroke-width="0.08" transform="translate(466.22,406.4) rotate(90) scale(0.8696,1)">mb1_NIC_3</text>
<text x="0.00" y="0.00" font-size="5.060" text-anchor="start" fill="#333" font-weight="normal" stroke="#333" stroke-width="0.08" transform="translate(479.50,406.4) rotate(90) scale(0.8696,1)">mb1_NIC_4</text>
<rect x="490.00" y="23.10" width="3.80" height="3.80" fill="#1a3a7a" />
<text transform="translate(496.90,27.50) scale(0.8696,1)" font-size="5.520" text-anchor="start" fill="#333" font-weight="normal" stroke="#333" stroke-width="0.08" >CTRL</text>
<rect x="490.00" y="31.10" width="3.80" height="3.80" fill="#b0102a" />
<text transform="translate(496.90,35.50) scale(0.8696,1)" font-size="5.520" text-anchor="start" fill="#333" font-weight="normal" stroke="#333" stroke-width="0.08" >NIC</text>
<text x="9.00" y="461.40" font-size="12.000" text-anchor="start" fill="#000" font-weight="bold" >E</text>
<circle cx="55.00" cy="468.90" r="1.05" fill="#1d4088"/>
<text transform="translate(60.00,469.80) scale(0.8696,1)" font-size="5.232" text-anchor="start" fill="#333" font-weight="normal" stroke="#333" stroke-width="0.08" >IgH.TE<tspan font-size="3.4" dy="0.9">μ</tspan><tspan dy="-0.9">;control</tspan></text>
<rect x="53.95" y="476.15" width="2.10" height="2.10" fill="#c0182e" />
<text transform="translate(60.00,478.10) scale(0.8696,1)" font-size="5.232" text-anchor="start" fill="#333" font-weight="normal" stroke="#333" stroke-width="0.08" >IgH.TE<tspan font-size="3.4" dy="0.9">μ</tspan><tspan dy="-0.9">;RNIC</tspan><tspan font-size="3.3" dy="-1.7">fl/+ mb1-Cre</tspan></text>
<line x1="50.50" y1="484.60" x2="50.50" y2="558.30" stroke="#000" stroke-width="1.4" />
<line x1="49.90" y1="557.70" x2="150.40" y2="557.70" stroke="#000" stroke-width="1.4" />
<line x1="48.70" y1="553.46" x2="50.50" y2="553.46" stroke="#000" stroke-width="0.5" />
<line x1="48.70" y1="550.97" x2="50.50" y2="550.97" stroke="#000" stroke-width="0.5" />
<line x1="48.70" y1="549.21" x2="50.50" y2="549.21" stroke="#000" stroke-width="0.5" />
<line x1="48.70" y1="547.84" x2="50.50" y2="547.84" stroke="#000" stroke-width="0.5" />
<line x1="48.70" y1="546.73" x2="50.50" y2="546.73" stroke="#000" stroke-width="0.5" />
<line x1="48.70" y1="545.78" x2="50.50" y2="545.78" stroke="#000" stroke-width="0.5" />
<line x1="48.70" y1="544.97" x2="50.50" y2="544.97" stroke="#000" stroke-width="0.5" />
<line x1="48.70" y1="544.25" x2="50.50" y2="544.25" stroke="#000" stroke-width="0.5" />
<line x1="48.70" y1="539.36" x2="50.50" y2="539.36" stroke="#000" stroke-width="0.5" />
<line x1="48.70" y1="536.87" x2="50.50" y2="536.87" stroke="#000" stroke-width="0.5" />
<line x1="48.70" y1="535.11" x2="50.50" y2="535.11" stroke="#000" stroke-width="0.5" />
<line x1="48.70" y1="533.74" x2="50.50" y2="533.74" stroke="#000" stroke-width="0.5" />
<line x1="48.70" y1="532.63" x2="50.50" y2="532.63" stroke="#000" stroke-width="0.5" />
<line x1="48.70" y1="531.68" x2="50.50" y2="531.68" stroke="#000" stroke-width="0.5" />
<line x1="48.70" y1="530.87" x2="50.50" y2="530.87" stroke="#000" stroke-width="0.5" />
<line x1="48.70" y1="530.15" x2="50.50" y2="530.15" stroke="#000" stroke-width="0.5" />
<line x1="48.70" y1="525.26" x2="50.50" y2="525.26" stroke="#000" stroke-width="0.5" />
<line x1="48.70" y1="522.77" x2="50.50" y2="522.77" stroke="#000" stroke-width="0.5" />
<line x1="48.70" y1="521.01" x2="50.50" y2="521.01" stroke="#000" stroke-width="0.5" />
<line x1="48.70" y1="519.64" x2="50.50" y2="519.64" stroke="#000" stroke-width="0.5" />
<line x1="48.70" y1="518.53" x2="50.50" y2="518.53" stroke="#000" stroke-width="0.5" />
<line x1="48.70" y1="517.58" x2="50.50" y2="517.58" stroke="#000" stroke-width="0.5" />
<line x1="48.70" y1="516.77" x2="50.50" y2="516.77" stroke="#000" stroke-width="0.5" />
<line x1="48.70" y1="516.05" x2="50.50" y2="516.05" stroke="#000" stroke-width="0.5" />
<line x1="48.70" y1="511.16" x2="50.50" y2="511.16" stroke="#000" stroke-width="0.5" />
<line x1="48.70" y1="508.67" x2="50.50" y2="508.67" stroke="#000" stroke-width="0.5" />
<line x1="48.70" y1="506.91" x2="50.50" y2="506.91" stroke="#000" stroke-width="0.5" />
<line x1="48.70" y1="505.54" x2="50.50" y2="505.54" stroke="#000" stroke-width="0.5" />
<line x1="48.70" y1="504.43" x2="50.50" y2="504.43" stroke="#000" stroke-width="0.5" />
<line x1="48.70" y1="503.48" x2="50.50" y2="503.48" stroke="#000" stroke-width="0.5" />
<line x1="48.70" y1="502.67" x2="50.50" y2="502.67" stroke="#000" stroke-width="0.5" />
<line x1="48.70" y1="501.95" x2="50.50" y2="501.95" stroke="#000" stroke-width="0.5" />
<line x1="48.70" y1="497.06" x2="50.50" y2="497.06" stroke="#000" stroke-width="0.5" />
<line x1="48.70" y1="494.57" x2="50.50" y2="494.57" stroke="#000" stroke-width="0.5" />
<line x1="48.70" y1="492.81" x2="50.50" y2="492.81" stroke="#000" stroke-width="0.5" />
<line x1="48.70" y1="491.44" x2="50.50" y2="491.44" stroke="#000" stroke-width="0.5" />
<line x1="48.70" y1="490.33" x2="50.50" y2="490.33" stroke="#000" stroke-width="0.5" />
<line x1="48.70" y1="489.38" x2="50.50" y2="489.38" stroke="#000" stroke-width="0.5" />
<line x1="48.70" y1="488.57" x2="50.50" y2="488.57" stroke="#000" stroke-width="0.5" />
<line x1="48.70" y1="487.85" x2="50.50" y2="487.85" stroke="#000" stroke-width="0.5" />
<line x1="47.30" y1="487.20" x2="50.50" y2="487.20" stroke="#000" stroke-width="0.9" />
<text transform="translate(45.00,488.75) scale(0.8696,1)" font-size="5.175" text-anchor="end" fill="#333" font-weight="normal" stroke="#333" stroke-width="0.08" >10000</text>
<line x1="47.30" y1="501.50" x2="50.50" y2="501.50" stroke="#000" stroke-width="0.9" />
<text transform="translate(45.00,503.05) scale(0.8696,1)" font-size="5.175" text-anchor="end" fill="#333" font-weight="normal" stroke="#333" stroke-width="0.08" >1000</text>
<line x1="47.30" y1="515.70" x2="50.50" y2="515.70" stroke="#000" stroke-width="0.9" />
<text transform="translate(45.00,517.25) scale(0.8696,1)" font-size="5.175" text-anchor="end" fill="#333" font-weight="normal" stroke="#333" stroke-width="0.08" >100</text>
<line x1="47.30" y1="529.70" x2="50.50" y2="529.70" stroke="#000" stroke-width="0.9" />
<text transform="translate(45.00,531.25) scale(0.8696,1)" font-size="5.175" text-anchor="end" fill="#333" font-weight="normal" stroke="#333" stroke-width="0.08" >10</text>
<line x1="47.30" y1="543.50" x2="50.50" y2="543.50" stroke="#000" stroke-width="0.9" />
<text transform="translate(45.00,545.05) scale(0.8696,1)" font-size="5.175" text-anchor="end" fill="#333" font-weight="normal" stroke="#333" stroke-width="0.08" >1</text>
<line x1="47.30" y1="557.70" x2="50.50" y2="557.70" stroke="#000" stroke-width="0.9" />
<text transform="translate(45.00,559.25) scale(0.8696,1)" font-size="5.175" text-anchor="end" fill="#333" font-weight="normal" stroke="#333" stroke-width="0.08" >0.1</text>
<text x="0.00" y="0.00" font-size="6.095" text-anchor="middle" fill="#333" font-weight="normal" stroke="#333" stroke-width="0.08" transform="translate(26.8,520.8) rotate(-90) scale(0.8696,1)">mRNA fold change</text>
<line x1="60.30" y1="557.70" x2="60.30" y2="560.60" stroke="#000" stroke-width="0.9" />
<text transform="translate(60.30,567.80) scale(0.8696,1)" font-size="5.290" text-anchor="middle" fill="#333" font-weight="normal" stroke="#333" stroke-width="0.08" >Hes1</text>
<circle cx="54.89" cy="538.80" r="1.25" fill="#1d4088"/>
<circle cx="56.65" cy="542.30" r="1.25" fill="#1d4088"/>
<circle cx="57.60" cy="543.10" r="1.25" fill="#1d4088"/>
<circle cx="55.02" cy="545.40" r="1.25" fill="#1d4088"/>
<circle cx="56.30" cy="547.70" r="1.25" fill="#1d4088"/>
<circle cx="57.29" cy="544.20" r="1.25" fill="#1d4088"/>
<circle cx="55.41" cy="553.50" r="1.25" fill="#1d4088"/>
<rect x="62.47" y="525.75" width="2.50" height="2.50" fill="#c0182e" rx="0.5"/>
<rect x="63.50" y="526.55" width="2.50" height="2.50" fill="#c0182e" rx="0.5"/>
<rect x="63.65" y="527.35" width="2.50" height="2.50" fill="#c0182e" rx="0.5"/>
<rect x="61.59" y="528.15" width="2.50" height="2.50" fill="#c0182e" rx="0.5"/>
<rect x="63.39" y="528.95" width="2.50" height="2.50" fill="#c0182e" rx="0.5"/>
<rect x="64.33" y="529.75" width="2.50" height="2.50" fill="#c0182e" rx="0.5"/>
<rect x="62.18" y="530.55" width="2.50" height="2.50" fill="#c0182e" rx="0.5"/>
<rect x="62.86" y="527.75" width="2.50" height="2.50" fill="#c0182e" rx="0.5"/>
<line x1="53.80" y1="545.00" x2="58.80" y2="545.00" stroke="#1d4088" stroke-width="0.6" />
<line x1="61.80" y1="529.35" x2="66.80" y2="529.35" stroke="#c0182e" stroke-width="0.6" />
<line x1="56.50" y1="517.20" x2="64.10" y2="517.20" stroke="#111" stroke-width="1.1" />
<text transform="translate(60.30,516.20) scale(0.8696,1)" font-size="4.140" text-anchor="middle" fill="#333" font-weight="normal" stroke="#333" stroke-width="0.08" >****</text>
<line x1="80.40" y1="557.70" x2="80.40" y2="560.60" stroke="#000" stroke-width="0.9" />
<text transform="translate(80.40,567.80) scale(0.8696,1)" font-size="5.290" text-anchor="middle" fill="#333" font-weight="normal" stroke="#333" stroke-width="0.08" >Hey1</text>
<circle cx="75.09" cy="538.80" r="1.25" fill="#1d4088"/>
<circle cx="76.86" cy="539.70" r="1.25" fill="#1d4088"/>
<circle cx="77.07" cy="542.30" r="1.25" fill="#1d4088"/>
<circle cx="75.56" cy="544.90" r="1.25" fill="#1d4088"/>
<circle cx="75.99" cy="545.70" r="1.25" fill="#1d4088"/>
<circle cx="77.19" cy="550.00" r="1.25" fill="#1d4088"/>
<circle cx="75.86" cy="553.50" r="1.25" fill="#1d4088"/>
<rect x="82.07" y="506.45" width="2.50" height="2.50" fill="#c0182e" rx="0.5"/>
<rect x="83.02" y="511.65" width="2.50" height="2.50" fill="#c0182e" rx="0.5"/>
<rect x="83.83" y="512.45" width="2.50" height="2.50" fill="#c0182e" rx="0.5"/>
<rect x="82.48" y="515.05" width="2.50" height="2.50" fill="#c0182e" rx="0.5"/>
<rect x="82.66" y="517.65" width="2.50" height="2.50" fill="#c0182e" rx="0.5"/>
<rect x="84.19" y="522.05" width="2.50" height="2.50" fill="#c0182e" rx="0.5"/>
<rect x="82.51" y="513.75" width="2.50" height="2.50" fill="#c0182e" rx="0.5"/>
<line x1="73.90" y1="544.99" x2="78.90" y2="544.99" stroke="#1d4088" stroke-width="0.6" />
<line x1="81.90" y1="515.40" x2="86.90" y2="515.40" stroke="#c0182e" stroke-width="0.6" />
<line x1="76.60" y1="497.80" x2="84.20" y2="497.80" stroke="#111" stroke-width="1.1" />
<text transform="translate(80.40,496.80) scale(0.8696,1)" font-size="4.140" text-anchor="middle" fill="#333" font-weight="normal" stroke="#333" stroke-width="0.08" >*</text>
<line x1="100.30" y1="557.70" x2="100.30" y2="560.60" stroke="#000" stroke-width="0.9" />
<text transform="translate(100.30,567.80) scale(0.8696,1)" font-size="5.290" text-anchor="middle" fill="#333" font-weight="normal" stroke="#333" stroke-width="0.08" >Hey2</text>
<circle cx="95.73" cy="540.60" r="1.25" fill="#1d4088"/>
<circle cx="95.81" cy="542.00" r="1.25" fill="#1d4088"/>
<circle cx="97.58" cy="543.50" r="1.25" fill="#1d4088"/>
<circle cx="94.92" cy="545.00" r="1.25" fill="#1d4088"/>
<circle cx="96.79" cy="546.60" r="1.25" fill="#1d4088"/>
<circle cx="96.86" cy="547.50" r="1.25" fill="#1d4088"/>
<circle cx="95.64" cy="544.00" r="1.25" fill="#1d4088"/>
<rect x="101.87" y="513.35" width="2.50" height="2.50" fill="#c0182e" rx="0.5"/>
<rect x="103.03" y="515.95" width="2.50" height="2.50" fill="#c0182e" rx="0.5"/>
<rect x="104.01" y="517.75" width="2.50" height="2.50" fill="#c0182e" rx="0.5"/>
<rect x="101.96" y="519.45" width="2.50" height="2.50" fill="#c0182e" rx="0.5"/>
<rect x="102.96" y="522.05" width="2.50" height="2.50" fill="#c0182e" rx="0.5"/>
<rect x="104.25" y="528.05" width="2.50" height="2.50" fill="#c0182e" rx="0.5"/>
<line x1="93.80" y1="544.17" x2="98.80" y2="544.17" stroke="#1d4088" stroke-width="0.6" />
<line x1="101.80" y1="520.68" x2="106.80" y2="520.68" stroke="#c0182e" stroke-width="0.6" />
<line x1="96.50" y1="506.50" x2="104.10" y2="506.50" stroke="#111" stroke-width="1.1" />
<text transform="translate(100.30,505.50) scale(0.8696,1)" font-size="4.140" text-anchor="middle" fill="#333" font-weight="normal" stroke="#333" stroke-width="0.08" >***</text>
<line x1="120.50" y1="557.70" x2="120.50" y2="560.60" stroke="#000" stroke-width="0.9" />
<text transform="translate(120.50,567.80) scale(0.8696,1)" font-size="5.290" text-anchor="middle" fill="#333" font-weight="normal" stroke="#333" stroke-width="0.08" >HeyL</text>
<circle cx="115.92" cy="538.80" r="1.25" fill="#1d4088"/>
<circle cx="116.14" cy="541.50" r="1.25" fill="#1d4088"/>
<circle cx="117.06" cy="543.50" r="1.25" fill="#1d4088"/>
<circle cx="115.96" cy="545.50" r="1.25" fill="#1d4088"/>
<circle cx="116.18" cy="547.30" r="1.25" fill="#1d4088"/>
<circle cx="117.16" cy="556.00" r="1.25" fill="#1d4088"/>
<rect x="122.63" y="500.35" width="2.50" height="2.50" fill="#c0182e" rx="0.5"/>
<rect x="123.70" y="503.75" width="2.50" height="2.50" fill="#c0182e" rx="0.5"/>
<rect x="124.68" y="506.45" width="2.50" height="2.50" fill="#c0182e" rx="0.5"/>
<rect x="121.79" y="508.15" width="2.50" height="2.50" fill="#c0182e" rx="0.5"/>
<rect x="123.34" y="509.75" width="2.50" height="2.50" fill="#c0182e" rx="0.5"/>
<rect x="124.21" y="512.45" width="2.50" height="2.50" fill="#c0182e" rx="0.5"/>
<line x1="114.00" y1="545.43" x2="119.00" y2="545.43" stroke="#1d4088" stroke-width="0.6" />
<line x1="122.00" y1="508.07" x2="127.00" y2="508.07" stroke="#c0182e" stroke-width="0.6" />
<line x1="116.70" y1="493.30" x2="124.30" y2="493.30" stroke="#111" stroke-width="1.1" />
<text transform="translate(120.50,492.30) scale(0.8696,1)" font-size="4.140" text-anchor="middle" fill="#333" font-weight="normal" stroke="#333" stroke-width="0.08" >***</text>
<line x1="140.60" y1="557.70" x2="140.60" y2="560.60" stroke="#000" stroke-width="0.9" />
<text transform="translate(140.60,567.80) scale(0.8696,1)" font-size="5.290" text-anchor="middle" fill="#333" font-weight="normal" stroke="#333" stroke-width="0.08" >c-Myc</text>
<circle cx="135.61" cy="540.60" r="1.25" fill="#1d4088"/>
<circle cx="136.45" cy="542.30" r="1.25" fill="#1d4088"/>
<circle cx="137.98" cy="545.00" r="1.25" fill="#1d4088"/>
<circle cx="135.35" cy="548.30" r="1.25" fill="#1d4088"/>
<circle cx="136.61" cy="552.70" r="1.25" fill="#1d4088"/>
<rect x="142.35" y="545.35" width="2.50" height="2.50" fill="#c0182e" rx="0.5"/>
<rect x="143.14" y="547.05" width="2.50" height="2.50" fill="#c0182e" rx="0.5"/>
<rect x="143.92" y="547.95" width="2.50" height="2.50" fill="#c0182e" rx="0.5"/>
<rect x="142.46" y="549.65" width="2.50" height="2.50" fill="#c0182e" rx="0.5"/>
<rect x="143.06" y="550.55" width="2.50" height="2.50" fill="#c0182e" rx="0.5"/>
<rect x="144.15" y="551.45" width="2.50" height="2.50" fill="#c0182e" rx="0.5"/>
<line x1="134.10" y1="545.78" x2="139.10" y2="545.78" stroke="#1d4088" stroke-width="0.6" />
<line x1="142.10" y1="549.92" x2="147.10" y2="549.92" stroke="#c0182e" stroke-width="0.6" />
<line x1="136.80" y1="529.70" x2="144.40" y2="529.70" stroke="#111" stroke-width="1.1" />
<text transform="translate(140.60,528.70) scale(0.8696,1)" font-size="4.140" text-anchor="middle" fill="#333" font-weight="normal" stroke="#333" stroke-width="0.08" >*</text>
<text x="166.70" y="460.20" font-size="12.000" text-anchor="start" fill="#000" font-weight="bold" >F</text>
<circle cx="203.90" cy="468.80" r="1.05" fill="#1d4088"/>
<text transform="translate(208.90,469.70) scale(0.8696,1)" font-size="5.232" text-anchor="start" fill="#333" font-weight="normal" stroke="#333" stroke-width="0.08" >IgH.TE<tspan font-size="3.4" dy="0.9">μ</tspan><tspan dy="-0.9">;control</tspan></text>
<rect x="202.85" y="475.85" width="2.10" height="2.10" fill="#c0182e" />
<text transform="translate(208.90,477.80) scale(0.8696,1)" font-size="5.232" text-anchor="start" fill="#333" font-weight="normal" stroke="#333" stroke-width="0.08" >IgH.TE<tspan font-size="3.4" dy="0.9">μ</tspan><tspan dy="-0.9">;RNIC</tspan><tspan font-size="3.3" dy="-1.7">fl/+ mb1-Cre</tspan></text>
<line x1="199.10" y1="483.50" x2="199.10" y2="558.10" stroke="#000" stroke-width="1.4" />
<line x1="198.50" y1="557.50" x2="358.30" y2="557.50" stroke="#000" stroke-width="1.4" />
<line x1="195.90" y1="486.00" x2="199.10" y2="486.00" stroke="#000" stroke-width="0.9" />
<text transform="translate(193.80,487.65) scale(0.8696,1)" font-size="5.405" text-anchor="end" fill="#333" font-weight="normal" stroke="#333" stroke-width="0.08" >15</text>
<line x1="195.90" y1="509.80" x2="199.10" y2="509.80" stroke="#000" stroke-width="0.9" />
<text transform="translate(193.80,511.45) scale(0.8696,1)" font-size="5.405" text-anchor="end" fill="#333" font-weight="normal" stroke="#333" stroke-width="0.08" >10</text>
<line x1="195.90" y1="533.60" x2="199.10" y2="533.60" stroke="#000" stroke-width="0.9" />
<text transform="translate(193.80,535.25) scale(0.8696,1)" font-size="5.405" text-anchor="end" fill="#333" font-weight="normal" stroke="#333" stroke-width="0.08" >5</text>
<line x1="195.90" y1="557.50" x2="199.10" y2="557.50" stroke="#000" stroke-width="0.9" />
<text transform="translate(193.80,559.15) scale(0.8696,1)" font-size="5.405" text-anchor="end" fill="#333" font-weight="normal" stroke="#333" stroke-width="0.08" >0</text>
<text x="0.00" y="0.00" font-size="6.095" text-anchor="middle" fill="#333" font-weight="normal" stroke="#333" stroke-width="0.08" transform="translate(183.0,520.7) rotate(-90) scale(0.8696,1)">mRNA fold change</text>
<line x1="209.40" y1="557.50" x2="209.40" y2="560.40" stroke="#000" stroke-width="0.9" />
<text transform="translate(209.40,567.60) scale(0.8696,1)" font-size="5.290" text-anchor="middle" fill="#333" font-weight="normal" stroke="#333" stroke-width="0.08" >Ccna2</text>
<circle cx="204.07" cy="546.30" r="1.3" fill="#1d4088"/>
<circle cx="205.75" cy="554.13" r="1.3" fill="#1d4088"/>
<circle cx="206.62" cy="551.93" r="1.3" fill="#1d4088"/>
<circle cx="204.20" cy="550.88" r="1.3" fill="#1d4088"/>
<circle cx="205.40" cy="552.52" r="1.3" fill="#1d4088"/>
<circle cx="206.31" cy="551.83" r="1.3" fill="#1d4088"/>
<circle cx="213.40" cy="524.60" r="1.35" fill="#c0182e"/>
<circle cx="214.35" cy="526.40" r="1.35" fill="#c0182e"/>
<circle cx="214.42" cy="530.20" r="1.35" fill="#c0182e"/>
<circle cx="212.52" cy="531.90" r="1.35" fill="#c0182e"/>
<circle cx="214.24" cy="534.00" r="1.35" fill="#c0182e"/>
<circle cx="215.10" cy="538.80" r="1.35" fill="#c0182e"/>
<circle cx="213.11" cy="546.30" r="1.35" fill="#c0182e"/>
<line x1="203.10" y1="551.27" x2="207.70" y2="551.27" stroke="#1d4088" stroke-width="0.6" />
<line x1="211.30" y1="533.17" x2="216.50" y2="533.17" stroke="#c0182e" stroke-width="0.8" />
<line x1="213.90" y1="530.56" x2="213.90" y2="535.78" stroke="#c0182e" stroke-width="0.7" />
<line x1="212.70" y1="530.56" x2="215.10" y2="530.56" stroke="#c0182e" stroke-width="0.7" />
<line x1="212.70" y1="535.78" x2="215.10" y2="535.78" stroke="#c0182e" stroke-width="0.7" />
<line x1="205.60" y1="516.00" x2="213.20" y2="516.00" stroke="#111" stroke-width="1.1" />
<text transform="translate(209.40,515.00) scale(0.8696,1)" font-size="4.140" text-anchor="middle" fill="#333" font-weight="normal" stroke="#333" stroke-width="0.08" >****</text>
<line x1="229.20" y1="557.50" x2="229.20" y2="560.40" stroke="#000" stroke-width="0.9" />
<text transform="translate(229.20,567.60) scale(0.8696,1)" font-size="5.290" text-anchor="middle" fill="#333" font-weight="normal" stroke="#333" stroke-width="0.08" >Ccnb2</text>
<circle cx="224.53" cy="547.50" r="1.3" fill="#1d4088"/>
<circle cx="225.52" cy="554.71" r="1.3" fill="#1d4088"/>
<circle cx="226.15" cy="554.16" r="1.3" fill="#1d4088"/>
<circle cx="224.00" cy="550.86" r="1.3" fill="#1d4088"/>
<circle cx="224.70" cy="552.42" r="1.3" fill="#1d4088"/>
<circle cx="226.32" cy="552.12" r="1.3" fill="#1d4088"/>
<circle cx="232.56" cy="516.30" r="1.35" fill="#c0182e"/>
<circle cx="233.35" cy="517.50" r="1.35" fill="#c0182e"/>
<circle cx="234.81" cy="521.50" r="1.35" fill="#c0182e"/>
<circle cx="232.31" cy="529.30" r="1.35" fill="#c0182e"/>
<circle cx="233.74" cy="536.20" r="1.35" fill="#c0182e"/>
<circle cx="234.53" cy="539.70" r="1.35" fill="#c0182e"/>
<circle cx="232.30" cy="544.50" r="1.35" fill="#c0182e"/>
<line x1="222.90" y1="551.96" x2="227.50" y2="551.96" stroke="#1d4088" stroke-width="0.6" />
<line x1="231.10" y1="529.29" x2="236.30" y2="529.29" stroke="#c0182e" stroke-width="0.8" />
<line x1="233.70" y1="525.36" x2="233.70" y2="533.21" stroke="#c0182e" stroke-width="0.7" />
<line x1="232.50" y1="525.36" x2="234.90" y2="525.36" stroke="#c0182e" stroke-width="0.7" />
<line x1="232.50" y1="533.21" x2="234.90" y2="533.21" stroke="#c0182e" stroke-width="0.7" />
<line x1="225.40" y1="506.80" x2="233.00" y2="506.80" stroke="#111" stroke-width="1.1" />
<text transform="translate(229.20,505.80) scale(0.8696,1)" font-size="4.140" text-anchor="middle" fill="#333" font-weight="normal" stroke="#333" stroke-width="0.08" >****</text>
<line x1="248.70" y1="557.50" x2="248.70" y2="560.40" stroke="#000" stroke-width="0.9" />
<text transform="translate(248.70,567.60) scale(0.8696,1)" font-size="5.290" text-anchor="middle" fill="#333" font-weight="normal" stroke="#333" stroke-width="0.08" >Ccne2</text>
<circle cx="243.69" cy="555.41" r="1.3" fill="#1d4088"/>
<circle cx="244.76" cy="555.36" r="1.3" fill="#1d4088"/>
<circle cx="246.08" cy="549.57" r="1.3" fill="#1d4088"/>
<circle cx="243.71" cy="549.75" r="1.3" fill="#1d4088"/>
<circle cx="244.71" cy="554.63" r="1.3" fill="#1d4088"/>
<circle cx="245.75" cy="553.98" r="1.3" fill="#1d4088"/>
<circle cx="252.21" cy="537.10" r="1.35" fill="#c0182e"/>
<circle cx="253.36" cy="539.70" r="1.35" fill="#c0182e"/>
<circle cx="254.33" cy="544.00" r="1.35" fill="#c0182e"/>
<circle cx="251.88" cy="546.60" r="1.35" fill="#c0182e"/>
<circle cx="252.71" cy="548.30" r="1.35" fill="#c0182e"/>
<circle cx="254.03" cy="550.00" r="1.35" fill="#c0182e"/>
<circle cx="252.01" cy="550.90" r="1.35" fill="#c0182e"/>
<line x1="242.40" y1="553.12" x2="247.00" y2="553.12" stroke="#1d4088" stroke-width="0.6" />
<line x1="250.60" y1="545.23" x2="255.80" y2="545.23" stroke="#c0182e" stroke-width="0.8" />
<line x1="253.20" y1="543.40" x2="253.20" y2="547.06" stroke="#c0182e" stroke-width="0.7" />
<line x1="252.00" y1="543.40" x2="254.40" y2="543.40" stroke="#c0182e" stroke-width="0.7" />
<line x1="252.00" y1="547.06" x2="254.40" y2="547.06" stroke="#c0182e" stroke-width="0.7" />
<line x1="244.90" y1="527.00" x2="252.50" y2="527.00" stroke="#111" stroke-width="1.1" />
<text transform="translate(248.70,526.00) scale(0.8696,1)" font-size="4.140" text-anchor="middle" fill="#333" font-weight="normal" stroke="#333" stroke-width="0.08" >**</text>
<line x1="268.60" y1="557.50" x2="268.60" y2="560.40" stroke="#000" stroke-width="0.9" />
<text transform="translate(268.60,567.60) scale(0.8696,1)" font-size="5.290" text-anchor="middle" fill="#333" font-weight="normal" stroke="#333" stroke-width="0.08" >Cdc6</text>
<circle cx="263.50" cy="550.75" r="1.3" fill="#1d4088"/>
<circle cx="264.58" cy="552.74" r="1.3" fill="#1d4088"/>
<circle cx="265.48" cy="551.60" r="1.3" fill="#1d4088"/>
<circle cx="263.59" cy="553.13" r="1.3" fill="#1d4088"/>
<circle cx="264.51" cy="553.27" r="1.3" fill="#1d4088"/>
<circle cx="265.72" cy="549.63" r="1.3" fill="#1d4088"/>
<circle cx="272.16" cy="507.50" r="1.35" fill="#c0182e"/>
<circle cx="273.41" cy="522.30" r="1.35" fill="#c0182e"/>
<circle cx="274.52" cy="530.10" r="1.35" fill="#c0182e"/>
<circle cx="271.93" cy="536.00" r="1.35" fill="#c0182e"/>
<circle cx="273.37" cy="538.00" r="1.35" fill="#c0182e"/>
<circle cx="274.26" cy="543.50" r="1.35" fill="#c0182e"/>
<circle cx="272.30" cy="548.80" r="1.35" fill="#c0182e"/>
<line x1="262.30" y1="551.85" x2="266.90" y2="551.85" stroke="#1d4088" stroke-width="0.6" />
<line x1="270.50" y1="532.31" x2="275.70" y2="532.31" stroke="#c0182e" stroke-width="0.8" />
<line x1="273.10" y1="527.44" x2="273.10" y2="537.19" stroke="#c0182e" stroke-width="0.7" />
<line x1="271.90" y1="527.44" x2="274.30" y2="527.44" stroke="#c0182e" stroke-width="0.7" />
<line x1="271.90" y1="537.19" x2="274.30" y2="537.19" stroke="#c0182e" stroke-width="0.7" />
<line x1="264.80" y1="499.00" x2="272.40" y2="499.00" stroke="#111" stroke-width="1.1" />
<text transform="translate(268.60,498.00) scale(0.8696,1)" font-size="4.140" text-anchor="middle" fill="#333" font-weight="normal" stroke="#333" stroke-width="0.08" >**</text>
<line x1="288.70" y1="557.50" x2="288.70" y2="560.40" stroke="#000" stroke-width="0.9" />
<text transform="translate(288.70,567.60) scale(0.8696,1)" font-size="5.290" text-anchor="middle" fill="#333" font-weight="normal" stroke="#333" stroke-width="0.08" >MCM5</text>
<circle cx="283.40" cy="550.73" r="1.3" fill="#1d4088"/>
<circle cx="284.89" cy="549.87" r="1.3" fill="#1d4088"/>
<circle cx="285.79" cy="551.77" r="1.3" fill="#1d4088"/>
<circle cx="283.72" cy="550.21" r="1.3" fill="#1d4088"/>
<circle cx="284.42" cy="549.63" r="1.3" fill="#1d4088"/>
<circle cx="285.95" cy="551.81" r="1.3" fill="#1d4088"/>
<circle cx="292.70" cy="532.90" r="1.35" fill="#c0182e"/>
<circle cx="292.84" cy="535.40" r="1.35" fill="#c0182e"/>
<circle cx="293.68" cy="543.50" r="1.35" fill="#c0182e"/>
<circle cx="292.74" cy="545.60" r="1.35" fill="#c0182e"/>
<circle cx="292.88" cy="548.80" r="1.35" fill="#c0182e"/>
<circle cx="293.78" cy="546.00" r="1.35" fill="#c0182e"/>
<line x1="282.40" y1="550.67" x2="287.00" y2="550.67" stroke="#1d4088" stroke-width="0.6" />
<line x1="290.60" y1="542.03" x2="295.80" y2="542.03" stroke="#c0182e" stroke-width="0.8" />
<line x1="293.20" y1="539.65" x2="293.20" y2="544.41" stroke="#c0182e" stroke-width="0.7" />
<line x1="292.00" y1="539.65" x2="294.40" y2="539.65" stroke="#c0182e" stroke-width="0.7" />
<line x1="292.00" y1="544.41" x2="294.40" y2="544.41" stroke="#c0182e" stroke-width="0.7" />
<line x1="284.90" y1="524.00" x2="292.50" y2="524.00" stroke="#111" stroke-width="1.1" />
<text transform="translate(288.70,523.00) scale(0.8696,1)" font-size="4.140" text-anchor="middle" fill="#333" font-weight="normal" stroke="#333" stroke-width="0.08" >**</text>
<line x1="308.80" y1="557.50" x2="308.80" y2="560.40" stroke="#000" stroke-width="0.9" />
<text transform="translate(308.80,567.60) scale(0.8696,1)" font-size="5.290" text-anchor="middle" fill="#333" font-weight="normal" stroke="#333" stroke-width="0.08" >MCM6</text>
<circle cx="304.09" cy="553.25" r="1.3" fill="#1d4088"/>
<circle cx="304.50" cy="554.02" r="1.3" fill="#1d4088"/>
<circle cx="305.47" cy="554.37" r="1.3" fill="#1d4088"/>
<circle cx="303.94" cy="555.33" r="1.3" fill="#1d4088"/>
<circle cx="304.36" cy="554.01" r="1.3" fill="#1d4088"/>
<circle cx="306.04" cy="555.20" r="1.3" fill="#1d4088"/>
<circle cx="312.49" cy="528.70" r="1.35" fill="#c0182e"/>
<circle cx="313.50" cy="530.10" r="1.35" fill="#c0182e"/>
<circle cx="314.72" cy="539.20" r="1.35" fill="#c0182e"/>
<circle cx="312.04" cy="542.40" r="1.35" fill="#c0182e"/>
<circle cx="312.87" cy="544.50" r="1.35" fill="#c0182e"/>
<circle cx="314.58" cy="549.80" r="1.35" fill="#c0182e"/>
<line x1="302.50" y1="554.36" x2="307.10" y2="554.36" stroke="#1d4088" stroke-width="0.6" />
<line x1="310.70" y1="539.12" x2="315.90" y2="539.12" stroke="#c0182e" stroke-width="0.8" />
<line x1="313.30" y1="536.03" x2="313.30" y2="542.21" stroke="#c0182e" stroke-width="0.7" />
<line x1="312.10" y1="536.03" x2="314.50" y2="536.03" stroke="#c0182e" stroke-width="0.7" />
<line x1="312.10" y1="542.21" x2="314.50" y2="542.21" stroke="#c0182e" stroke-width="0.7" />
<line x1="305.00" y1="519.10" x2="312.60" y2="519.10" stroke="#111" stroke-width="1.1" />
<text transform="translate(308.80,518.10) scale(0.8696,1)" font-size="4.140" text-anchor="middle" fill="#333" font-weight="normal" stroke="#333" stroke-width="0.08" >*</text>
<line x1="328.70" y1="557.50" x2="328.70" y2="560.40" stroke="#000" stroke-width="0.9" />
<text transform="translate(328.70,567.60) scale(0.8696,1)" font-size="5.290" text-anchor="middle" fill="#333" font-weight="normal" stroke="#333" stroke-width="0.08" >MCM7</text>
<circle cx="323.25" cy="554.36" r="1.3" fill="#1d4088"/>
<circle cx="324.31" cy="554.54" r="1.3" fill="#1d4088"/>
<circle cx="325.55" cy="552.35" r="1.3" fill="#1d4088"/>
<circle cx="323.92" cy="550.90" r="1.3" fill="#1d4088"/>
<circle cx="324.34" cy="549.20" r="1.3" fill="#1d4088"/>
<circle cx="325.27" cy="553.51" r="1.3" fill="#1d4088"/>
<circle cx="331.82" cy="535.40" r="1.35" fill="#c0182e"/>
<circle cx="332.91" cy="536.70" r="1.35" fill="#c0182e"/>
<circle cx="333.96" cy="543.50" r="1.35" fill="#c0182e"/>
<circle cx="332.64" cy="545.60" r="1.35" fill="#c0182e"/>
<circle cx="333.20" cy="547.70" r="1.35" fill="#c0182e"/>
<circle cx="334.38" cy="550.90" r="1.35" fill="#c0182e"/>
<line x1="322.40" y1="552.48" x2="327.00" y2="552.48" stroke="#1d4088" stroke-width="0.6" />
<line x1="330.60" y1="543.30" x2="335.80" y2="543.30" stroke="#c0182e" stroke-width="0.8" />
<line x1="333.20" y1="541.01" x2="333.20" y2="545.59" stroke="#c0182e" stroke-width="0.7" />
<line x1="332.00" y1="541.01" x2="334.40" y2="541.01" stroke="#c0182e" stroke-width="0.7" />
<line x1="332.00" y1="545.59" x2="334.40" y2="545.59" stroke="#c0182e" stroke-width="0.7" />
<line x1="324.90" y1="524.40" x2="332.50" y2="524.40" stroke="#111" stroke-width="1.1" />
<text transform="translate(328.70,523.40) scale(0.8696,1)" font-size="4.140" text-anchor="middle" fill="#333" font-weight="normal" stroke="#333" stroke-width="0.08" >**</text>
<line x1="348.40" y1="557.50" x2="348.40" y2="560.40" stroke="#000" stroke-width="0.9" />
<text transform="translate(348.40,567.60) scale(0.8696,1)" font-size="5.290" text-anchor="middle" fill="#333" font-weight="normal" stroke="#333" stroke-width="0.08" >Dbf4</text>
<circle cx="343.27" cy="551.30" r="1.3" fill="#1d4088"/>
<circle cx="344.88" cy="550.18" r="1.3" fill="#1d4088"/>
<circle cx="345.82" cy="553.43" r="1.3" fill="#1d4088"/>
<circle cx="343.86" cy="549.67" r="1.3" fill="#1d4088"/>
<circle cx="344.69" cy="552.68" r="1.3" fill="#1d4088"/>
<circle cx="345.74" cy="551.58" r="1.3" fill="#1d4088"/>
<circle cx="352.12" cy="543.50" r="1.35" fill="#c0182e"/>
<circle cx="352.49" cy="544.50" r="1.35" fill="#c0182e"/>
<circle cx="353.98" cy="546.60" r="1.35" fill="#c0182e"/>
<circle cx="352.28" cy="548.80" r="1.35" fill="#c0182e"/>
<circle cx="353.23" cy="549.80" r="1.35" fill="#c0182e"/>
<circle cx="353.88" cy="545.50" r="1.35" fill="#c0182e"/>
<line x1="342.10" y1="551.47" x2="346.70" y2="551.47" stroke="#1d4088" stroke-width="0.6" />
<line x1="350.30" y1="546.45" x2="355.50" y2="546.45" stroke="#c0182e" stroke-width="0.8" />
<line x1="352.90" y1="545.53" x2="352.90" y2="547.37" stroke="#c0182e" stroke-width="0.7" />
<line x1="351.70" y1="545.53" x2="354.10" y2="545.53" stroke="#c0182e" stroke-width="0.7" />
<line x1="351.70" y1="547.37" x2="354.10" y2="547.37" stroke="#c0182e" stroke-width="0.7" />
<line x1="344.60" y1="534.40" x2="352.20" y2="534.40" stroke="#111" stroke-width="1.1" />
<text transform="translate(348.40,533.40) scale(0.8696,1)" font-size="4.140" text-anchor="middle" fill="#333" font-weight="normal" stroke="#333" stroke-width="0.08" >***</text>
<text x="354.80" y="445.40" font-size="12.000" text-anchor="start" fill="#000" font-weight="bold" >G</text>
<text transform="translate(418.40,456.00) scale(0.8696,1)" font-size="5.865" text-anchor="middle" fill="#333" font-weight="normal" stroke="#333" stroke-width="0.08" >IgH.TE<tspan font-size="3.6" dy="0.9">μ</tspan><tspan dy="-0.9">;control</tspan></text>
<line x1="392.20" y1="460.00" x2="446.60" y2="460.00" stroke="#444" stroke-width="1.3" />
<text transform="translate(478.80,456.00) scale(0.8696,1)" font-size="5.865" text-anchor="middle" fill="#333" font-weight="normal" stroke="#333" stroke-width="0.08" >IgH.TE<tspan font-size="3.6" dy="0.9">μ</tspan><tspan dy="-0.9">;RNIC</tspan><tspan font-size="3.2" dy="-1.8">fl/+ mb1-Cre</tspan></text>
<line x1="450.80" y1="460.00" x2="509.50" y2="460.00" stroke="#444" stroke-width="1.3" />
<defs><filter id="bl" x="-30%" y="-200%" width="160%" height="500%"><feGaussianBlur stdDeviation="0.55"/></filter><filter id="gn" x="0" y="0" width="100%" height="100%" color-interpolation-filters="sRGB"><feTurbulence type="fractalNoise" baseFrequency="0.12 0.25" numOctaves="2" seed="4"/><feColorMatrix type="matrix" values="0 0 0 0 0.9  0 0 0 0 0.9  0 0 0 0 0.9  1.6 0 0 0 -0.7"/></filter></defs>
<rect x="390.00" y="463.20" width="120.80" height="17.30" fill="rgb(208,208,208)" stroke="#5a5a5a" stroke-width="0.8"/>
<rect x="391.70" y="470.45" width="12.4" height="2.50" rx="1.25" fill="rgb(50,50,50)" filter="url(#bl)"/>
<rect x="406.70" y="470.70" width="12.4" height="2.00" rx="1.00" fill="rgb(100,100,100)" filter="url(#bl)"/>
<rect x="421.70" y="471.00" width="12.4" height="1.40" rx="0.70" fill="rgb(185,185,185)" filter="url(#bl)"/>
<rect x="436.80" y="470.80" width="12.4" height="1.80" rx="0.90" fill="rgb(125,125,125)" filter="url(#bl)"/>
<rect x="451.70" y="470.40" width="12.4" height="2.60" rx="1.30" fill="rgb(35,35,35)" filter="url(#bl)"/>
<rect x="466.80" y="469.80" width="12.4" height="3.80" rx="1.90" fill="rgb(30,30,30)" filter="url(#bl)"/>
<rect x="481.80" y="470.20" width="12.4" height="3.00" rx="1.50" fill="rgb(35,35,35)" filter="url(#bl)"/>
<rect x="497.40" y="469.90" width="12.4" height="3.60" rx="1.80" fill="rgb(30,30,30)" filter="url(#bl)"/>
<text transform="translate(386.80,473.45) scale(0.8696,1)" font-size="5.290" text-anchor="end" fill="#222" font-weight="normal" stroke="#222" stroke-width="0.08" >Cyclin A2</text>
<rect x="390.00" y="482.20" width="120.80" height="15.20" fill="rgb(205,205,205)" stroke="#5a5a5a" stroke-width="0.8"/>
<rect x="391.70" y="488.10" width="12.4" height="3.00" rx="1.50" fill="rgb(35,35,35)" filter="url(#bl)"/>
<rect x="406.70" y="488.20" width="12.4" height="2.80" rx="1.40" fill="rgb(35,35,35)" filter="url(#bl)"/>
<rect x="421.70" y="488.30" width="12.4" height="2.60" rx="1.30" fill="rgb(38,38,38)" filter="url(#bl)"/>
<rect x="436.80" y="488.30" width="12.4" height="2.60" rx="1.30" fill="rgb(38,38,38)" filter="url(#bl)"/>
<rect x="451.70" y="488.30" width="12.4" height="2.60" rx="1.30" fill="rgb(40,40,40)" filter="url(#bl)"/>
<rect x="466.80" y="488.30" width="12.4" height="2.60" rx="1.30" fill="rgb(40,40,40)" filter="url(#bl)"/>
<rect x="481.80" y="488.40" width="12.4" height="2.40" rx="1.20" fill="rgb(45,45,45)" filter="url(#bl)"/>
<rect x="497.40" y="488.40" width="12.4" height="2.40" rx="1.20" fill="rgb(42,42,42)" filter="url(#bl)"/>
<text transform="translate(386.80,491.40) scale(0.8696,1)" font-size="5.290" text-anchor="end" fill="#222" font-weight="normal" stroke="#222" stroke-width="0.08" >Actin</text>
<rect x="390.00" y="502.20" width="120.80" height="16.30" fill="rgb(190,190,190)" stroke="#5a5a5a" stroke-width="0.8"/>
<rect x="391.70" y="509.60" width="12.4" height="2.20" rx="1.10" fill="rgb(55,55,55)" filter="url(#bl)"/>
<rect x="406.70" y="509.60" width="12.4" height="2.20" rx="1.10" fill="rgb(55,55,55)" filter="url(#bl)"/>
<rect x="421.70" y="510.00" width="12.4" height="1.40" rx="0.70" fill="rgb(150,150,150)" filter="url(#bl)"/>
<rect x="436.80" y="509.90" width="12.4" height="1.60" rx="0.80" fill="rgb(135,135,135)" filter="url(#bl)"/>
<rect x="451.70" y="509.60" width="12.4" height="2.20" rx="1.10" fill="rgb(50,50,50)" filter="url(#bl)"/>
<rect x="466.80" y="509.20" width="12.4" height="3.00" rx="1.50" fill="rgb(25,25,25)" filter="url(#bl)"/>
<rect x="481.80" y="509.00" width="12.4" height="3.40" rx="1.70" fill="rgb(20,20,20)" filter="url(#bl)"/>
<rect x="497.40" y="509.80" width="12.4" height="1.80" rx="0.90" fill="rgb(110,110,110)" filter="url(#bl)"/>
<text transform="translate(386.80,511.95) scale(0.8696,1)" font-size="5.290" text-anchor="end" fill="#222" font-weight="normal" stroke="#222" stroke-width="0.08" >Cyclin E2</text>
<rect x="390.00" y="519.80" width="120.80" height="12.90" fill="rgb(150,150,150)" stroke="#5a5a5a" stroke-width="0.8"/>
<rect x="390.50" y="520.30" width="119.80" height="11.90" fill="#fff" filter="url(#gn)"/>
<rect x="391.70" y="526.80" width="12.4" height="2.40" rx="1.20" fill="rgb(95,95,95)" filter="url(#bl)"/>
<rect x="406.70" y="526.80" width="12.4" height="2.40" rx="1.20" fill="rgb(90,90,90)" filter="url(#bl)"/>
<rect x="421.70" y="526.90" width="12.4" height="2.20" rx="1.10" fill="rgb(100,100,100)" filter="url(#bl)"/>
<rect x="436.80" y="526.80" width="12.4" height="2.40" rx="1.20" fill="rgb(85,85,85)" filter="url(#bl)"/>
<rect x="451.70" y="526.90" width="12.4" height="2.20" rx="1.10" fill="rgb(105,105,105)" filter="url(#bl)"/>
<rect x="466.80" y="526.80" width="12.4" height="2.40" rx="1.20" fill="rgb(95,95,95)" filter="url(#bl)"/>
<rect x="481.80" y="526.90" width="12.4" height="2.20" rx="1.10" fill="rgb(100,100,100)" filter="url(#bl)"/>
<rect x="497.40" y="526.90" width="12.4" height="2.20" rx="1.10" fill="rgb(95,95,95)" filter="url(#bl)"/>
<text transform="translate(386.80,527.85) scale(0.8696,1)" font-size="5.290" text-anchor="end" fill="#222" font-weight="normal" stroke="#222" stroke-width="0.08" >c-Myc</text>
<rect x="390.00" y="534.50" width="120.80" height="14.00" fill="rgb(192,192,192)" stroke="#5a5a5a" stroke-width="0.8"/>
<rect x="391.70" y="540.70" width="12.4" height="2.20" rx="1.10" fill="rgb(80,80,80)" filter="url(#bl)"/>
<rect x="406.70" y="540.80" width="12.4" height="2.00" rx="1.00" fill="rgb(85,85,85)" filter="url(#bl)"/>
<rect x="421.70" y="540.80" width="12.4" height="2.00" rx="1.00" fill="rgb(85,85,85)" filter="url(#bl)"/>
<rect x="436.80" y="540.40" width="12.4" height="2.80" rx="1.40" fill="rgb(35,35,35)" filter="url(#bl)"/>
<rect x="451.70" y="540.80" width="12.4" height="2.00" rx="1.00" fill="rgb(95,95,95)" filter="url(#bl)"/>
<rect x="466.80" y="540.50" width="12.4" height="2.60" rx="1.30" fill="rgb(40,40,40)" filter="url(#bl)"/>
<rect x="481.80" y="540.50" width="12.4" height="2.60" rx="1.30" fill="rgb(50,50,50)" filter="url(#bl)"/>
<rect x="497.40" y="540.70" width="12.4" height="2.20" rx="1.10" fill="rgb(80,80,80)" filter="url(#bl)"/>
<text transform="translate(386.80,543.10) scale(0.8696,1)" font-size="5.290" text-anchor="end" fill="#222" font-weight="normal" stroke="#222" stroke-width="0.08" >Actin</text>
<defs><clipPath id="ihcclip"><rect x="37.1" y="607.0" width="68.5" height="51.5"/><rect x="111.6" y="607.0" width="67.8" height="51.5"/><rect x="185.5" y="607.0" width="68.3" height="51.5"/><rect x="37.1" y="664.3" width="68.5" height="51.1"/><rect x="111.6" y="664.3" width="67.8" height="51.1"/><rect x="185.5" y="664.3" width="68.3" height="51.1"/></clipPath></defs>
<text x="8.80" y="589.10" font-size="12.000" text-anchor="start" fill="#000" font-weight="bold" >H</text>
<text transform="translate(71.00,601.40) scale(0.8696,1)" font-size="5.750" text-anchor="middle" fill="#333" font-weight="normal" stroke="#333" stroke-width="0.08" >WT</text>
<text transform="translate(143.80,601.40) scale(0.8696,1)" font-size="5.750" text-anchor="middle" fill="#333" font-weight="normal" stroke="#333" stroke-width="0.08" >IgH.TE<tspan font-size="3.8" dy="0.8">μ</tspan></text>
<text transform="translate(220.40,601.40) scale(0.8696,1)" font-size="5.750" text-anchor="middle" fill="#333" font-weight="normal" stroke="#333" stroke-width="0.08" >IgH.TE<tspan font-size="3.8" dy="0.8">μ</tspan><tspan dy="-0.8">;RNIC</tspan><tspan font-size="3.4" dy="-1.8">fl/+ mb1-Cre</tspan></text>
<text x="0.00" y="0.00" font-size="5.175" text-anchor="middle" fill="#333" font-weight="normal" stroke="#333" stroke-width="0.08" transform="translate(33.0,631.6) rotate(-90) scale(0.8696,1)">Spleen</text>
<text x="0.00" y="0.00" font-size="5.175" text-anchor="middle" fill="#333" font-weight="normal" stroke="#333" stroke-width="0.08" transform="translate(33.0,688.3) rotate(-90) scale(0.8696,1)">LN</text>
<text x="0.00" y="0.00" font-size="5.175" text-anchor="middle" fill="#333" font-weight="normal" stroke="#333" stroke-width="0.08" transform="translate(25.0,659.4) rotate(-90) scale(0.8696,1)">c-Myc</text>
<defs><radialGradient id="lgw"><stop offset="0" stop-color="#fff" stop-opacity="0.28"/><stop offset="1" stop-color="#fff" stop-opacity="0"/></radialGradient><radialGradient id="lgd"><stop offset="0" stop-color="#2a2a80" stop-opacity="0.22"/><stop offset="1" stop-color="#2a2a80" stop-opacity="0"/></radialGradient></defs>
<filter id="ih10" x="0" y="0" width="100%" height="100%" color-interpolation-filters="sRGB"><feTurbulence type="fractalNoise" baseFrequency="0.45" numOctaves="2" seed="10"/><feColorMatrix type="matrix" values="1 0 0 0 0  1 0 0 0 0  1 0 0 0 0  0 0 0 0 1" result="f"/><feTurbulence type="fractalNoise" baseFrequency="0.06" numOctaves="2" seed="60"/><feColorMatrix type="matrix" values="1 0 0 0 0  1 0 0 0 0  1 0 0 0 0  0 0 0 0 1" result="c"/><feComposite in="f" in2="c" operator="arithmetic" k1="0" k2="0.65" k3="0.35" k4="0"/><feComponentTransfer><feFuncR type="table" tableValues="0 0.125 0.25 0.375 0.5 0.625 0.75 0.875 1"/></feComponentTransfer><feColorMatrix type="matrix" values="1.018 0 0 0 0.030  0.980 0 0 0 0.078  0.611 0 0 0 0.500  0 0 0 0 1"/></filter>
<rect x="37.10" y="607.00" width="68.50" height="51.50" fill="#8890c8" filter="url(#ih10)"/>
<circle cx="76.10" cy="629.23" r="0.74" fill="#9a4a3c" opacity="0.71"/>
<circle cx="70.77" cy="621.74" r="0.86" fill="#8e3e32" opacity="0.73"/>
<circle cx="59.90" cy="620.37" r="0.93" fill="#803428" opacity="0.57"/>
<circle cx="95.30" cy="637.86" r="0.64" fill="#803428" opacity="0.84"/>
<circle cx="55.54" cy="616.65" r="0.60" fill="#803428" opacity="0.60"/>
<circle cx="89.16" cy="656.63" r="0.93" fill="#a05444" opacity="0.57"/>
<circle cx="38.37" cy="614.63" r="0.92" fill="#803428" opacity="0.74"/>
<circle cx="89.44" cy="619.89" r="0.78" fill="#a05444" opacity="0.70"/>
<circle cx="42.42" cy="636.94" r="0.87" fill="#9a4a3c" opacity="0.84"/>
<circle cx="102.59" cy="619.80" r="0.47" fill="#803428" opacity="0.84"/>
<circle cx="81.85" cy="634.41" r="0.88" fill="#9a4a3c" opacity="0.68"/>
<circle cx="100.98" cy="653.19" r="0.52" fill="#8e3e32" opacity="0.70"/>
<circle cx="103.40" cy="617.45" r="0.62" fill="#a05444" opacity="0.71"/>
<circle cx="83.37" cy="615.10" r="0.71" fill="#8e3e32" opacity="0.64"/>
<circle cx="58.22" cy="640.69" r="0.92" fill="#9a4a3c" opacity="0.82"/>
<circle cx="70.03" cy="625.20" r="0.67" fill="#8e3e32" opacity="0.74"/>
<circle cx="41.00" cy="652.40" r="0.57" fill="#803428" opacity="0.71"/>
<circle cx="76.86" cy="627.33" r="0.88" fill="#9a4a3c" opacity="0.81"/>
<circle cx="104.09" cy="621.45" r="0.69" fill="#a05444" opacity="0.57"/>
<circle cx="70.64" cy="630.84" r="0.65" fill="#a05444" opacity="0.74"/>
<circle cx="61.32" cy="627.20" r="0.80" fill="#a05444" opacity="0.58"/>
<circle cx="102.87" cy="649.04" r="0.89" fill="#a05444" opacity="0.74"/>
<circle cx="41.46" cy="612.59" r="0.50" fill="#a05444" opacity="0.84"/>
<circle cx="91.27" cy="614.90" r="0.88" fill="#a05444" opacity="0.67"/>
<circle cx="55.33" cy="647.04" r="0.68" fill="#803428" opacity="0.78"/>
<circle cx="98.58" cy="615.60" r="0.57" fill="#8e3e32" opacity="0.79"/>
<circle cx="80.83" cy="637.13" r="0.86" fill="#a05444" opacity="0.56"/>
<circle cx="45.84" cy="622.67" r="0.88" fill="#9a4a3c" opacity="0.80"/>
<circle cx="97.20" cy="610.29" r="0.91" fill="#8e3e32" opacity="0.89"/>
<circle cx="57.08" cy="641.17" r="0.52" fill="#a05444" opacity="0.87"/>
<text transform="translate(40.30,655.30) scale(0.8696,1)" font-size="4.140" text-anchor="start" fill="#222" font-weight="normal" stroke="#222" stroke-width="0.08" >20μm</text>
<rect x="40.30" y="656.10" width="7.50" height="0.80" fill="#111" />
<filter id="ih11" x="0" y="0" width="100%" height="100%" color-interpolation-filters="sRGB"><feTurbulence type="fractalNoise" baseFrequency="0.48" numOctaves="2" seed="11"/><feColorMatrix type="matrix" values="1 0 0 0 0  1 0 0 0 0  1 0 0 0 0  0 0 0 0 1" result="f"/><feTurbulence type="fractalNoise" baseFrequency="0.06" numOctaves="2" seed="61"/><feColorMatrix type="matrix" values="1 0 0 0 0  1 0 0 0 0  1 0 0 0 0  0 0 0 0 1" result="c"/><feComposite in="f" in2="c" operator="arithmetic" k1="0" k2="0.65" k3="0.35" k4="0"/><feComponentTransfer><feFuncR type="table" tableValues="0 0.125 0.25 0.375 0.5 0.625 0.75 0.875 1"/></feComponentTransfer><feColorMatrix type="matrix" values="0.980 0 0 0 0.086  1.011 0 0 0 0.040  0.656 0 0 0 0.450  0 0 0 0 1"/></filter>
<rect x="111.60" y="607.00" width="67.80" height="51.50" fill="#8890c8" filter="url(#ih11)"/>
<circle cx="142.37" cy="635.71" r="0.91" fill="#a05444" opacity="0.71"/>
<circle cx="168.86" cy="617.40" r="0.85" fill="#a05444" opacity="0.77"/>
<circle cx="164.78" cy="612.66" r="0.60" fill="#8e3e32" opacity="0.74"/>
<circle cx="171.19" cy="639.41" r="0.75" fill="#a05444" opacity="0.89"/>
<circle cx="155.63" cy="638.47" r="0.53" fill="#8e3e32" opacity="0.84"/>
<circle cx="116.76" cy="609.76" r="0.89" fill="#8e3e32" opacity="0.82"/>
<circle cx="134.07" cy="637.25" r="0.55" fill="#9a4a3c" opacity="0.77"/>
<circle cx="145.49" cy="640.79" r="0.68" fill="#803428" opacity="0.69"/>
<circle cx="148.87" cy="654.12" r="0.49" fill="#803428" opacity="0.66"/>
<circle cx="127.71" cy="622.31" r="0.49" fill="#8e3e32" opacity="0.69"/>
<circle cx="168.31" cy="627.13" r="0.93" fill="#8e3e32" opacity="0.62"/>
<circle cx="173.60" cy="610.59" r="0.64" fill="#a05444" opacity="0.70"/>
<circle cx="149.86" cy="617.83" r="0.79" fill="#803428" opacity="0.58"/>
<circle cx="134.48" cy="655.72" r="0.83" fill="#8e3e32" opacity="0.60"/>
<circle cx="159.12" cy="608.54" r="0.68" fill="#a05444" opacity="0.61"/>
<circle cx="149.40" cy="630.15" r="0.55" fill="#9a4a3c" opacity="0.70"/>
<circle cx="137.85" cy="627.55" r="0.95" fill="#8e3e32" opacity="0.64"/>
<circle cx="176.49" cy="647.77" r="0.60" fill="#8e3e32" opacity="0.62"/>
<circle cx="138.54" cy="650.29" r="0.77" fill="#8e3e32" opacity="0.56"/>
<circle cx="122.23" cy="629.86" r="0.45" fill="#803428" opacity="0.84"/>
<circle cx="138.01" cy="611.68" r="0.55" fill="#9a4a3c" opacity="0.56"/>
<circle cx="136.86" cy="638.80" r="0.51" fill="#a05444" opacity="0.84"/>
<circle cx="121.53" cy="627.11" r="0.76" fill="#803428" opacity="0.87"/>
<circle cx="166.41" cy="620.35" r="0.54" fill="#9a4a3c" opacity="0.79"/>
<circle cx="138.14" cy="631.88" r="0.49" fill="#8e3e32" opacity="0.59"/>
<circle cx="115.15" cy="655.65" r="0.57" fill="#a05444" opacity="0.64"/>
<circle cx="166.80" cy="637.53" r="0.60" fill="#9a4a3c" opacity="0.88"/>
<circle cx="176.90" cy="614.26" r="0.69" fill="#8e3e32" opacity="0.65"/>
<circle cx="172.96" cy="618.10" r="0.46" fill="#803428" opacity="0.69"/>
<circle cx="128.99" cy="610.31" r="0.59" fill="#9a4a3c" opacity="0.58"/>
<circle cx="121.71" cy="630.29" r="0.62" fill="#9a4a3c" opacity="0.76"/>
<circle cx="173.37" cy="631.50" r="0.63" fill="#803428" opacity="0.89"/>
<circle cx="114.00" cy="639.49" r="0.69" fill="#803428" opacity="0.66"/>
<circle cx="178.36" cy="611.73" r="0.72" fill="#8e3e32" opacity="0.87"/>
<circle cx="161.10" cy="642.83" r="0.85" fill="#803428" opacity="0.67"/>
<circle cx="157.68" cy="652.59" r="0.89" fill="#a05444" opacity="0.88"/>
<circle cx="114.59" cy="632.75" r="0.46" fill="#a05444" opacity="0.68"/>
<circle cx="113.42" cy="611.58" r="0.50" fill="#8e3e32" opacity="0.90"/>
<circle cx="170.49" cy="644.05" r="0.64" fill="#a05444" opacity="0.70"/>
<circle cx="167.76" cy="612.15" r="0.83" fill="#8e3e32" opacity="0.66"/>
<circle cx="118.37" cy="609.10" r="0.93" fill="#8e3e32" opacity="0.72"/>
<circle cx="153.03" cy="653.56" r="0.58" fill="#8e3e32" opacity="0.68"/>
<circle cx="122.02" cy="638.28" r="0.71" fill="#803428" opacity="0.78"/>
<circle cx="141.68" cy="652.14" r="0.61" fill="#803428" opacity="0.62"/>
<circle cx="140.95" cy="647.90" r="0.91" fill="#9a4a3c" opacity="0.68"/>
<circle cx="150.97" cy="623.67" r="0.52" fill="#a05444" opacity="0.67"/>
<circle cx="171.53" cy="610.01" r="0.48" fill="#803428" opacity="0.84"/>
<circle cx="120.02" cy="631.33" r="0.91" fill="#a05444" opacity="0.68"/>
<circle cx="146.81" cy="641.27" r="0.81" fill="#a05444" opacity="0.66"/>
<circle cx="167.13" cy="621.77" r="0.75" fill="#803428" opacity="0.75"/>
<circle cx="132.93" cy="647.18" r="0.46" fill="#9a4a3c" opacity="0.69"/>
<circle cx="125.10" cy="646.08" r="0.58" fill="#9a4a3c" opacity="0.83"/>
<circle cx="177.35" cy="613.71" r="0.50" fill="#803428" opacity="0.89"/>
<circle cx="157.64" cy="617.87" r="0.69" fill="#9a4a3c" opacity="0.80"/>
<circle cx="162.28" cy="634.48" r="0.47" fill="#9a4a3c" opacity="0.65"/>
<circle cx="135.35" cy="642.52" r="0.71" fill="#9a4a3c" opacity="0.69"/>
<circle cx="164.71" cy="652.86" r="0.49" fill="#a05444" opacity="0.60"/>
<circle cx="142.44" cy="638.96" r="0.90" fill="#a05444" opacity="0.74"/>
<circle cx="155.55" cy="632.88" r="0.86" fill="#803428" opacity="0.71"/>
<circle cx="155.46" cy="618.14" r="0.81" fill="#8e3e32" opacity="0.62"/>
<circle cx="171.82" cy="656.53" r="0.94" fill="#803428" opacity="0.64"/>
<circle cx="159.86" cy="608.77" r="0.70" fill="#8e3e32" opacity="0.70"/>
<circle cx="148.81" cy="646.03" r="0.69" fill="#8e3e32" opacity="0.63"/>
<circle cx="169.68" cy="629.23" r="0.47" fill="#803428" opacity="0.79"/>
<circle cx="172.87" cy="631.29" r="0.95" fill="#a05444" opacity="0.88"/>
<circle cx="145.01" cy="654.98" r="0.49" fill="#9a4a3c" opacity="0.70"/>
<circle cx="149.37" cy="649.14" r="0.73" fill="#9a4a3c" opacity="0.73"/>
<circle cx="168.11" cy="635.72" r="0.61" fill="#a05444" opacity="0.88"/>
<circle cx="169.85" cy="638.17" r="0.60" fill="#9a4a3c" opacity="0.89"/>
<circle cx="147.09" cy="636.36" r="0.55" fill="#8e3e32" opacity="0.73"/>
<circle cx="152.42" cy="609.37" r="0.93" fill="#a05444" opacity="0.74"/>
<circle cx="177.70" cy="614.04" r="0.50" fill="#9a4a3c" opacity="0.57"/>
<circle cx="148.05" cy="628.48" r="0.93" fill="#a05444" opacity="0.64"/>
<circle cx="143.73" cy="614.28" r="0.67" fill="#a05444" opacity="0.73"/>
<circle cx="119.75" cy="628.77" r="0.46" fill="#803428" opacity="0.60"/>
<text transform="translate(114.80,655.30) scale(0.8696,1)" font-size="4.140" text-anchor="start" fill="#222" font-weight="normal" stroke="#222" stroke-width="0.08" >20μm</text>
<rect x="114.80" y="656.10" width="7.50" height="0.80" fill="#111" />
<filter id="ih12" x="0" y="0" width="100%" height="100%" color-interpolation-filters="sRGB"><feTurbulence type="fractalNoise" baseFrequency="0.36" numOctaves="2" seed="12"/><feColorMatrix type="matrix" values="1 0 0 0 0  1 0 0 0 0  1 0 0 0 0  0 0 0 0 1" result="f"/><feTurbulence type="fractalNoise" baseFrequency="0.06" numOctaves="2" seed="62"/><feColorMatrix type="matrix" values="1 0 0 0 0  1 0 0 0 0  1 0 0 0 0  0 0 0 0 1" result="c"/><feComposite in="f" in2="c" operator="arithmetic" k1="0" k2="0.75" k3="0.25" k4="0"/><feComponentTransfer><feFuncR type="table" tableValues="0 0.06 0.16 0.34 0.54 0.7 0.83 0.93 1"/></feComponentTransfer><feColorMatrix type="matrix" values="0.747 0 0 0 0.144  0.756 0 0 0 0.112  0.514 0 0 0 0.453  0 0 0 0 1"/></filter>
<rect x="185.50" y="607.00" width="68.30" height="51.50" fill="#8890c8" filter="url(#ih12)"/>
<circle cx="217.96" cy="640.54" r="0.78" fill="#9a4a3c" opacity="0.68"/>
<circle cx="252.58" cy="631.89" r="0.77" fill="#a05444" opacity="0.79"/>
<circle cx="226.38" cy="635.63" r="0.78" fill="#9a4a3c" opacity="0.89"/>
<circle cx="210.88" cy="624.81" r="0.56" fill="#9a4a3c" opacity="0.58"/>
<circle cx="232.04" cy="624.68" r="0.65" fill="#8e3e32" opacity="0.56"/>
<circle cx="190.53" cy="653.29" r="0.70" fill="#8e3e32" opacity="0.90"/>
<circle cx="214.60" cy="629.97" r="0.78" fill="#9a4a3c" opacity="0.74"/>
<circle cx="244.98" cy="635.63" r="0.94" fill="#8e3e32" opacity="0.74"/>
<circle cx="220.13" cy="612.14" r="0.75" fill="#a05444" opacity="0.72"/>
<circle cx="212.00" cy="609.51" r="0.81" fill="#9a4a3c" opacity="0.89"/>
<circle cx="230.50" cy="625.64" r="0.63" fill="#a05444" opacity="0.79"/>
<circle cx="194.05" cy="619.63" r="0.63" fill="#9a4a3c" opacity="0.56"/>
<circle cx="241.04" cy="629.29" r="0.71" fill="#9a4a3c" opacity="0.79"/>
<circle cx="189.38" cy="618.12" r="0.75" fill="#9a4a3c" opacity="0.61"/>
<circle cx="232.64" cy="609.82" r="0.59" fill="#803428" opacity="0.76"/>
<circle cx="234.63" cy="633.44" r="0.63" fill="#803428" opacity="0.65"/>
<circle cx="218.08" cy="655.46" r="0.69" fill="#9a4a3c" opacity="0.71"/>
<circle cx="222.89" cy="617.00" r="0.83" fill="#9a4a3c" opacity="0.87"/>
<circle cx="186.94" cy="621.28" r="0.84" fill="#803428" opacity="0.61"/>
<circle cx="239.20" cy="632.82" r="0.57" fill="#8e3e32" opacity="0.89"/>
<circle cx="252.70" cy="632.93" r="0.46" fill="#803428" opacity="0.86"/>
<circle cx="230.83" cy="621.83" r="0.51" fill="#a05444" opacity="0.72"/>
<circle cx="209.95" cy="641.88" r="0.67" fill="#9a4a3c" opacity="0.71"/>
<circle cx="227.40" cy="610.28" r="0.62" fill="#a05444" opacity="0.80"/>
<circle cx="200.69" cy="622.11" r="0.58" fill="#8e3e32" opacity="0.79"/>
<circle cx="195.23" cy="651.88" r="0.66" fill="#9a4a3c" opacity="0.62"/>
<circle cx="217.78" cy="610.91" r="0.74" fill="#803428" opacity="0.82"/>
<circle cx="214.19" cy="637.13" r="0.90" fill="#9a4a3c" opacity="0.75"/>
<circle cx="209.54" cy="626.24" r="0.82" fill="#9a4a3c" opacity="0.56"/>
<circle cx="233.58" cy="652.74" r="0.85" fill="#8e3e32" opacity="0.87"/>
<circle cx="221.97" cy="647.06" r="0.64" fill="#8e3e32" opacity="0.80"/>
<circle cx="199.03" cy="621.40" r="0.85" fill="#a05444" opacity="0.77"/>
<circle cx="194.77" cy="634.45" r="0.80" fill="#a05444" opacity="0.75"/>
<circle cx="191.26" cy="625.61" r="0.49" fill="#803428" opacity="0.60"/>
<circle cx="192.50" cy="623.47" r="0.80" fill="#a05444" opacity="0.68"/>
<circle cx="188.47" cy="632.15" r="0.67" fill="#9a4a3c" opacity="0.57"/>
<circle cx="225.90" cy="630.62" r="0.89" fill="#8e3e32" opacity="0.88"/>
<circle cx="187.01" cy="625.84" r="0.59" fill="#9a4a3c" opacity="0.79"/>
<circle cx="206.13" cy="633.56" r="0.52" fill="#803428" opacity="0.61"/>
<circle cx="217.30" cy="638.02" r="0.87" fill="#9a4a3c" opacity="0.71"/>
<circle cx="238.57" cy="610.44" r="0.84" fill="#a05444" opacity="0.74"/>
<circle cx="236.97" cy="627.57" r="0.79" fill="#8e3e32" opacity="0.89"/>
<circle cx="223.22" cy="641.70" r="0.63" fill="#8e3e32" opacity="0.66"/>
<circle cx="219.64" cy="625.86" r="0.60" fill="#9a4a3c" opacity="0.72"/>
<circle cx="239.60" cy="614.66" r="0.70" fill="#a05444" opacity="0.83"/>
<circle cx="205.44" cy="654.34" r="0.75" fill="#a05444" opacity="0.83"/>
<circle cx="238.84" cy="638.06" r="0.52" fill="#803428" opacity="0.77"/>
<circle cx="242.37" cy="638.12" r="0.84" fill="#a05444" opacity="0.70"/>
<circle cx="230.16" cy="624.82" r="0.83" fill="#a05444" opacity="0.68"/>
<circle cx="212.99" cy="647.96" r="0.53" fill="#9a4a3c" opacity="0.84"/>
<circle cx="193.77" cy="621.26" r="0.89" fill="#803428" opacity="0.89"/>
<circle cx="247.17" cy="646.15" r="0.88" fill="#803428" opacity="0.84"/>
<circle cx="200.50" cy="651.55" r="0.46" fill="#803428" opacity="0.56"/>
<circle cx="240.22" cy="617.67" r="0.55" fill="#803428" opacity="0.87"/>
<circle cx="251.58" cy="646.29" r="0.72" fill="#8e3e32" opacity="0.76"/>
<circle cx="193.28" cy="641.91" r="0.72" fill="#a05444" opacity="0.58"/>
<circle cx="186.91" cy="614.27" r="0.65" fill="#a05444" opacity="0.77"/>
<circle cx="217.48" cy="639.39" r="0.64" fill="#a05444" opacity="0.86"/>
<circle cx="188.37" cy="649.82" r="0.46" fill="#9a4a3c" opacity="0.72"/>
<circle cx="243.22" cy="642.17" r="0.93" fill="#a05444" opacity="0.74"/>
<circle cx="250.32" cy="626.56" r="0.49" fill="#9a4a3c" opacity="0.67"/>
<circle cx="201.86" cy="628.94" r="0.85" fill="#8e3e32" opacity="0.88"/>
<circle cx="188.55" cy="641.99" r="0.73" fill="#8e3e32" opacity="0.76"/>
<circle cx="225.42" cy="647.77" r="0.76" fill="#a05444" opacity="0.81"/>
<circle cx="214.58" cy="634.88" r="0.61" fill="#9a4a3c" opacity="0.69"/>
<circle cx="229.99" cy="624.70" r="0.48" fill="#803428" opacity="0.60"/>
<circle cx="194.62" cy="632.04" r="0.52" fill="#803428" opacity="0.55"/>
<circle cx="201.65" cy="631.88" r="0.82" fill="#a05444" opacity="0.82"/>
<circle cx="209.02" cy="626.89" r="0.88" fill="#a05444" opacity="0.67"/>
<circle cx="245.47" cy="639.46" r="0.76" fill="#8e3e32" opacity="0.63"/>
<circle cx="212.05" cy="638.31" r="0.51" fill="#a05444" opacity="0.81"/>
<circle cx="203.22" cy="628.71" r="0.50" fill="#a05444" opacity="0.61"/>
<circle cx="222.84" cy="637.49" r="0.74" fill="#a05444" opacity="0.67"/>
<circle cx="211.32" cy="652.89" r="0.91" fill="#a05444" opacity="0.57"/>
<circle cx="227.92" cy="652.02" r="0.92" fill="#803428" opacity="0.77"/>
<circle cx="243.41" cy="615.02" r="0.62" fill="#a05444" opacity="0.56"/>
<circle cx="208.29" cy="634.60" r="0.87" fill="#8e3e32" opacity="0.85"/>
<circle cx="197.35" cy="632.03" r="0.50" fill="#803428" opacity="0.61"/>
<circle cx="215.56" cy="621.99" r="0.87" fill="#9a4a3c" opacity="0.62"/>
<circle cx="204.66" cy="614.04" r="0.56" fill="#9a4a3c" opacity="0.72"/>
<circle cx="250.09" cy="630.69" r="0.92" fill="#a05444" opacity="0.70"/>
<circle cx="212.27" cy="621.51" r="0.90" fill="#9a4a3c" opacity="0.63"/>
<circle cx="221.37" cy="643.96" r="0.70" fill="#803428" opacity="0.67"/>
<circle cx="206.83" cy="609.22" r="0.90" fill="#803428" opacity="0.69"/>
<circle cx="250.63" cy="652.67" r="0.53" fill="#a05444" opacity="0.75"/>
<text transform="translate(188.70,655.30) scale(0.8696,1)" font-size="4.140" text-anchor="start" fill="#222" font-weight="normal" stroke="#222" stroke-width="0.08" >20μm</text>
<rect x="188.70" y="656.10" width="7.50" height="0.80" fill="#111" />
<filter id="ih13" x="0" y="0" width="100%" height="100%" color-interpolation-filters="sRGB"><feTurbulence type="fractalNoise" baseFrequency="0.45" numOctaves="2" seed="13"/><feColorMatrix type="matrix" values="1 0 0 0 0  1 0 0 0 0  1 0 0 0 0  0 0 0 0 1" result="f"/><feTurbulence type="fractalNoise" baseFrequency="0.06" numOctaves="2" seed="63"/><feColorMatrix type="matrix" values="1 0 0 0 0  1 0 0 0 0  1 0 0 0 0  0 0 0 0 1" result="c"/><feComposite in="f" in2="c" operator="arithmetic" k1="0" k2="0.60" k3="0.40" k4="0"/><feComponentTransfer><feFuncR type="table" tableValues="0 0.125 0.25 0.375 0.5 0.625 0.75 0.875 1"/></feComponentTransfer><feColorMatrix type="matrix" values="1.026 0 0 0 0.036  0.980 0 0 0 0.086  0.603 0 0 0 0.514  0 0 0 0 1"/></filter>
<rect x="37.10" y="664.30" width="68.50" height="51.10" fill="#8890c8" filter="url(#ih13)"/>
<circle cx="55.32" cy="698.95" r="0.79" fill="#9a4a3c" opacity="0.78"/>
<circle cx="82.40" cy="707.98" r="0.77" fill="#9a4a3c" opacity="0.60"/>
<circle cx="73.43" cy="675.80" r="0.60" fill="#a05444" opacity="0.59"/>
<circle cx="83.60" cy="714.30" r="0.95" fill="#9a4a3c" opacity="0.58"/>
<circle cx="90.91" cy="708.92" r="0.58" fill="#a05444" opacity="0.81"/>
<circle cx="101.23" cy="704.27" r="0.58" fill="#9a4a3c" opacity="0.72"/>
<circle cx="88.31" cy="693.00" r="0.66" fill="#803428" opacity="0.86"/>
<circle cx="80.57" cy="697.47" r="0.62" fill="#803428" opacity="0.79"/>
<circle cx="74.96" cy="702.05" r="0.52" fill="#a05444" opacity="0.74"/>
<circle cx="57.60" cy="674.11" r="0.63" fill="#803428" opacity="0.71"/>
<circle cx="78.37" cy="684.73" r="0.52" fill="#a05444" opacity="0.74"/>
<circle cx="75.70" cy="708.83" r="0.80" fill="#9a4a3c" opacity="0.58"/>
<circle cx="81.41" cy="712.13" r="0.64" fill="#a05444" opacity="0.88"/>
<circle cx="40.97" cy="672.26" r="0.85" fill="#a05444" opacity="0.77"/>
<text transform="translate(40.30,712.20) scale(0.8696,1)" font-size="4.140" text-anchor="start" fill="#222" font-weight="normal" stroke="#222" stroke-width="0.08" >20μm</text>
<rect x="40.30" y="713.00" width="7.50" height="0.80" fill="#111" />
<filter id="ih14" x="0" y="0" width="100%" height="100%" color-interpolation-filters="sRGB"><feTurbulence type="fractalNoise" baseFrequency="0.48" numOctaves="2" seed="14"/><feColorMatrix type="matrix" values="1 0 0 0 0  1 0 0 0 0  1 0 0 0 0  0 0 0 0 1" result="f"/><feTurbulence type="fractalNoise" baseFrequency="0.06" numOctaves="2" seed="64"/><feColorMatrix type="matrix" values="1 0 0 0 0  1 0 0 0 0  1 0 0 0 0  0 0 0 0 1" result="c"/><feComposite in="f" in2="c" operator="arithmetic" k1="0" k2="0.65" k3="0.35" k4="0"/><feComponentTransfer><feFuncR type="table" tableValues="0 0.125 0.25 0.375 0.5 0.625 0.75 0.875 1"/></feComponentTransfer><feColorMatrix type="matrix" values="0.995 0 0 0 0.075  1.011 0 0 0 0.040  0.664 0 0 0 0.445  0 0 0 0 1"/></filter>
<rect x="111.60" y="664.30" width="67.80" height="51.10" fill="#8890c8" filter="url(#ih14)"/>
<circle cx="119.63" cy="699.80" r="0.78" fill="#9a4a3c" opacity="0.64"/>
<circle cx="129.43" cy="701.34" r="0.78" fill="#803428" opacity="0.71"/>
<circle cx="170.03" cy="684.64" r="0.90" fill="#803428" opacity="0.63"/>
<circle cx="171.92" cy="682.88" r="0.58" fill="#9a4a3c" opacity="0.61"/>
<circle cx="156.39" cy="678.82" r="0.46" fill="#8e3e32" opacity="0.59"/>
<circle cx="134.78" cy="669.39" r="0.55" fill="#a05444" opacity="0.69"/>
<circle cx="177.77" cy="686.84" r="0.75" fill="#8e3e32" opacity="0.75"/>
<circle cx="154.54" cy="683.19" r="0.88" fill="#a05444" opacity="0.73"/>
<circle cx="125.35" cy="687.52" r="0.56" fill="#803428" opacity="0.73"/>
<circle cx="119.34" cy="705.47" r="0.49" fill="#803428" opacity="0.59"/>
<circle cx="123.24" cy="685.52" r="0.79" fill="#8e3e32" opacity="0.70"/>
<circle cx="176.67" cy="673.57" r="0.64" fill="#803428" opacity="0.72"/>
<circle cx="141.36" cy="694.54" r="0.50" fill="#a05444" opacity="0.69"/>
<circle cx="142.16" cy="695.51" r="0.69" fill="#9a4a3c" opacity="0.72"/>
<circle cx="130.15" cy="686.97" r="0.86" fill="#a05444" opacity="0.88"/>
<circle cx="140.44" cy="682.36" r="0.73" fill="#a05444" opacity="0.64"/>
<circle cx="132.49" cy="674.57" r="0.76" fill="#a05444" opacity="0.83"/>
<circle cx="118.87" cy="670.10" r="0.55" fill="#8e3e32" opacity="0.89"/>
<circle cx="151.16" cy="679.17" r="0.92" fill="#803428" opacity="0.90"/>
<circle cx="120.09" cy="712.26" r="0.84" fill="#8e3e32" opacity="0.63"/>
<circle cx="170.04" cy="678.29" r="0.57" fill="#803428" opacity="0.65"/>
<circle cx="162.71" cy="683.40" r="0.73" fill="#9a4a3c" opacity="0.73"/>
<circle cx="167.96" cy="683.29" r="0.64" fill="#a05444" opacity="0.74"/>
<circle cx="163.49" cy="680.74" r="0.91" fill="#8e3e32" opacity="0.64"/>
<circle cx="174.03" cy="688.32" r="0.62" fill="#803428" opacity="0.83"/>
<circle cx="121.15" cy="667.98" r="0.91" fill="#9a4a3c" opacity="0.64"/>
<circle cx="142.04" cy="692.04" r="0.64" fill="#8e3e32" opacity="0.64"/>
<circle cx="136.85" cy="686.17" r="0.51" fill="#9a4a3c" opacity="0.58"/>
<circle cx="165.80" cy="673.74" r="0.46" fill="#9a4a3c" opacity="0.89"/>
<circle cx="169.20" cy="705.56" r="0.95" fill="#8e3e32" opacity="0.75"/>
<circle cx="143.42" cy="712.40" r="0.61" fill="#8e3e32" opacity="0.85"/>
<circle cx="116.67" cy="698.69" r="0.92" fill="#8e3e32" opacity="0.87"/>
<circle cx="117.11" cy="706.53" r="0.51" fill="#8e3e32" opacity="0.84"/>
<circle cx="173.87" cy="668.64" r="0.85" fill="#803428" opacity="0.57"/>
<circle cx="177.35" cy="708.82" r="0.52" fill="#a05444" opacity="0.71"/>
<circle cx="169.48" cy="700.57" r="0.46" fill="#8e3e32" opacity="0.89"/>
<circle cx="128.93" cy="698.74" r="0.77" fill="#8e3e32" opacity="0.74"/>
<circle cx="165.00" cy="700.89" r="0.45" fill="#803428" opacity="0.87"/>
<circle cx="168.88" cy="684.83" r="0.67" fill="#803428" opacity="0.80"/>
<circle cx="134.54" cy="677.69" r="0.59" fill="#803428" opacity="0.89"/>
<circle cx="147.05" cy="706.31" r="0.67" fill="#8e3e32" opacity="0.90"/>
<circle cx="134.97" cy="684.18" r="0.75" fill="#803428" opacity="0.79"/>
<circle cx="176.28" cy="685.87" r="0.55" fill="#8e3e32" opacity="0.68"/>
<circle cx="159.68" cy="677.30" r="0.86" fill="#8e3e32" opacity="0.82"/>
<circle cx="167.06" cy="674.88" r="0.87" fill="#8e3e32" opacity="0.64"/>
<text transform="translate(114.80,712.20) scale(0.8696,1)" font-size="4.140" text-anchor="start" fill="#222" font-weight="normal" stroke="#222" stroke-width="0.08" >20μm</text>
<rect x="114.80" y="713.00" width="7.50" height="0.80" fill="#111" />
<filter id="ih15" x="0" y="0" width="100%" height="100%" color-interpolation-filters="sRGB"><feTurbulence type="fractalNoise" baseFrequency="0.4" numOctaves="2" seed="15"/><feColorMatrix type="matrix" values="1 0 0 0 0  1 0 0 0 0  1 0 0 0 0  0 0 0 0 1" result="f"/><feTurbulence type="fractalNoise" baseFrequency="0.06" numOctaves="2" seed="65"/><feColorMatrix type="matrix" values="1 0 0 0 0  1 0 0 0 0  1 0 0 0 0  0 0 0 0 1" result="c"/><feComposite in="f" in2="c" operator="arithmetic" k1="0" k2="0.75" k3="0.25" k4="0"/><feComponentTransfer><feFuncR type="table" tableValues="0 0.06 0.16 0.34 0.54 0.7 0.83 0.93 1"/></feComponentTransfer><feColorMatrix type="matrix" values="0.738 0 0 0 0.153  0.747 0 0 0 0.121  0.504 0 0 0 0.462  0 0 0 0 1"/></filter>
<rect x="185.50" y="664.30" width="68.30" height="51.10" fill="#8890c8" filter="url(#ih15)"/>
<circle cx="250.50" cy="665.87" r="0.82" fill="#9a4a3c" opacity="0.87"/>
<circle cx="202.34" cy="668.00" r="0.85" fill="#9a4a3c" opacity="0.85"/>
<circle cx="252.79" cy="677.07" r="0.62" fill="#803428" opacity="0.65"/>
<circle cx="203.96" cy="676.52" r="0.88" fill="#803428" opacity="0.83"/>
<circle cx="201.31" cy="710.71" r="0.71" fill="#9a4a3c" opacity="0.75"/>
<circle cx="242.24" cy="689.34" r="0.68" fill="#803428" opacity="0.70"/>
<circle cx="207.39" cy="699.38" r="0.68" fill="#8e3e32" opacity="0.72"/>
<circle cx="249.16" cy="666.22" r="0.52" fill="#9a4a3c" opacity="0.76"/>
<circle cx="238.54" cy="706.75" r="0.46" fill="#a05444" opacity="0.60"/>
<circle cx="243.22" cy="709.09" r="0.65" fill="#8e3e32" opacity="0.71"/>
<circle cx="242.22" cy="692.55" r="0.65" fill="#9a4a3c" opacity="0.61"/>
<circle cx="249.36" cy="682.67" r="0.57" fill="#803428" opacity="0.61"/>
<circle cx="228.01" cy="684.30" r="0.69" fill="#a05444" opacity="0.82"/>
<circle cx="236.70" cy="706.43" r="0.59" fill="#9a4a3c" opacity="0.59"/>
<circle cx="219.15" cy="683.77" r="0.87" fill="#8e3e32" opacity="0.65"/>
<circle cx="189.24" cy="709.19" r="0.92" fill="#9a4a3c" opacity="0.84"/>
<circle cx="223.96" cy="708.14" r="0.70" fill="#8e3e32" opacity="0.72"/>
<circle cx="191.92" cy="712.45" r="0.57" fill="#a05444" opacity="0.79"/>
<circle cx="203.45" cy="669.47" r="0.45" fill="#803428" opacity="0.81"/>
<circle cx="241.88" cy="686.59" r="0.48" fill="#803428" opacity="0.76"/>
<circle cx="207.17" cy="705.65" r="0.85" fill="#a05444" opacity="0.56"/>
<circle cx="230.87" cy="682.39" r="0.64" fill="#8e3e32" opacity="0.60"/>
<circle cx="203.04" cy="713.73" r="0.62" fill="#9a4a3c" opacity="0.79"/>
<circle cx="207.37" cy="680.95" r="0.75" fill="#9a4a3c" opacity="0.67"/>
<circle cx="190.42" cy="673.76" r="0.88" fill="#8e3e32" opacity="0.90"/>
<circle cx="234.49" cy="684.90" r="0.89" fill="#9a4a3c" opacity="0.67"/>
<circle cx="207.39" cy="687.81" r="0.76" fill="#a05444" opacity="0.75"/>
<circle cx="194.56" cy="710.85" r="0.74" fill="#8e3e32" opacity="0.82"/>
<circle cx="196.81" cy="697.49" r="0.87" fill="#9a4a3c" opacity="0.75"/>
<circle cx="222.97" cy="702.19" r="0.63" fill="#9a4a3c" opacity="0.89"/>
<circle cx="229.36" cy="696.17" r="0.95" fill="#a05444" opacity="0.76"/>
<circle cx="241.56" cy="698.96" r="0.91" fill="#a05444" opacity="0.85"/>
<circle cx="251.96" cy="697.81" r="0.65" fill="#803428" opacity="0.67"/>
<circle cx="236.88" cy="682.84" r="0.54" fill="#a05444" opacity="0.87"/>
<circle cx="232.72" cy="703.79" r="0.50" fill="#803428" opacity="0.62"/>
<circle cx="231.38" cy="704.30" r="0.81" fill="#9a4a3c" opacity="0.86"/>
<circle cx="201.70" cy="673.01" r="0.88" fill="#8e3e32" opacity="0.68"/>
<circle cx="201.49" cy="701.62" r="0.54" fill="#9a4a3c" opacity="0.73"/>
<circle cx="218.25" cy="688.54" r="0.68" fill="#9a4a3c" opacity="0.70"/>
<circle cx="214.55" cy="710.71" r="0.94" fill="#9a4a3c" opacity="0.78"/>
<circle cx="251.31" cy="687.49" r="0.65" fill="#9a4a3c" opacity="0.56"/>
<circle cx="225.22" cy="665.48" r="0.79" fill="#a05444" opacity="0.56"/>
<circle cx="216.40" cy="688.08" r="0.84" fill="#a05444" opacity="0.71"/>
<circle cx="215.81" cy="699.50" r="0.70" fill="#8e3e32" opacity="0.61"/>
<circle cx="249.72" cy="687.40" r="0.69" fill="#a05444" opacity="0.73"/>
<circle cx="200.66" cy="676.10" r="0.83" fill="#a05444" opacity="0.78"/>
<circle cx="232.61" cy="698.80" r="0.61" fill="#a05444" opacity="0.64"/>
<circle cx="248.40" cy="678.61" r="0.66" fill="#803428" opacity="0.86"/>
<circle cx="232.14" cy="678.55" r="0.74" fill="#803428" opacity="0.60"/>
<circle cx="230.26" cy="677.11" r="0.52" fill="#8e3e32" opacity="0.78"/>
<circle cx="239.03" cy="684.70" r="0.66" fill="#803428" opacity="0.83"/>
<circle cx="232.97" cy="688.36" r="0.76" fill="#a05444" opacity="0.81"/>
<circle cx="249.54" cy="688.39" r="0.56" fill="#a05444" opacity="0.67"/>
<circle cx="209.21" cy="681.44" r="0.62" fill="#9a4a3c" opacity="0.72"/>
<circle cx="250.10" cy="701.41" r="0.74" fill="#8e3e32" opacity="0.61"/>
<circle cx="221.59" cy="680.34" r="0.56" fill="#a05444" opacity="0.64"/>
<circle cx="219.24" cy="674.38" r="0.57" fill="#a05444" opacity="0.88"/>
<circle cx="197.16" cy="690.81" r="0.78" fill="#803428" opacity="0.77"/>
<circle cx="240.29" cy="667.37" r="0.83" fill="#9a4a3c" opacity="0.56"/>
<circle cx="242.69" cy="681.49" r="0.60" fill="#803428" opacity="0.66"/>
<circle cx="214.47" cy="692.51" r="0.76" fill="#8e3e32" opacity="0.87"/>
<circle cx="218.01" cy="701.81" r="0.73" fill="#9a4a3c" opacity="0.70"/>
<circle cx="190.83" cy="710.51" r="0.67" fill="#8e3e32" opacity="0.57"/>
<circle cx="192.41" cy="696.29" r="0.82" fill="#a05444" opacity="0.68"/>
<circle cx="199.49" cy="682.18" r="0.86" fill="#8e3e32" opacity="0.88"/>
<text transform="translate(188.70,712.20) scale(0.8696,1)" font-size="4.140" text-anchor="start" fill="#222" font-weight="normal" stroke="#222" stroke-width="0.08" >20μm</text>
<rect x="188.70" y="713.00" width="7.50" height="0.80" fill="#111" />
<g clip-path="url(#ihcclip)">
<ellipse cx="78" cy="642" rx="26" ry="14" fill="url(#lgw)"/>
<ellipse cx="215" cy="632" rx="20" ry="15" fill="url(#lgw)"/>
<ellipse cx="72" cy="690" rx="26" ry="18" fill="url(#lgw)"/>
<ellipse cx="148" cy="690" rx="20" ry="15" fill="url(#lgw)"/>
<ellipse cx="226" cy="688" rx="18" ry="14" fill="url(#lgw)"/>
<ellipse cx="45" cy="615" rx="18" ry="12" fill="url(#lgd)"/>
<ellipse cx="248" cy="615" rx="14" ry="14" fill="url(#lgd)"/>
<ellipse cx="45" cy="672" rx="18" ry="12" fill="url(#lgd)"/>
<ellipse cx="192" cy="668" rx="12" ry="10" fill="url(#lgd)"/>
</g>
<circle cx="297.0" cy="600.6" r="1.1" fill="#5aaa3a"/>
<text transform="translate(301.60,602.20) scale(0.8696,1)" font-size="5.405" text-anchor="start" fill="#333" font-weight="normal" stroke="#333" stroke-width="0.08" >WT</text>
<rect x="295.90" y="608.10" width="2.20" height="2.20" fill="#234a8c" />
<text transform="translate(301.60,610.80) scale(0.8696,1)" font-size="5.405" text-anchor="start" fill="#333" font-weight="normal" stroke="#333" stroke-width="0.08" >IgH.TE<tspan font-size="3.5" dy="0.8">μ</tspan></text>
<path d="M297 618.2 L298.3 620.5 L295.7 620.5Z" fill="#b8284a"/>
<text transform="translate(301.60,621.00) scale(0.8696,1)" font-size="5.405" text-anchor="start" fill="#333" font-weight="normal" stroke="#333" stroke-width="0.08" >IgH.TE<tspan font-size="3.5" dy="0.8">μ</tspan><tspan dy="-0.8">;RNIC</tspan><tspan font-size="3.2" dy="-1.7">fl/+ mb1-Cre</tspan></text>
<line x1="286.20" y1="628.60" x2="286.20" y2="704.60" stroke="#000" stroke-width="1.4" />
<line x1="285.60" y1="704.00" x2="407.70" y2="704.00" stroke="#000" stroke-width="1.4" />
<line x1="283.00" y1="704.00" x2="286.20" y2="704.00" stroke="#000" stroke-width="0.9" />
<text transform="translate(280.90,705.70) scale(0.8696,1)" font-size="5.635" text-anchor="end" fill="#333" font-weight="normal" stroke="#333" stroke-width="0.08" >0</text>
<line x1="283.00" y1="689.36" x2="286.20" y2="689.36" stroke="#000" stroke-width="0.9" />
<text transform="translate(280.90,691.06) scale(0.8696,1)" font-size="5.635" text-anchor="end" fill="#333" font-weight="normal" stroke="#333" stroke-width="0.08" >2</text>
<line x1="283.00" y1="674.72" x2="286.20" y2="674.72" stroke="#000" stroke-width="0.9" />
<text transform="translate(280.90,676.42) scale(0.8696,1)" font-size="5.635" text-anchor="end" fill="#333" font-weight="normal" stroke="#333" stroke-width="0.08" >4</text>
<line x1="283.00" y1="660.08" x2="286.20" y2="660.08" stroke="#000" stroke-width="0.9" />
<text transform="translate(280.90,661.78) scale(0.8696,1)" font-size="5.635" text-anchor="end" fill="#333" font-weight="normal" stroke="#333" stroke-width="0.08" >6</text>
<line x1="283.00" y1="645.44" x2="286.20" y2="645.44" stroke="#000" stroke-width="0.9" />
<text transform="translate(280.90,647.14) scale(0.8696,1)" font-size="5.635" text-anchor="end" fill="#333" font-weight="normal" stroke="#333" stroke-width="0.08" >8</text>
<line x1="283.00" y1="630.80" x2="286.20" y2="630.80" stroke="#000" stroke-width="0.9" />
<text transform="translate(280.90,632.50) scale(0.8696,1)" font-size="5.635" text-anchor="end" fill="#333" font-weight="normal" stroke="#333" stroke-width="0.08" >10</text>
<text x="0.00" y="0.00" font-size="5.980" text-anchor="middle" fill="#333" font-weight="normal" stroke="#333" stroke-width="0.08" transform="translate(269.2,669.2) rotate(-90) scale(0.8696,1)">Positive cells (%)</text>
<line x1="316.30" y1="704.00" x2="316.30" y2="706.80" stroke="#000" stroke-width="0.9" />
<text transform="translate(316.30,714.60) scale(0.8696,1)" font-size="5.290" text-anchor="middle" fill="#333" font-weight="normal" stroke="#333" stroke-width="0.08" >Spleen</text>
<line x1="377.00" y1="704.00" x2="377.00" y2="706.80" stroke="#000" stroke-width="0.9" />
<text transform="translate(377.00,714.60) scale(0.8696,1)" font-size="5.290" text-anchor="middle" fill="#333" font-weight="normal" stroke="#333" stroke-width="0.08" >LN</text>
<circle cx="300.00" cy="673.20" r="1.4" fill="#5aaa3a"/>
<circle cx="297.90" cy="685.50" r="1.4" fill="#5aaa3a"/>
<circle cx="300.90" cy="688.60" r="1.4" fill="#5aaa3a"/>
<circle cx="298.40" cy="693.20" r="1.4" fill="#5aaa3a"/>
<line x1="294.20" y1="685.50" x2="304.60" y2="685.50" stroke="#5aaa3a" stroke-width="0.9" />
<line x1="299.40" y1="680.90" x2="299.40" y2="690.20" stroke="#5aaa3a" stroke-width="0.8" />
<line x1="296.80" y1="680.90" x2="302.00" y2="680.90" stroke="#5aaa3a" stroke-width="0.8" />
<line x1="296.80" y1="690.20" x2="302.00" y2="690.20" stroke="#5aaa3a" stroke-width="0.8" />
<rect x="314.95" y="640.15" width="2.70" height="2.70" fill="#234a8c" />
<rect x="314.95" y="661.65" width="2.70" height="2.70" fill="#234a8c" />
<rect x="314.95" y="676.45" width="2.70" height="2.70" fill="#234a8c" />
<rect x="314.95" y="684.15" width="2.70" height="2.70" fill="#234a8c" />
<line x1="311.10" y1="667.70" x2="321.50" y2="667.70" stroke="#234a8c" stroke-width="0.9" />
<line x1="316.30" y1="657.50" x2="316.30" y2="677.80" stroke="#234a8c" stroke-width="0.8" />
<line x1="313.70" y1="657.50" x2="318.90" y2="657.50" stroke="#234a8c" stroke-width="0.8" />
<line x1="313.70" y1="677.80" x2="318.90" y2="677.80" stroke="#234a8c" stroke-width="0.8" />
<path d="M333.20 647.00 L334.80 649.80 L331.60 649.80Z" fill="#b8284a"/>
<path d="M334.00 647.30 L335.60 650.10 L332.40 650.10Z" fill="#b8284a"/>
<path d="M333.20 690.70 L334.80 693.50 L331.60 693.50Z" fill="#b8284a"/>
<line x1="328.00" y1="663.00" x2="338.40" y2="663.00" stroke="#b8284a" stroke-width="0.9" />
<line x1="333.20" y1="648.60" x2="333.20" y2="677.80" stroke="#b8284a" stroke-width="0.8" />
<line x1="330.60" y1="648.60" x2="335.80" y2="648.60" stroke="#b8284a" stroke-width="0.8" />
<line x1="330.60" y1="677.80" x2="335.80" y2="677.80" stroke="#b8284a" stroke-width="0.8" />
<circle cx="360.00" cy="689.80" r="1.4" fill="#5aaa3a"/>
<circle cx="358.60" cy="701.50" r="1.4" fill="#5aaa3a"/>
<circle cx="361.40" cy="701.50" r="1.4" fill="#5aaa3a"/>
<circle cx="360.00" cy="702.00" r="1.4" fill="#5aaa3a"/>
<line x1="354.80" y1="697.00" x2="365.20" y2="697.00" stroke="#5aaa3a" stroke-width="0.9" />
<line x1="360.00" y1="693.90" x2="360.00" y2="700.30" stroke="#5aaa3a" stroke-width="0.8" />
<line x1="357.40" y1="693.90" x2="362.60" y2="693.90" stroke="#5aaa3a" stroke-width="0.8" />
<line x1="357.40" y1="700.30" x2="362.60" y2="700.30" stroke="#5aaa3a" stroke-width="0.8" />
<rect x="375.45" y="684.15" width="2.70" height="2.70" fill="#234a8c" />
<rect x="373.55" y="693.65" width="2.70" height="2.70" fill="#234a8c" />
<rect x="376.55" y="694.65" width="2.70" height="2.70" fill="#234a8c" />
<rect x="374.95" y="701.65" width="2.70" height="2.70" fill="#234a8c" />
<line x1="371.10" y1="694.50" x2="381.50" y2="694.50" stroke="#234a8c" stroke-width="0.9" />
<line x1="376.30" y1="691.30" x2="376.30" y2="697.00" stroke="#234a8c" stroke-width="0.8" />
<line x1="373.70" y1="691.30" x2="378.90" y2="691.30" stroke="#234a8c" stroke-width="0.8" />
<line x1="373.70" y1="697.00" x2="378.90" y2="697.00" stroke="#234a8c" stroke-width="0.8" />
<path d="M391.00 692.40 L392.60 695.20 L389.40 695.20Z" fill="#b8284a"/>
<path d="M392.30 693.80 L393.90 696.60 L390.70 696.60Z" fill="#b8284a"/>
<path d="M393.70 694.40 L395.30 697.20 L392.10 697.20Z" fill="#b8284a"/>
<path d="M395.00 695.00 L396.60 697.80 L393.40 697.80Z" fill="#b8284a"/>
<path d="M393.00 695.40 L394.60 698.20 L391.40 698.20Z" fill="#b8284a"/>
<line x1="387.80" y1="695.50" x2="398.20" y2="695.50" stroke="#b8284a" stroke-width="0.9" />
<line x1="393.00" y1="694.50" x2="393.00" y2="696.60" stroke="#b8284a" stroke-width="0.8" />
<line x1="390.40" y1="694.50" x2="395.60" y2="694.50" stroke="#b8284a" stroke-width="0.8" />
<line x1="390.40" y1="696.60" x2="395.60" y2="696.60" stroke="#b8284a" stroke-width="0.8" />
<rect x="0.00" y="0.00" width="520.00" height="1.25" fill="#000" /><rect x="0.00" y="0.00" width="1.45" height="724.00" fill="#000" /><rect x="518.50" y="0.00" width="1.50" height="724.00" fill="#000" /><rect x="0.00" y="722.50" width="520.00" height="1.50" fill="#000" />
</svg></body></html>
